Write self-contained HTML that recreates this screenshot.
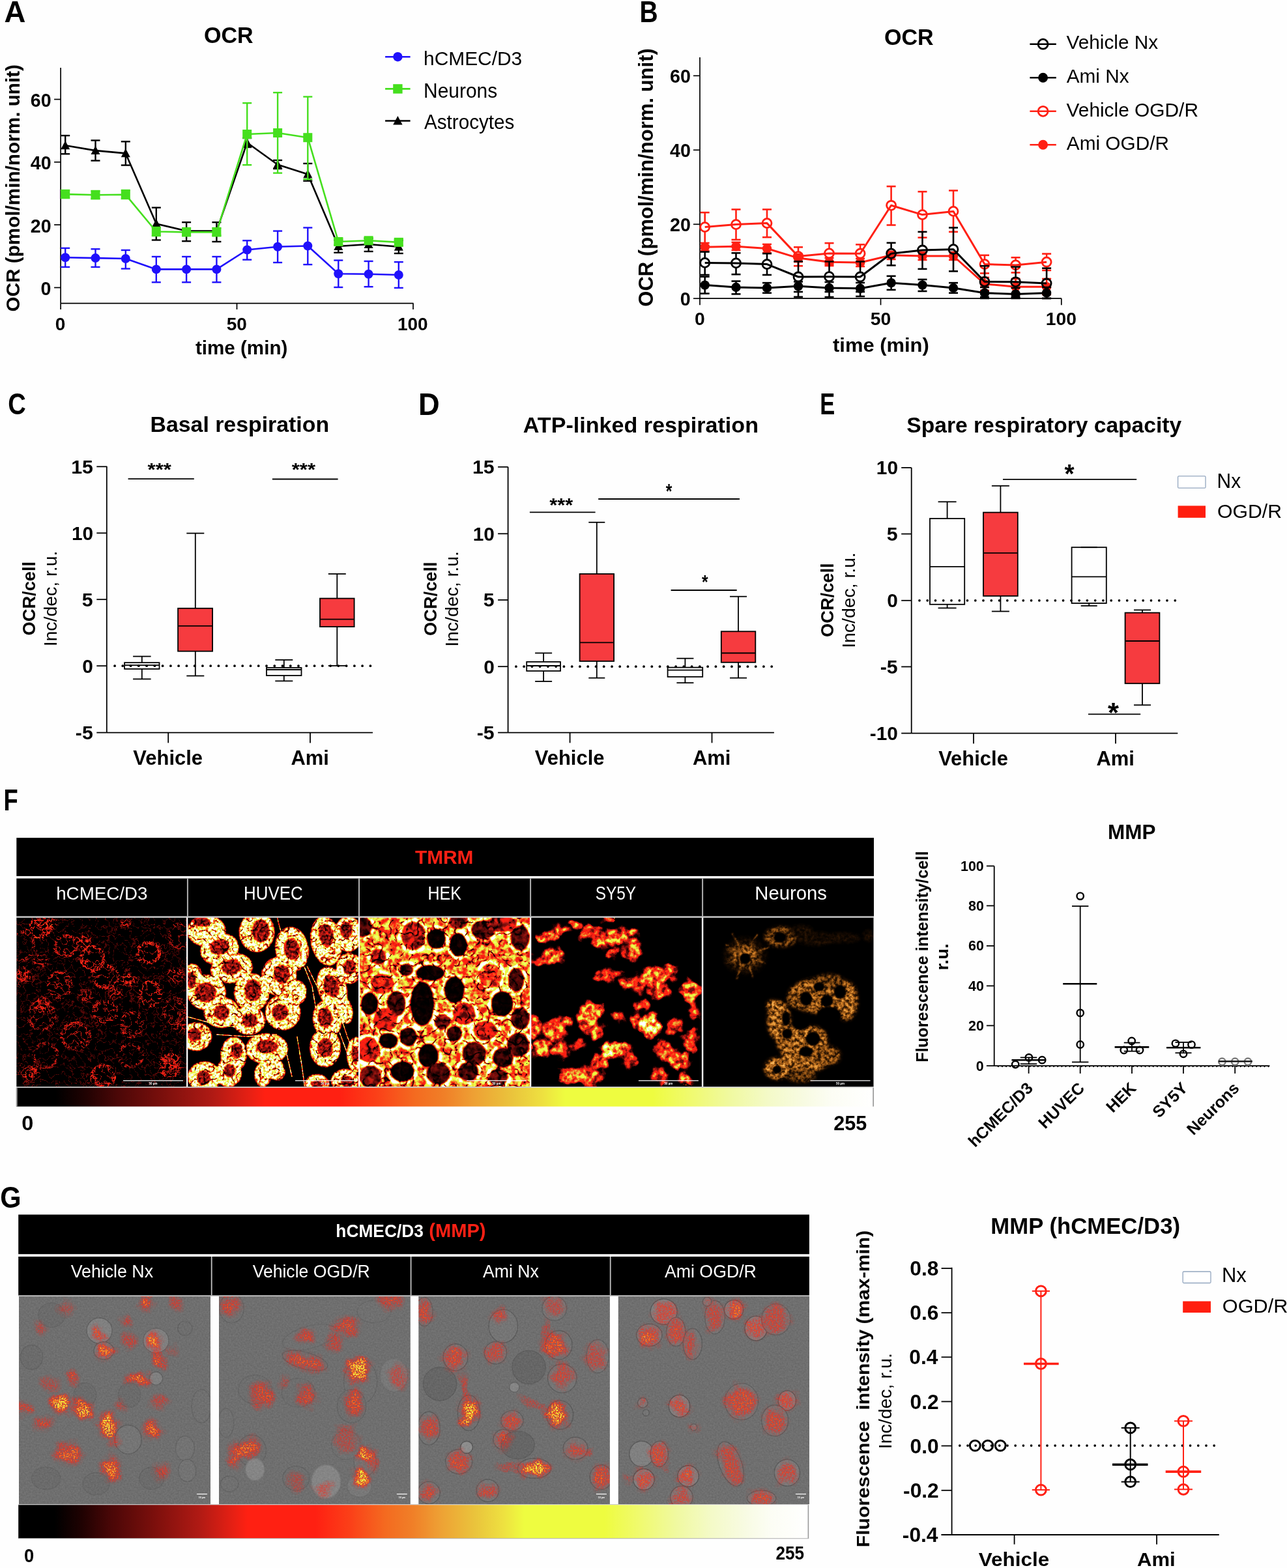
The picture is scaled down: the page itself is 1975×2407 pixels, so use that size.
<!DOCTYPE html>
<html><head><meta charset="utf-8"><title>Figure</title>
<style>
html,body{margin:0;padding:0;background:#fff;}
body{width:1975px;height:2407px;overflow:hidden;}
svg{display:block;}
</style></head><body>
<svg width="1975" height="2407" viewBox="0 0 1975 2407">
<defs><linearGradient id="cbar" x1="0" y1="0" x2="1" y2="0"><stop offset="0" stop-color="#000000"/><stop offset="0.046" stop-color="#000000"/><stop offset="0.081" stop-color="#200202"/><stop offset="0.117" stop-color="#4a0707"/><stop offset="0.17" stop-color="#7a0f0c"/><stop offset="0.229" stop-color="#b01a14"/><stop offset="0.273" stop-color="#e82014"/><stop offset="0.29" stop-color="#ff2012"/><stop offset="0.376" stop-color="#ff2012"/><stop offset="0.42" stop-color="#fb4018"/><stop offset="0.464" stop-color="#f46a20"/><stop offset="0.5" stop-color="#f08028"/><stop offset="0.533" stop-color="#eea034"/><stop offset="0.578" stop-color="#eac43c"/><stop offset="0.613" stop-color="#eee040"/><stop offset="0.64" stop-color="#eefc40"/><stop offset="0.742" stop-color="#eefc40"/><stop offset="0.787" stop-color="#f0fa70"/><stop offset="0.832" stop-color="#f0f9a0"/><stop offset="0.877" stop-color="#f4fac8"/><stop offset="0.922" stop-color="#f8fbe4"/><stop offset="0.951" stop-color="#fcfdf4"/><stop offset="1.0" stop-color="#ffffff"/></linearGradient><filter id="hotB" x="0" y="0" width="1" height="1" filterUnits="objectBoundingBox" color-interpolation-filters="sRGB"><feTurbulence type="turbulence" baseFrequency="0.15" numOctaves="3" seed="7" result="n0"/><feColorMatrix in="n0" type="matrix" values="-3 0 0 0 1.0  -3 0 0 0 1.0  -3 0 0 0 1.0  0 0 0 0 1" result="n"/><feComposite in="SourceGraphic" in2="n" operator="arithmetic" k1="1.0" k2="0" k3="0" k4="0" result="i0"/><feComponentTransfer in="i0"><feFuncR type="table" tableValues="0.000 0.000 0.059 0.184 0.319 0.430 0.541 0.653 0.795 0.954 1.000 1.000 1.000 0.989 0.973 0.955 0.941 0.934 0.923 0.925 0.933 0.933 0.933 0.933 0.935 0.940 0.941 0.945 0.956 0.967 0.981 0.992 1.000"/><feFuncG type="table" tableValues="0.000 0.000 0.004 0.015 0.032 0.051 0.072 0.094 0.113 0.125 0.125 0.125 0.125 0.212 0.316 0.427 0.502 0.621 0.720 0.818 0.927 0.988 0.988 0.988 0.987 0.981 0.978 0.977 0.980 0.983 0.989 0.995 1.000"/><feFuncB type="table" tableValues="0.000 0.000 0.004 0.015 0.030 0.042 0.056 0.073 0.078 0.075 0.071 0.071 0.071 0.087 0.107 0.130 0.157 0.201 0.224 0.242 0.251 0.251 0.251 0.251 0.284 0.415 0.546 0.668 0.777 0.856 0.928 0.972 1.000"/><feFuncA type="linear" slope="0" intercept="1"/></feComponentTransfer></filter><filter id="cont" x="0" y="0" width="1" height="1" filterUnits="objectBoundingBox" color-interpolation-filters="sRGB"><feTurbulence type="fractalNoise" baseFrequency="0.08" numOctaves="3" seed="3" result="n0"/><feColorMatrix in="n0" type="matrix" values="1 0 0 0 0  1 0 0 0 0  1 0 0 0 0  0 0 0 0 1" result="n1"/><feComponentTransfer in="n1" result="n2"><feFuncR type="table" tableValues="0.000 0.000 0.000 0.000 0.000 0.000 0.000 0.000 0.000 0.000 0.000 0.000 0.000 0.000 0.000 0.000 0.000 0.000 0.000 0.444 1.000 0.444 0.000 0.000 0.000 0.000 0.000 0.000 0.000 0.000 0.000 0.000 0.000 0.000 0.000 0.000 0.000 0.000 0.000 0.000 0.000"/><feFuncG type="table" tableValues="0.000 0.000 0.000 0.000 0.000 0.000 0.000 0.000 0.000 0.000 0.000 0.000 0.000 0.000 0.000 0.000 0.000 0.000 0.000 0.444 1.000 0.444 0.000 0.000 0.000 0.000 0.000 0.000 0.000 0.000 0.000 0.000 0.000 0.000 0.000 0.000 0.000 0.000 0.000 0.000 0.000"/><feFuncB type="table" tableValues="0.000 0.000 0.000 0.000 0.000 0.000 0.000 0.000 0.000 0.000 0.000 0.000 0.000 0.000 0.000 0.000 0.000 0.000 0.000 0.444 1.000 0.444 0.000 0.000 0.000 0.000 0.000 0.000 0.000 0.000 0.000 0.000 0.000 0.000 0.000 0.000 0.000 0.000 0.000 0.000 0.000"/></feComponentTransfer><feComposite in="SourceGraphic" in2="n2" operator="arithmetic" k1="1" k2="0" k3="0" k4="0" result="i0"/><feComponentTransfer in="i0"><feFuncR type="table" tableValues="0.000 0.000 0.059 0.184 0.319 0.430 0.541 0.653 0.795 0.954 1.000 1.000 1.000 0.989 0.973 0.955 0.941 0.934 0.923 0.925 0.933 0.933 0.933 0.933 0.935 0.940 0.941 0.945 0.956 0.967 0.981 0.992 1.000"/><feFuncG type="table" tableValues="0.000 0.000 0.004 0.015 0.032 0.051 0.072 0.094 0.113 0.125 0.125 0.125 0.125 0.212 0.316 0.427 0.502 0.621 0.720 0.818 0.927 0.988 0.988 0.988 0.987 0.981 0.978 0.977 0.980 0.983 0.989 0.995 1.000"/><feFuncB type="table" tableValues="0.000 0.000 0.004 0.015 0.030 0.042 0.056 0.073 0.078 0.075 0.071 0.071 0.071 0.087 0.107 0.130 0.157 0.201 0.224 0.242 0.251 0.251 0.251 0.251 0.284 0.415 0.546 0.668 0.777 0.856 0.928 0.972 1.000"/><feFuncA type="linear" slope="0" intercept="1"/></feComponentTransfer></filter><filter id="hotA" x="0" y="0" width="1" height="1" filterUnits="objectBoundingBox" color-interpolation-filters="sRGB"><feTurbulence type="fractalNoise" baseFrequency="0.25" numOctaves="2" seed="4" result="n0"/><feColorMatrix in="n0" type="matrix" values="2.2 0 0 0 -0.6  2.2 0 0 0 -0.6  2.2 0 0 0 -0.6  0 0 0 0 1" result="n"/><feComposite in="SourceGraphic" in2="n" operator="arithmetic" k1="1.0" k2="0.5" k3="0" k4="0" result="i0"/><feTurbulence type="turbulence" baseFrequency="0.07" numOctaves="2" seed="9" result="t0"/><feColorMatrix in="t0" type="matrix" values="7 0 0 0 -0.05  7 0 0 0 -0.05  7 0 0 0 -0.05  0 0 0 0 1" result="t"/><feComposite in="i0" in2="t" operator="arithmetic" k1="1" k2="0" k3="0" k4="0" result="i1"/><feComponentTransfer in="i1"><feFuncR type="table" tableValues="0.000 0.000 0.059 0.184 0.319 0.430 0.541 0.653 0.795 0.954 1.000 1.000 1.000 0.989 0.973 0.955 0.941 0.934 0.923 0.925 0.933 0.933 0.933 0.933 0.935 0.940 0.941 0.945 0.956 0.967 0.981 0.992 1.000"/><feFuncG type="table" tableValues="0.000 0.000 0.004 0.015 0.032 0.051 0.072 0.094 0.113 0.125 0.125 0.125 0.125 0.212 0.316 0.427 0.502 0.621 0.720 0.818 0.927 0.988 0.988 0.988 0.987 0.981 0.978 0.977 0.980 0.983 0.989 0.995 1.000"/><feFuncB type="table" tableValues="0.000 0.000 0.004 0.015 0.030 0.042 0.056 0.073 0.078 0.075 0.071 0.071 0.071 0.087 0.107 0.130 0.157 0.201 0.224 0.242 0.251 0.251 0.251 0.251 0.284 0.415 0.546 0.668 0.777 0.856 0.928 0.972 1.000"/><feFuncA type="linear" slope="0" intercept="1"/></feComponentTransfer></filter><filter id="hotH" x="0" y="0" width="1" height="1" filterUnits="objectBoundingBox" color-interpolation-filters="sRGB"><feTurbulence type="fractalNoise" baseFrequency="0.11" numOctaves="3" seed="6" result="n0"/><feColorMatrix in="n0" type="matrix" values="2.2 0 0 0 -0.6  2.2 0 0 0 -0.6  2.2 0 0 0 -0.6  0 0 0 0 1" result="n"/><feComposite in="SourceGraphic" in2="n" operator="arithmetic" k1="1.0" k2="0.5" k3="0" k4="0" result="i0"/><feTurbulence type="turbulence" baseFrequency="0.06" numOctaves="2" seed="11" result="t0"/><feColorMatrix in="t0" type="matrix" values="6 0 0 0 0.0  6 0 0 0 0.0  6 0 0 0 0.0  0 0 0 0 1" result="t"/><feComposite in="i0" in2="t" operator="arithmetic" k1="1" k2="0" k3="0" k4="0" result="i1"/><feComponentTransfer in="i1"><feFuncR type="table" tableValues="0.000 0.000 0.059 0.184 0.319 0.430 0.541 0.653 0.795 0.954 1.000 1.000 1.000 0.989 0.973 0.955 0.941 0.934 0.923 0.925 0.933 0.933 0.933 0.933 0.935 0.940 0.941 0.945 0.956 0.967 0.981 0.992 1.000"/><feFuncG type="table" tableValues="0.000 0.000 0.004 0.015 0.032 0.051 0.072 0.094 0.113 0.125 0.125 0.125 0.125 0.212 0.316 0.427 0.502 0.621 0.720 0.818 0.927 0.988 0.988 0.988 0.987 0.981 0.978 0.977 0.980 0.983 0.989 0.995 1.000"/><feFuncB type="table" tableValues="0.000 0.000 0.004 0.015 0.030 0.042 0.056 0.073 0.078 0.075 0.071 0.071 0.071 0.087 0.107 0.130 0.157 0.201 0.224 0.242 0.251 0.251 0.251 0.251 0.284 0.415 0.546 0.668 0.777 0.856 0.928 0.972 1.000"/><feFuncA type="linear" slope="0" intercept="1"/></feComponentTransfer></filter><filter id="hotC" x="0" y="0" width="1" height="1" filterUnits="objectBoundingBox" color-interpolation-filters="sRGB"><feTurbulence type="fractalNoise" baseFrequency="0.05" numOctaves="2" seed="31" result="dn"/><feDisplacementMap in="SourceGraphic" in2="dn" scale="22" xChannelSelector="R" yChannelSelector="G" result="src"/><feTurbulence type="fractalNoise" baseFrequency="0.12" numOctaves="3" seed="9" result="n0"/><feColorMatrix in="n0" type="matrix" values="2.2 0 0 0 -0.6  2.2 0 0 0 -0.6  2.2 0 0 0 -0.6  0 0 0 0 1" result="n"/><feComposite in="src" in2="n" operator="arithmetic" k1="1.1" k2="0.35" k3="0" k4="0" result="i0"/><feComponentTransfer in="i0"><feFuncR type="table" tableValues="0.000 0.000 0.059 0.184 0.319 0.430 0.541 0.653 0.795 0.954 1.000 1.000 1.000 0.989 0.973 0.955 0.941 0.934 0.923 0.925 0.933 0.933 0.933 0.933 0.935 0.940 0.941 0.945 0.956 0.967 0.981 0.992 1.000"/><feFuncG type="table" tableValues="0.000 0.000 0.004 0.015 0.032 0.051 0.072 0.094 0.113 0.125 0.125 0.125 0.125 0.212 0.316 0.427 0.502 0.621 0.720 0.818 0.927 0.988 0.988 0.988 0.987 0.981 0.978 0.977 0.980 0.983 0.989 0.995 1.000"/><feFuncB type="table" tableValues="0.000 0.000 0.004 0.015 0.030 0.042 0.056 0.073 0.078 0.075 0.071 0.071 0.071 0.087 0.107 0.130 0.157 0.201 0.224 0.242 0.251 0.251 0.251 0.251 0.284 0.415 0.546 0.668 0.777 0.856 0.928 0.972 1.000"/><feFuncA type="linear" slope="0" intercept="1"/></feComponentTransfer></filter><filter id="orgN" x="0" y="0" width="1" height="1" filterUnits="objectBoundingBox" color-interpolation-filters="sRGB"><feTurbulence type="fractalNoise" baseFrequency="0.2" numOctaves="3" seed="11" result="n0"/><feColorMatrix in="n0" type="matrix" values="2.4 0 0 0 -0.7  2.4 0 0 0 -0.7  2.4 0 0 0 -0.7  0 0 0 0 1" result="n"/><feComposite in="SourceGraphic" in2="n" operator="arithmetic" k1="1.1" k2="0.35" k3="0" k4="0" result="i0"/><feComponentTransfer in="i0"><feFuncR type="table" tableValues="0.000 0.021 0.042 0.064 0.085 0.110 0.149 0.188 0.227 0.267 0.306 0.345 0.384 0.423 0.458 0.493 0.528 0.563 0.598 0.633 0.669 0.704 0.739 0.769 0.795 0.821 0.848 0.874 0.900 0.926 0.951 0.975 1.000"/><feFuncG type="table" tableValues="0.000 0.010 0.020 0.029 0.039 0.052 0.074 0.097 0.119 0.142 0.164 0.187 0.209 0.232 0.254 0.276 0.298 0.320 0.342 0.364 0.386 0.408 0.430 0.457 0.486 0.516 0.545 0.575 0.604 0.639 0.698 0.757 0.816"/><feFuncB type="table" tableValues="0.000 0.002 0.003 0.005 0.007 0.009 0.014 0.019 0.024 0.028 0.033 0.038 0.043 0.049 0.057 0.065 0.073 0.081 0.090 0.098 0.106 0.114 0.122 0.137 0.157 0.176 0.196 0.216 0.235 0.267 0.345 0.424 0.502"/><feFuncA type="linear" slope="0" intercept="1"/></feComponentTransfer></filter><filter id="redG" x="0" y="0" width="1" height="1" filterUnits="objectBoundingBox" color-interpolation-filters="sRGB"><feTurbulence type="fractalNoise" baseFrequency="0.05" numOctaves="2" seed="37" result="dn"/><feDisplacementMap in="SourceGraphic" in2="dn" scale="20" xChannelSelector="R" yChannelSelector="G" result="src"/><feTurbulence type="fractalNoise" baseFrequency="0.45" numOctaves="2" seed="13" result="n0"/><feColorMatrix in="n0" type="matrix" values="3.0 0 0 0 -1.0  3.0 0 0 0 -1.0  3.0 0 0 0 -1.0  0 0 0 0 1" result="n"/><feComposite in="src" in2="n" operator="arithmetic" k1="1.2" k2="0.25" k3="0" k4="0" result="i0"/><feColorMatrix in="i0" type="matrix" values="0.55 0 0 0 0.25  0.55 0 0 0 0.25  0.55 0 0 0 0.25  2.6 0 0 0 0" result="i1"/><feComponentTransfer in="i1"><feFuncR type="table" tableValues="0.000 0.000 0.059 0.184 0.319 0.430 0.541 0.653 0.795 0.954 1.000 1.000 1.000 0.989 0.973 0.955 0.941 0.934 0.923 0.925 0.933 0.933 0.933 0.933 0.935 0.940 0.941 0.945 0.956 0.967 0.981 0.992 1.000"/><feFuncG type="table" tableValues="0.000 0.000 0.004 0.015 0.032 0.051 0.072 0.094 0.113 0.125 0.125 0.125 0.125 0.212 0.316 0.427 0.502 0.621 0.720 0.818 0.927 0.988 0.988 0.988 0.987 0.981 0.978 0.977 0.980 0.983 0.989 0.995 1.000"/><feFuncB type="table" tableValues="0.000 0.000 0.004 0.015 0.030 0.042 0.056 0.073 0.078 0.075 0.071 0.071 0.071 0.087 0.107 0.130 0.157 0.201 0.224 0.242 0.251 0.251 0.251 0.251 0.284 0.415 0.546 0.668 0.777 0.856 0.928 0.972 1.000"/></feComponentTransfer></filter><filter id="dic" x="0" y="0" width="1" height="1" filterUnits="objectBoundingBox" color-interpolation-filters="sRGB"><feTurbulence type="fractalNoise" baseFrequency="0.4" numOctaves="2" seed="21" result="n0"/><feColorMatrix in="n0" type="matrix" values="0.5 0 0 0 0.17  0.5 0 0 0 0.17  0.5 0 0 0 0.17  0 0 0 0 1" result="n"/><feComposite in="SourceGraphic" in2="n" operator="arithmetic" k1="0" k2="1" k3="0.2" k4="-0.084"/></filter><filter id="bl1" x="-20%" y="-20%" width="140%" height="140%"><feGaussianBlur stdDeviation="1.2"/></filter><filter id="bl2" x="-30%" y="-30%" width="160%" height="160%"><feGaussianBlur stdDeviation="2.5"/></filter><filter id="bl4" x="-50%" y="-50%" width="200%" height="200%"><feGaussianBlur stdDeviation="4"/></filter><clipPath id="cf0"><rect x="25.3" y="1408.6" width="260.7" height="259.4"/></clipPath><clipPath id="cf1"><rect x="288.3" y="1408.6" width="261.7" height="259.4"/></clipPath><clipPath id="cf2"><rect x="552.2" y="1408.6" width="260.8" height="259.4"/></clipPath><clipPath id="cf3"><rect x="815.3" y="1408.6" width="261.6" height="259.4"/></clipPath><clipPath id="cf4"><rect x="1079.3" y="1408.6" width="261.2" height="259.4"/></clipPath><clipPath id="cg0"><rect x="29.0" y="1990.0" width="294.0" height="319.0"/></clipPath><clipPath id="cg1"><rect x="336.0" y="1990.0" width="293.8" height="319.0"/></clipPath><clipPath id="cg2"><rect x="642.3" y="1990.0" width="293.6" height="319.0"/></clipPath><clipPath id="cg3"><rect x="948.8" y="1990.0" width="293.2" height="319.0"/></clipPath></defs>
<rect x="0" y="0" width="1975" height="2407" fill="#fefefe"/>
<g clip-path="url(#cf0)"><g filter="url(#cont)"><rect x="23.3" y="1406.6" width="264.7" height="263.4" fill="rgb(38,38,38)"/><ellipse cx="59.2" cy="1425.9" rx="18.4" ry="16.5" fill="rgb(92,92,92)" filter="url(#bl4)"/><ellipse cx="142.0" cy="1475.0" rx="19.6" ry="17.7" fill="rgb(83,83,83)" filter="url(#bl4)"/><ellipse cx="91.4" cy="1511.7" rx="20.8" ry="18.8" fill="rgb(77,77,77)" filter="url(#bl4)"/><ellipse cx="161.9" cy="1499.5" rx="20.8" ry="18.8" fill="rgb(77,77,77)" filter="url(#bl4)"/><ellipse cx="227.8" cy="1462.7" rx="19.6" ry="17.7" fill="rgb(83,83,83)" filter="url(#bl4)"/><ellipse cx="230.9" cy="1525.5" rx="19.6" ry="17.7" fill="rgb(83,83,83)" filter="url(#bl4)"/><ellipse cx="161.9" cy="1553.1" rx="20.8" ry="18.8" fill="rgb(73,73,73)" filter="url(#bl4)"/><ellipse cx="115.9" cy="1589.9" rx="23.3" ry="21.0" fill="rgb(73,73,73)" filter="url(#bl4)"/><ellipse cx="201.8" cy="1573.0" rx="19.6" ry="17.7" fill="rgb(70,70,70)" filter="url(#bl4)"/><ellipse cx="158.8" cy="1651.2" rx="18.4" ry="16.5" fill="rgb(77,77,77)" filter="url(#bl4)"/><ellipse cx="63.8" cy="1559.2" rx="20.8" ry="18.8" fill="rgb(70,70,70)" filter="url(#bl4)"/><ellipse cx="269.2" cy="1551.6" rx="19.6" ry="17.7" fill="rgb(70,70,70)" filter="url(#bl4)"/><ellipse cx="261.5" cy="1635.8" rx="18.4" ry="16.5" fill="rgb(83,83,83)" filter="url(#bl4)"/><ellipse cx="47.0" cy="1648.1" rx="17.2" ry="15.4" fill="rgb(77,77,77)" filter="url(#bl4)"/><ellipse cx="100.6" cy="1452.0" rx="18.4" ry="16.5" fill="rgb(77,77,77)" filter="url(#bl4)"/><ellipse cx="276.8" cy="1436.6" rx="18.4" ry="16.5" fill="rgb(64,64,64)" filter="url(#bl4)"/><ellipse cx="36.3" cy="1497.9" rx="15.9" ry="14.3" fill="rgb(73,73,73)" filter="url(#bl4)"/><ellipse cx="197.2" cy="1504.1" rx="14.7" ry="13.2" fill="rgb(83,83,83)" filter="url(#bl4)"/></g><g style="mix-blend-mode:lighten"><g filter="url(#hotB)"><rect x="23.3" y="1406.6" width="264.7" height="263.4" fill="#000"/><ellipse cx="59.2" cy="1425.9" rx="16.9" ry="12.3" fill="none" stroke="rgb(140,140,140)" stroke-width="5.5" /><ellipse cx="142.0" cy="1471.9" rx="16.9" ry="18.4" fill="none" stroke="rgb(128,128,128)" stroke-width="5.5" /><ellipse cx="91.4" cy="1511.7" rx="16.9" ry="19.2" fill="none" stroke="rgb(115,115,115)" stroke-width="5.5" /><ellipse cx="161.9" cy="1499.5" rx="18.4" ry="16.9" fill="none" stroke="rgb(115,115,115)" stroke-width="5.5" /><ellipse cx="227.8" cy="1462.7" rx="16.9" ry="15.3" fill="none" stroke="rgb(128,128,128)" stroke-width="5.5" /><ellipse cx="230.9" cy="1525.5" rx="15.3" ry="18.4" fill="none" stroke="rgb(128,128,128)" stroke-width="5.5" /><ellipse cx="161.9" cy="1553.1" rx="18.4" ry="15.3" fill="none" stroke="rgb(107,107,107)" stroke-width="5.5" /><ellipse cx="115.9" cy="1589.9" rx="21.5" ry="19.9" fill="none" stroke="rgb(107,107,107)" stroke-width="5.5" /><ellipse cx="201.8" cy="1573.0" rx="15.3" ry="18.4" fill="none" stroke="rgb(102,102,102)" stroke-width="5.5" /><ellipse cx="158.8" cy="1651.2" rx="16.9" ry="15.3" fill="none" stroke="rgb(115,115,115)" stroke-width="5.5" /><ellipse cx="63.8" cy="1559.2" rx="19.9" ry="21.5" fill="none" stroke="rgb(89,89,89)" stroke-width="5.5" /><ellipse cx="269.2" cy="1551.6" rx="16.9" ry="19.9" fill="none" stroke="rgb(89,89,89)" stroke-width="5.5" /><ellipse cx="200.2" cy="1620.5" rx="18.4" ry="16.9" fill="none" stroke="rgb(89,89,89)" stroke-width="5.5" /><ellipse cx="70.0" cy="1620.5" rx="18.4" ry="18.4" fill="none" stroke="rgb(89,89,89)" stroke-width="5.5" /><ellipse cx="261.5" cy="1635.8" rx="15.3" ry="16.9" fill="none" stroke="rgb(115,115,115)" stroke-width="5.5" /><ellipse cx="33.2" cy="1452.0" rx="18.4" ry="21.5" fill="none" stroke="rgb(89,89,89)" stroke-width="5.5" /><ellipse cx="276.8" cy="1436.6" rx="16.9" ry="18.4" fill="none" stroke="rgb(89,89,89)" stroke-width="5.5" /><ellipse cx="100.6" cy="1452.0" rx="16.9" ry="15.3" fill="none" stroke="rgb(107,107,107)" stroke-width="5.5" /><ellipse cx="47.0" cy="1648.1" rx="13.8" ry="11.7" fill="rgb(128,128,128)" filter="url(#bl2)"/><ellipse cx="63.8" cy="1543.9" rx="16.9" ry="14.3" fill="rgb(115,115,115)" filter="url(#bl2)"/><ellipse cx="36.3" cy="1497.9" rx="13.8" ry="11.7" fill="rgb(115,115,115)" filter="url(#bl2)"/><ellipse cx="197.2" cy="1504.1" rx="12.3" ry="10.4" fill="rgb(140,140,140)" filter="url(#bl2)"/><ellipse cx="269.2" cy="1497.9" rx="15.3" ry="13.0" fill="rgb(107,107,107)" filter="url(#bl2)"/><ellipse cx="62.3" cy="1475.0" rx="13.8" ry="11.7" fill="rgb(102,102,102)" filter="url(#bl2)"/><ellipse cx="276.8" cy="1574.6" rx="13.8" ry="11.7" fill="rgb(102,102,102)" filter="url(#bl2)"/><ellipse cx="260.0" cy="1632.8" rx="15.3" ry="13.0" fill="rgb(128,128,128)" filter="url(#bl2)"/><ellipse cx="140.5" cy="1654.2" rx="9.2" ry="7.8" fill="rgb(140,140,140)" filter="url(#bl2)"/><ellipse cx="128.2" cy="1444.3" rx="13.8" ry="11.7" fill="rgb(128,128,128)" filter="url(#bl2)"/><ellipse cx="70.0" cy="1415.2" rx="18.4" ry="15.6" fill="rgb(140,140,140)" filter="url(#bl2)"/><ellipse cx="192.6" cy="1418.3" rx="9.2" ry="7.8" fill="rgb(115,115,115)" filter="url(#bl2)"/><ellipse cx="131.3" cy="1528.6" rx="13.8" ry="11.7" fill="rgb(102,102,102)" filter="url(#bl2)"/><ellipse cx="177.2" cy="1525.5" rx="12.3" ry="10.4" fill="rgb(107,107,107)" filter="url(#bl2)"/></g></g></g>
<g clip-path="url(#cf1)"><g filter="url(#hotA)"><rect x="286.3" y="1406.6" width="265.7" height="263.4" fill="#000"/><ellipse cx="316.9" cy="1429.2" rx="29.3" ry="23.1" fill="rgb(219,219,219)" filter="url(#bl1)"/><ellipse cx="336.9" cy="1456.9" rx="29.3" ry="23.1" fill="rgb(219,219,219)" transform="rotate(-15 336.9 1456.9)" filter="url(#bl1)"/><ellipse cx="394.1" cy="1430.7" rx="26.6" ry="30.2" fill="rgb(219,219,219)" filter="url(#bl1)"/><ellipse cx="448.1" cy="1456.9" rx="24.9" ry="33.7" fill="rgb(219,219,219)" transform="rotate(-10 448.1 1456.9)" filter="url(#bl1)"/><ellipse cx="500.6" cy="1444.6" rx="23.1" ry="37.3" fill="rgb(219,219,219)" transform="rotate(-10 500.6 1444.6)" filter="url(#bl1)"/><ellipse cx="534.5" cy="1433.8" rx="21.3" ry="26.6" fill="rgb(219,219,219)" filter="url(#bl1)"/><ellipse cx="355.5" cy="1486.3" rx="32.0" ry="22.2" fill="rgb(219,219,219)" transform="rotate(-10 355.5 1486.3)" filter="url(#bl1)"/><ellipse cx="428.0" cy="1498.6" rx="26.6" ry="29.3" fill="rgb(219,219,219)" filter="url(#bl1)"/><ellipse cx="536.1" cy="1486.3" rx="19.5" ry="23.1" fill="rgb(219,219,219)" filter="url(#bl1)"/><ellipse cx="295.3" cy="1504.8" rx="16.0" ry="24.9" fill="rgb(219,219,219)" filter="url(#bl1)"/><ellipse cx="316.9" cy="1523.3" rx="29.3" ry="26.6" fill="rgb(219,219,219)" filter="url(#bl1)"/><ellipse cx="386.3" cy="1523.3" rx="26.6" ry="28.4" fill="rgb(219,219,219)" filter="url(#bl1)"/><ellipse cx="509.8" cy="1517.1" rx="21.3" ry="33.7" fill="rgb(219,219,219)" transform="rotate(-20 509.8 1517.1)" filter="url(#bl1)"/><ellipse cx="340.0" cy="1554.2" rx="26.6" ry="23.1" fill="rgb(219,219,219)" filter="url(#bl1)"/><ellipse cx="381.7" cy="1566.5" rx="24.9" ry="21.3" fill="rgb(219,219,219)" filter="url(#bl1)"/><ellipse cx="434.2" cy="1554.2" rx="26.6" ry="26.6" fill="rgb(219,219,219)" filter="url(#bl1)"/><ellipse cx="502.1" cy="1565.0" rx="21.3" ry="28.4" fill="rgb(219,219,219)" transform="rotate(-10 502.1 1565.0)" filter="url(#bl1)"/><ellipse cx="301.4" cy="1591.2" rx="23.1" ry="21.3" fill="rgb(219,219,219)" filter="url(#bl1)"/><ellipse cx="409.5" cy="1609.8" rx="32.0" ry="23.1" fill="rgb(219,219,219)" filter="url(#bl1)"/><ellipse cx="358.6" cy="1619.0" rx="19.5" ry="26.6" fill="rgb(219,219,219)" filter="url(#bl1)"/><ellipse cx="499.0" cy="1608.2" rx="23.1" ry="29.3" fill="rgb(219,219,219)" filter="url(#bl1)"/><ellipse cx="546.9" cy="1619.0" rx="14.2" ry="26.6" fill="rgb(219,219,219)" filter="url(#bl1)"/><ellipse cx="313.8" cy="1653.0" rx="24.9" ry="23.1" fill="rgb(219,219,219)" filter="url(#bl1)"/><ellipse cx="350.8" cy="1646.8" rx="19.5" ry="21.3" fill="rgb(219,219,219)" filter="url(#bl1)"/><ellipse cx="529.9" cy="1659.2" rx="21.3" ry="17.8" fill="rgb(219,219,219)" filter="url(#bl1)"/><ellipse cx="486.7" cy="1663.8" rx="17.8" ry="14.2" fill="rgb(219,219,219)" filter="url(#bl1)"/><ellipse cx="421.8" cy="1640.6" rx="14.2" ry="17.8" fill="rgb(219,219,219)" transform="rotate(-30 421.8 1640.6)" filter="url(#bl1)"/><ellipse cx="526.8" cy="1549.6" rx="13.3" ry="22.2" fill="rgb(219,219,219)" transform="rotate(-20 526.8 1549.6)" filter="url(#bl1)"/><ellipse cx="455.8" cy="1523.3" rx="14.2" ry="17.8" fill="rgb(219,219,219)" filter="url(#bl1)"/><ellipse cx="403.3" cy="1649.9" rx="12.4" ry="17.8" fill="rgb(219,219,219)" filter="url(#bl1)"/><path d="M463.5,1475.5 L479.0,1514.1 L486.7,1560.4 L494.4,1606.7" fill="none" stroke="rgb(191,191,191)" stroke-width="1.3"/><path d="M471.2,1483.2 L494.4,1529.5 L517.6,1575.8 L540.7,1637.6" fill="none" stroke="rgb(191,191,191)" stroke-width="1.3"/><path d="M286.0,1560.4 L332.3,1572.7 L378.6,1578.9" fill="none" stroke="rgb(191,191,191)" stroke-width="1.3"/><path d="M332.3,1588.2 L378.6,1591.2 L424.9,1588.2" fill="none" stroke="rgb(191,191,191)" stroke-width="1.3"/><path d="M455.8,1591.2 L463.5,1637.6 L468.2,1674.0" fill="none" stroke="rgb(191,191,191)" stroke-width="1.3"/><path d="M437.3,1606.7 L448.1,1653.0" fill="none" stroke="rgb(191,191,191)" stroke-width="1.3"/><path d="M517.6,1544.9 L533.0,1591.2 L548.4,1629.8" fill="none" stroke="rgb(191,191,191)" stroke-width="1.3"/><path d="M366.3,1506.3 L378.6,1529.5 L401.8,1544.9" fill="none" stroke="rgb(191,191,191)" stroke-width="1.3"/><path d="M424.9,1406.0 L432.7,1436.9 L448.1,1470.8" fill="none" stroke="rgb(191,191,191)" stroke-width="1.3"/><ellipse cx="309.2" cy="1415.3" rx="13.9" ry="7.7" fill="rgb(51,51,51)" filter="url(#bl1)"/><ellipse cx="336.9" cy="1453.9" rx="15.4" ry="11.6" fill="rgb(51,51,51)" transform="rotate(-15 336.9 1453.9)" filter="url(#bl1)"/><ellipse cx="400.2" cy="1429.2" rx="13.9" ry="17.8" fill="rgb(51,51,51)" filter="url(#bl1)"/><ellipse cx="448.1" cy="1456.9" rx="12.3" ry="17.0" fill="rgb(51,51,51)" transform="rotate(-10 448.1 1456.9)" filter="url(#bl1)"/><ellipse cx="500.6" cy="1435.3" rx="11.6" ry="17.8" fill="rgb(51,51,51)" transform="rotate(-10 500.6 1435.3)" filter="url(#bl1)"/><ellipse cx="531.4" cy="1427.6" rx="10.0" ry="13.1" fill="rgb(51,51,51)" filter="url(#bl1)"/><ellipse cx="355.5" cy="1484.7" rx="15.4" ry="11.6" fill="rgb(51,51,51)" transform="rotate(-10 355.5 1484.7)" filter="url(#bl1)"/><ellipse cx="432.7" cy="1495.5" rx="12.3" ry="14.7" fill="rgb(51,51,51)" filter="url(#bl1)"/><ellipse cx="536.1" cy="1484.7" rx="10.0" ry="11.6" fill="rgb(51,51,51)" filter="url(#bl1)"/><ellipse cx="293.7" cy="1504.8" rx="7.7" ry="13.1" fill="rgb(51,51,51)" filter="url(#bl1)"/><ellipse cx="315.3" cy="1523.3" rx="17.0" ry="15.4" fill="rgb(51,51,51)" filter="url(#bl1)"/><ellipse cx="387.9" cy="1520.2" rx="13.1" ry="17.0" fill="rgb(51,51,51)" filter="url(#bl1)"/><ellipse cx="508.3" cy="1514.1" rx="11.6" ry="17.8" fill="rgb(51,51,51)" transform="rotate(-20 508.3 1514.1)" filter="url(#bl1)"/><ellipse cx="340.0" cy="1554.2" rx="12.3" ry="11.6" fill="rgb(51,51,51)" filter="url(#bl1)"/><ellipse cx="383.3" cy="1566.5" rx="12.3" ry="10.8" fill="rgb(51,51,51)" filter="url(#bl1)"/><ellipse cx="429.6" cy="1554.2" rx="13.1" ry="13.1" fill="rgb(51,51,51)" filter="url(#bl1)"/><ellipse cx="499.0" cy="1561.9" rx="11.6" ry="15.4" fill="rgb(51,51,51)" transform="rotate(-10 499.0 1561.9)" filter="url(#bl1)"/><ellipse cx="298.3" cy="1588.2" rx="10.8" ry="10.8" fill="rgb(51,51,51)" filter="url(#bl1)"/><ellipse cx="409.5" cy="1606.7" rx="17.0" ry="10.8" fill="rgb(51,51,51)" filter="url(#bl1)"/><ellipse cx="363.2" cy="1612.9" rx="9.3" ry="12.3" fill="rgb(51,51,51)" filter="url(#bl1)"/><ellipse cx="499.0" cy="1608.2" rx="12.3" ry="14.7" fill="rgb(51,51,51)" filter="url(#bl1)"/><ellipse cx="545.3" cy="1619.0" rx="6.2" ry="13.9" fill="rgb(51,51,51)" filter="url(#bl1)"/><ellipse cx="312.2" cy="1654.5" rx="10.8" ry="11.6" fill="rgb(51,51,51)" filter="url(#bl1)"/><ellipse cx="352.4" cy="1643.7" rx="9.3" ry="10.8" fill="rgb(51,51,51)" filter="url(#bl1)"/><ellipse cx="533.0" cy="1660.7" rx="10.8" ry="9.3" fill="rgb(51,51,51)" filter="url(#bl1)"/><ellipse cx="486.7" cy="1665.3" rx="9.3" ry="7.7" fill="rgb(51,51,51)" filter="url(#bl1)"/></g></g>
<g clip-path="url(#cf2)"><g filter="url(#hotH)"><rect x="550.2" y="1406.6" width="264.8" height="263.4" fill="#000"/><rect x="550" y="1406" width="270" height="270" fill="rgb(133,133,133)"/><ellipse cx="580.6" cy="1468.8" rx="13.5" ry="13.5" fill="none" stroke="rgb(242,242,242)" stroke-width="6" filter="url(#bl1)"/><ellipse cx="634.3" cy="1436.6" rx="20.2" ry="24.3" fill="none" stroke="rgb(242,242,242)" stroke-width="6" filter="url(#bl1)"/><ellipse cx="669.5" cy="1441.2" rx="16.2" ry="17.5" fill="none" stroke="rgb(242,242,242)" stroke-width="6" filter="url(#bl1)"/><ellipse cx="703.2" cy="1450.4" rx="14.8" ry="20.2" fill="none" stroke="rgb(242,242,242)" stroke-width="6" filter="url(#bl1)"/><ellipse cx="741.5" cy="1427.5" rx="20.2" ry="16.2" fill="none" stroke="rgb(242,242,242)" stroke-width="6" filter="url(#bl1)"/><ellipse cx="769.1" cy="1418.3" rx="27.0" ry="13.5" fill="none" stroke="rgb(242,242,242)" stroke-width="6" filter="url(#bl1)"/><ellipse cx="798.2" cy="1439.7" rx="16.2" ry="21.6" fill="none" stroke="rgb(242,242,242)" stroke-width="6" filter="url(#bl1)"/><ellipse cx="586.8" cy="1510.2" rx="20.2" ry="17.5" fill="none" stroke="rgb(242,242,242)" stroke-width="6" filter="url(#bl1)"/><ellipse cx="623.6" cy="1488.7" rx="12.1" ry="10.8" fill="none" stroke="rgb(242,242,242)" stroke-width="6" filter="url(#bl1)"/><ellipse cx="660.3" cy="1493.3" rx="24.3" ry="13.5" fill="none" stroke="rgb(242,242,242)" stroke-width="6" filter="url(#bl1)"/><ellipse cx="648.1" cy="1540.8" rx="20.2" ry="37.8" fill="none" stroke="rgb(242,242,242)" stroke-width="6" filter="url(#bl1)"/><ellipse cx="697.1" cy="1519.4" rx="17.5" ry="22.9" fill="none" stroke="rgb(242,242,242)" stroke-width="6" filter="url(#bl1)"/><ellipse cx="752.3" cy="1497.9" rx="20.2" ry="20.2" fill="none" stroke="rgb(242,242,242)" stroke-width="6" filter="url(#bl1)"/><ellipse cx="792.1" cy="1504.1" rx="13.5" ry="20.2" fill="none" stroke="rgb(242,242,242)" stroke-width="6" filter="url(#bl1)"/><ellipse cx="566.9" cy="1540.8" rx="14.8" ry="18.9" fill="none" stroke="rgb(242,242,242)" stroke-width="6" filter="url(#bl1)"/><ellipse cx="608.2" cy="1540.8" rx="16.2" ry="21.6" fill="none" stroke="rgb(242,242,242)" stroke-width="6" filter="url(#bl1)"/><ellipse cx="591.4" cy="1565.4" rx="20.2" ry="20.2" fill="none" stroke="rgb(242,242,242)" stroke-width="6" filter="url(#bl1)"/><ellipse cx="712.4" cy="1556.2" rx="18.9" ry="18.9" fill="none" stroke="rgb(242,242,242)" stroke-width="6" filter="url(#bl1)"/><ellipse cx="770.7" cy="1540.8" rx="18.9" ry="21.6" fill="none" stroke="rgb(242,242,242)" stroke-width="6" filter="url(#bl1)"/><ellipse cx="798.2" cy="1563.8" rx="16.2" ry="18.9" fill="none" stroke="rgb(242,242,242)" stroke-width="6" filter="url(#bl1)"/><ellipse cx="744.6" cy="1582.2" rx="20.2" ry="16.2" fill="none" stroke="rgb(242,242,242)" stroke-width="6" filter="url(#bl1)"/><ellipse cx="678.7" cy="1568.4" rx="13.5" ry="13.5" fill="none" stroke="rgb(242,242,242)" stroke-width="6" filter="url(#bl1)"/><ellipse cx="626.6" cy="1591.4" rx="14.8" ry="16.2" fill="none" stroke="rgb(242,242,242)" stroke-width="6" filter="url(#bl1)"/><ellipse cx="697.1" cy="1586.8" rx="13.5" ry="13.5" fill="none" stroke="rgb(242,242,242)" stroke-width="6" filter="url(#bl1)"/><ellipse cx="565.3" cy="1611.3" rx="18.9" ry="21.6" fill="none" stroke="rgb(242,242,242)" stroke-width="6" filter="url(#bl1)"/><ellipse cx="596.0" cy="1597.5" rx="16.2" ry="13.5" fill="none" stroke="rgb(242,242,242)" stroke-width="6" filter="url(#bl1)"/><ellipse cx="657.3" cy="1620.5" rx="17.5" ry="20.2" fill="none" stroke="rgb(242,242,242)" stroke-width="6" filter="url(#bl1)"/><ellipse cx="727.8" cy="1617.5" rx="20.2" ry="20.2" fill="none" stroke="rgb(242,242,242)" stroke-width="6" filter="url(#bl1)"/><ellipse cx="772.2" cy="1623.6" rx="17.5" ry="17.5" fill="none" stroke="rgb(242,242,242)" stroke-width="6" filter="url(#bl1)"/><ellipse cx="795.2" cy="1603.7" rx="18.9" ry="20.2" fill="none" stroke="rgb(242,242,242)" stroke-width="6" filter="url(#bl1)"/><ellipse cx="568.4" cy="1652.7" rx="18.9" ry="18.9" fill="none" stroke="rgb(242,242,242)" stroke-width="6" filter="url(#bl1)"/><ellipse cx="617.4" cy="1645.0" rx="20.2" ry="17.5" fill="none" stroke="rgb(242,242,242)" stroke-width="6" filter="url(#bl1)"/><ellipse cx="672.6" cy="1648.1" rx="20.2" ry="18.9" fill="none" stroke="rgb(242,242,242)" stroke-width="6" filter="url(#bl1)"/><ellipse cx="718.6" cy="1645.0" rx="17.5" ry="16.2" fill="none" stroke="rgb(242,242,242)" stroke-width="6" filter="url(#bl1)"/><ellipse cx="764.5" cy="1654.2" rx="16.2" ry="14.8" fill="none" stroke="rgb(242,242,242)" stroke-width="6" filter="url(#bl1)"/><ellipse cx="556.1" cy="1422.9" rx="16.2" ry="17.5" fill="none" stroke="rgb(242,242,242)" stroke-width="6" filter="url(#bl1)"/><ellipse cx="703.2" cy="1415.2" rx="16.2" ry="12.1" fill="none" stroke="rgb(242,242,242)" stroke-width="6" filter="url(#bl1)"/><ellipse cx="580.6" cy="1468.8" rx="12.3" ry="12.3" fill="rgb(56,56,56)" filter="url(#bl1)"/><ellipse cx="634.3" cy="1436.6" rx="18.4" ry="22.1" fill="rgb(62,62,62)" filter="url(#bl1)"/><ellipse cx="669.5" cy="1441.2" rx="14.7" ry="15.9" fill="rgb(17,17,17)" filter="url(#bl1)"/><ellipse cx="703.2" cy="1450.4" rx="13.5" ry="18.4" fill="rgb(17,17,17)" filter="url(#bl1)"/><ellipse cx="741.5" cy="1427.5" rx="18.4" ry="14.7" fill="rgb(34,34,34)" filter="url(#bl1)"/><ellipse cx="769.1" cy="1418.3" rx="24.5" ry="12.3" fill="rgb(56,56,56)" filter="url(#bl1)"/><ellipse cx="798.2" cy="1439.7" rx="14.7" ry="19.6" fill="rgb(34,34,34)" filter="url(#bl1)"/><ellipse cx="586.8" cy="1510.2" rx="18.4" ry="15.9" fill="rgb(79,79,79)" filter="url(#bl1)"/><ellipse cx="623.6" cy="1488.7" rx="11.0" ry="9.8" fill="rgb(28,28,28)" filter="url(#bl1)"/><ellipse cx="660.3" cy="1493.3" rx="22.1" ry="12.3" fill="rgb(17,17,17)" filter="url(#bl1)"/><ellipse cx="648.1" cy="1540.8" rx="18.4" ry="34.3" fill="rgb(17,17,17)" filter="url(#bl1)"/><ellipse cx="697.1" cy="1519.4" rx="15.9" ry="20.8" fill="rgb(17,17,17)" filter="url(#bl1)"/><ellipse cx="752.3" cy="1497.9" rx="18.4" ry="18.4" fill="rgb(98,98,98)" filter="url(#bl1)"/><ellipse cx="792.1" cy="1504.1" rx="12.3" ry="18.4" fill="rgb(28,28,28)" filter="url(#bl1)"/><ellipse cx="566.9" cy="1540.8" rx="13.5" ry="17.2" fill="rgb(17,17,17)" filter="url(#bl1)"/><ellipse cx="608.2" cy="1540.8" rx="14.7" ry="19.6" fill="rgb(28,28,28)" filter="url(#bl1)"/><ellipse cx="591.4" cy="1565.4" rx="18.4" ry="18.4" fill="rgb(70,70,70)" filter="url(#bl1)"/><ellipse cx="712.4" cy="1556.2" rx="17.2" ry="17.2" fill="rgb(62,62,62)" filter="url(#bl1)"/><ellipse cx="770.7" cy="1540.8" rx="17.2" ry="19.6" fill="rgb(17,17,17)" filter="url(#bl1)"/><ellipse cx="798.2" cy="1563.8" rx="14.7" ry="17.2" fill="rgb(28,28,28)" filter="url(#bl1)"/><ellipse cx="744.6" cy="1582.2" rx="18.4" ry="14.7" fill="rgb(70,70,70)" filter="url(#bl1)"/><ellipse cx="678.7" cy="1568.4" rx="12.3" ry="12.3" fill="rgb(42,42,42)" filter="url(#bl1)"/><ellipse cx="626.6" cy="1591.4" rx="13.5" ry="14.7" fill="rgb(22,22,22)" filter="url(#bl1)"/><ellipse cx="697.1" cy="1586.8" rx="12.3" ry="12.3" fill="rgb(22,22,22)" filter="url(#bl1)"/><ellipse cx="565.3" cy="1611.3" rx="17.2" ry="19.6" fill="rgb(70,70,70)" filter="url(#bl1)"/><ellipse cx="596.0" cy="1597.5" rx="14.7" ry="12.3" fill="rgb(17,17,17)" filter="url(#bl1)"/><ellipse cx="657.3" cy="1620.5" rx="15.9" ry="18.4" fill="rgb(17,17,17)" filter="url(#bl1)"/><ellipse cx="727.8" cy="1617.5" rx="18.4" ry="18.4" fill="rgb(28,28,28)" filter="url(#bl1)"/><ellipse cx="772.2" cy="1623.6" rx="15.9" ry="15.9" fill="rgb(22,22,22)" filter="url(#bl1)"/><ellipse cx="795.2" cy="1603.7" rx="17.2" ry="18.4" fill="rgb(28,28,28)" filter="url(#bl1)"/><ellipse cx="568.4" cy="1652.7" rx="17.2" ry="17.2" fill="rgb(42,42,42)" filter="url(#bl1)"/><ellipse cx="617.4" cy="1645.0" rx="18.4" ry="15.9" fill="rgb(17,17,17)" filter="url(#bl1)"/><ellipse cx="672.6" cy="1648.1" rx="18.4" ry="17.2" fill="rgb(28,28,28)" filter="url(#bl1)"/><ellipse cx="718.6" cy="1645.0" rx="15.9" ry="14.7" fill="rgb(28,28,28)" filter="url(#bl1)"/><ellipse cx="764.5" cy="1654.2" rx="14.7" ry="13.5" fill="rgb(34,34,34)" filter="url(#bl1)"/><ellipse cx="556.1" cy="1422.9" rx="14.7" ry="15.9" fill="rgb(28,28,28)" filter="url(#bl1)"/><ellipse cx="703.2" cy="1415.2" rx="14.7" ry="11.0" fill="rgb(42,42,42)" filter="url(#bl1)"/></g></g>
<g clip-path="url(#cf3)"><g filter="url(#hotC)"><rect x="813.3" y="1406.6" width="265.6" height="263.4" fill="#000"/><ellipse cx="840.6" cy="1436.6" rx="16.0" ry="10.2" fill="rgb(135,135,135)" filter="url(#bl2)"/><ellipse cx="862.0" cy="1425.9" rx="10.2" ry="5.8" fill="rgb(135,135,135)" filter="url(#bl2)"/><ellipse cx="883.5" cy="1418.3" rx="8.7" ry="5.8" fill="rgb(157,157,157)" filter="url(#bl2)"/><ellipse cx="908.0" cy="1432.0" rx="16.0" ry="8.7" fill="rgb(123,123,123)" filter="url(#bl2)"/><ellipse cx="920.3" cy="1445.8" rx="11.6" ry="8.7" fill="rgb(135,135,135)" filter="url(#bl2)"/><ellipse cx="947.8" cy="1441.2" rx="16.0" ry="11.6" fill="rgb(146,146,146)" filter="url(#bl2)"/><ellipse cx="966.2" cy="1432.0" rx="13.1" ry="8.7" fill="rgb(123,123,123)" filter="url(#bl2)"/><ellipse cx="973.9" cy="1456.6" rx="10.2" ry="14.6" fill="rgb(135,135,135)" filter="url(#bl2)"/><ellipse cx="938.7" cy="1462.7" rx="8.7" ry="5.8" fill="rgb(135,135,135)" filter="url(#bl2)"/><ellipse cx="848.2" cy="1467.3" rx="17.5" ry="11.6" fill="rgb(135,135,135)" filter="url(#bl2)"/><ellipse cx="828.3" cy="1475.0" rx="11.6" ry="8.7" fill="rgb(112,112,112)" filter="url(#bl2)"/><ellipse cx="929.5" cy="1412.1" rx="7.3" ry="4.4" fill="rgb(157,157,157)" filter="url(#bl2)"/><ellipse cx="901.9" cy="1427.5" rx="8.7" ry="8.7" fill="rgb(112,112,112)" filter="url(#bl2)"/><ellipse cx="960.1" cy="1464.2" rx="7.3" ry="7.3" fill="rgb(112,112,112)" filter="url(#bl2)"/><ellipse cx="932.5" cy="1497.9" rx="24.7" ry="5.8" fill="rgb(112,112,112)" filter="url(#bl2)"/><ellipse cx="973.9" cy="1510.2" rx="17.5" ry="11.6" fill="rgb(112,112,112)" filter="url(#bl2)"/><ellipse cx="1004.5" cy="1501.0" rx="18.9" ry="14.6" fill="rgb(135,135,135)" filter="url(#bl2)"/><ellipse cx="1027.5" cy="1491.8" rx="11.6" ry="11.6" fill="rgb(112,112,112)" filter="url(#bl2)"/><ellipse cx="1012.2" cy="1522.5" rx="17.5" ry="8.7" fill="rgb(112,112,112)" filter="url(#bl2)"/><ellipse cx="1058.2" cy="1522.5" rx="16.0" ry="17.5" fill="rgb(123,123,123)" filter="url(#bl2)"/><ellipse cx="1065.8" cy="1551.6" rx="8.7" ry="14.6" fill="rgb(112,112,112)" filter="url(#bl2)"/><ellipse cx="904.9" cy="1559.2" rx="17.5" ry="21.8" fill="rgb(135,135,135)" filter="url(#bl2)"/><ellipse cx="912.6" cy="1582.2" rx="13.1" ry="8.7" fill="rgb(123,123,123)" filter="url(#bl2)"/><ellipse cx="996.9" cy="1574.6" rx="16.0" ry="17.5" fill="rgb(191,191,191)" filter="url(#bl2)"/><ellipse cx="973.9" cy="1566.9" rx="8.7" ry="11.6" fill="rgb(112,112,112)" filter="url(#bl2)"/><ellipse cx="947.8" cy="1559.2" rx="8.7" ry="8.7" fill="rgb(112,112,112)" filter="url(#bl2)"/><ellipse cx="943.2" cy="1612.9" rx="17.5" ry="11.6" fill="rgb(191,191,191)" filter="url(#bl2)"/><ellipse cx="960.1" cy="1609.8" rx="11.6" ry="8.7" fill="rgb(123,123,123)" filter="url(#bl2)"/><ellipse cx="822.2" cy="1574.6" rx="10.2" ry="17.5" fill="rgb(135,135,135)" filter="url(#bl2)"/><ellipse cx="851.3" cy="1582.2" rx="17.5" ry="14.6" fill="rgb(123,123,123)" filter="url(#bl2)"/><ellipse cx="866.6" cy="1566.9" rx="10.2" ry="8.7" fill="rgb(112,112,112)" filter="url(#bl2)"/><ellipse cx="831.4" cy="1609.8" rx="16.0" ry="14.6" fill="rgb(135,135,135)" filter="url(#bl2)"/><ellipse cx="863.6" cy="1609.8" rx="13.1" ry="11.6" fill="rgb(112,112,112)" filter="url(#bl2)"/><ellipse cx="874.3" cy="1651.2" rx="20.4" ry="11.6" fill="rgb(135,135,135)" filter="url(#bl2)"/><ellipse cx="904.9" cy="1651.2" rx="17.5" ry="13.1" fill="rgb(123,123,123)" filter="url(#bl2)"/><ellipse cx="920.3" cy="1628.2" rx="13.1" ry="11.6" fill="rgb(112,112,112)" filter="url(#bl2)"/><ellipse cx="1019.9" cy="1612.9" rx="16.0" ry="14.6" fill="rgb(112,112,112)" filter="url(#bl2)"/><ellipse cx="1042.8" cy="1628.2" rx="14.6" ry="16.0" fill="rgb(123,123,123)" filter="url(#bl2)"/><ellipse cx="1058.2" cy="1597.5" rx="11.6" ry="14.6" fill="rgb(112,112,112)" filter="url(#bl2)"/><ellipse cx="1012.2" cy="1651.2" rx="13.1" ry="11.6" fill="rgb(112,112,112)" filter="url(#bl2)"/><ellipse cx="1052.0" cy="1657.3" rx="10.2" ry="8.7" fill="rgb(135,135,135)" filter="url(#bl2)"/><ellipse cx="1035.2" cy="1574.6" rx="11.6" ry="10.2" fill="rgb(101,101,101)" filter="url(#bl2)"/><ellipse cx="984.6" cy="1543.9" rx="10.2" ry="8.7" fill="rgb(112,112,112)" filter="url(#bl2)"/><ellipse cx="966.2" cy="1628.2" rx="10.2" ry="10.2" fill="rgb(101,101,101)" filter="url(#bl2)"/><ellipse cx="889.6" cy="1605.2" rx="8.7" ry="8.7" fill="rgb(101,101,101)" filter="url(#bl2)"/></g></g>
<g clip-path="url(#cf4)"><g filter="url(#orgN)"><rect x="1077.3" y="1406.6" width="265.2" height="263.4" fill="#000"/><ellipse cx="1143.4" cy="1467.3" rx="30.6" ry="26.0" fill="rgb(56,56,56)" filter="url(#bl4)"/><line x1="1143.4" y1="1467.3" x2="1112.9" y2="1449.7" stroke="rgb(128,128,128)" stroke-width="2.2" filter="url(#bl1)"/><line x1="1143.4" y1="1467.3" x2="1123.5" y2="1432.8" stroke="rgb(128,128,128)" stroke-width="2.2" filter="url(#bl1)"/><line x1="1143.4" y1="1467.3" x2="1162.6" y2="1434.1" stroke="rgb(128,128,128)" stroke-width="2.2" filter="url(#bl1)"/><line x1="1143.4" y1="1467.3" x2="1180.9" y2="1453.7" stroke="rgb(128,128,128)" stroke-width="2.2" filter="url(#bl1)"/><line x1="1143.4" y1="1467.3" x2="1175.1" y2="1478.8" stroke="rgb(128,128,128)" stroke-width="2.2" filter="url(#bl1)"/><line x1="1143.4" y1="1467.3" x2="1155.5" y2="1500.4" stroke="rgb(128,128,128)" stroke-width="2.2" filter="url(#bl1)"/><line x1="1143.4" y1="1467.3" x2="1130.3" y2="1503.3" stroke="rgb(128,128,128)" stroke-width="2.2" filter="url(#bl1)"/><line x1="1143.4" y1="1467.3" x2="1111.7" y2="1478.8" stroke="rgb(128,128,128)" stroke-width="2.2" filter="url(#bl1)"/><line x1="1143.4" y1="1467.3" x2="1114.6" y2="1456.8" stroke="rgb(128,128,128)" stroke-width="2.2" filter="url(#bl1)"/><ellipse cx="1143.4" cy="1467.3" rx="18.4" ry="15.3" fill="rgb(140,140,140)" filter="url(#bl2)"/><ellipse cx="1143.4" cy="1471.9" rx="8.4" ry="8.4" fill="rgb(0,0,0)" filter="url(#bl1)"/><ellipse cx="1198.6" cy="1438.2" rx="26.0" ry="16.1" fill="rgb(107,107,107)" filter="url(#bl2)"/><ellipse cx="1197.1" cy="1438.9" rx="9.5" ry="8.0" fill="rgb(0,0,0)" filter="url(#bl1)"/><ellipse cx="1252.2" cy="1441.2" rx="30.6" ry="10.7" fill="rgb(33,33,33)" filter="url(#bl2)"/><ellipse cx="1290.5" cy="1439.7" rx="30.6" ry="7.7" fill="rgb(33,33,33)" filter="url(#bl2)"/><ellipse cx="1333.4" cy="1436.6" rx="9.2" ry="9.2" fill="rgb(33,33,33)" filter="url(#bl2)"/><ellipse cx="1229.2" cy="1429.0" rx="18.4" ry="9.2" fill="rgb(33,33,33)" filter="url(#bl2)"/><ellipse cx="1259.9" cy="1528.6" rx="50.6" ry="27.6" fill="rgb(148,148,148)" filter="url(#bl2)"/><ellipse cx="1298.2" cy="1536.2" rx="18.4" ry="30.6" fill="rgb(158,158,158)" filter="url(#bl2)"/><ellipse cx="1226.2" cy="1533.2" rx="18.4" ry="13.8" fill="rgb(128,128,128)" filter="url(#bl2)"/><ellipse cx="1272.1" cy="1505.6" rx="23.0" ry="10.7" fill="rgb(107,107,107)" filter="url(#bl2)"/><ellipse cx="1195.5" cy="1566.9" rx="18.4" ry="30.6" fill="rgb(158,158,158)" filter="url(#bl2)"/><ellipse cx="1213.9" cy="1597.5" rx="23.0" ry="23.0" fill="rgb(153,153,153)" filter="url(#bl2)"/><ellipse cx="1244.6" cy="1597.5" rx="26.0" ry="23.0" fill="rgb(158,158,158)" filter="url(#bl2)"/><ellipse cx="1236.9" cy="1623.6" rx="38.3" ry="23.0" fill="rgb(158,158,158)" filter="url(#bl2)"/><ellipse cx="1192.5" cy="1640.4" rx="19.9" ry="16.9" fill="rgb(168,168,168)" filter="url(#bl2)"/><ellipse cx="1267.5" cy="1620.5" rx="23.0" ry="15.3" fill="rgb(128,128,128)" filter="url(#bl2)"/><ellipse cx="1229.2" cy="1651.2" rx="23.0" ry="10.7" fill="rgb(102,102,102)" filter="url(#bl2)"/><ellipse cx="1186.3" cy="1543.9" rx="10.7" ry="9.2" fill="rgb(168,168,168)" filter="url(#bl2)"/><ellipse cx="1256.8" cy="1514.8" rx="8.4" ry="6.9" fill="rgb(5,5,5)" filter="url(#bl1)"/><ellipse cx="1289.0" cy="1522.5" rx="9.2" ry="10.7" fill="rgb(5,5,5)" filter="url(#bl1)"/><ellipse cx="1236.9" cy="1533.2" rx="9.2" ry="10.7" fill="rgb(5,5,5)" filter="url(#bl1)"/><ellipse cx="1269.1" cy="1536.2" rx="9.2" ry="9.2" fill="rgb(5,5,5)" filter="url(#bl1)"/><ellipse cx="1206.2" cy="1563.8" rx="6.1" ry="10.7" fill="rgb(5,5,5)" filter="url(#bl1)"/><ellipse cx="1207.8" cy="1586.8" rx="7.7" ry="7.7" fill="rgb(5,5,5)" filter="url(#bl1)"/><ellipse cx="1247.6" cy="1594.5" rx="10.7" ry="10.7" fill="rgb(5,5,5)" filter="url(#bl1)"/><ellipse cx="1236.9" cy="1614.4" rx="10.7" ry="7.7" fill="rgb(5,5,5)" filter="url(#bl1)"/><ellipse cx="1192.5" cy="1642.0" rx="6.9" ry="6.1" fill="rgb(5,5,5)" filter="url(#bl1)"/><ellipse cx="1229.2" cy="1571.5" rx="12.3" ry="9.2" fill="rgb(5,5,5)" filter="url(#bl1)"/><ellipse cx="1272.1" cy="1559.2" rx="18.4" ry="13.8" fill="rgb(5,5,5)" filter="url(#bl1)"/></g></g>
<line x1="189.0" y1="1658.8" x2="281.0" y2="1658.8" stroke="#fff" stroke-width="1.2"/>
<text x="235.0" y="1664.6" font-size="4.5" font-weight="bold" font-family="Liberation Sans, sans-serif" fill="#fff" text-anchor="middle">50 µm</text>
<line x1="453.0" y1="1658.8" x2="545.0" y2="1658.8" stroke="#fff" stroke-width="1.2"/>
<text x="499.0" y="1664.6" font-size="4.5" font-weight="bold" font-family="Liberation Sans, sans-serif" fill="#fff" text-anchor="middle">50 µm</text>
<line x1="716.0" y1="1658.8" x2="808.0" y2="1658.8" stroke="#fff" stroke-width="1.2"/>
<text x="762.0" y="1664.6" font-size="4.5" font-weight="bold" font-family="Liberation Sans, sans-serif" fill="#fff" text-anchor="middle">50 µm</text>
<line x1="979.9" y1="1658.8" x2="1071.9" y2="1658.8" stroke="#fff" stroke-width="1.2"/>
<text x="1025.9" y="1664.6" font-size="4.5" font-weight="bold" font-family="Liberation Sans, sans-serif" fill="#fff" text-anchor="middle">50 µm</text>
<line x1="1243.5" y1="1658.8" x2="1335.5" y2="1658.8" stroke="#fff" stroke-width="1.2"/>
<text x="1289.5" y="1664.6" font-size="4.5" font-weight="bold" font-family="Liberation Sans, sans-serif" fill="#fff" text-anchor="middle">50 µm</text>
<g clip-path="url(#cg0)"><g filter="url(#dic)"><rect x="27.0" y="1988.0" width="298.0" height="323.0" fill="rgb(111,111,111)"/><ellipse cx="152.5" cy="2042.6" rx="19.6" ry="19.6" fill="rgb(128,128,128)" stroke="rgb(97,97,97)" stroke-width="1.4"/><ellipse cx="159.3" cy="2073.3" rx="15.3" ry="13.6" fill="rgb(120,120,120)" stroke="rgb(94,94,94)" stroke-width="1.4"/><ellipse cx="239.4" cy="2057.9" rx="19.6" ry="18.8" fill="rgb(128,128,128)" stroke="rgb(100,100,100)" stroke-width="1.4"/><ellipse cx="196.8" cy="2209.7" rx="20.5" ry="22.2" fill="rgb(117,117,117)" stroke="rgb(93,93,93)" stroke-width="1.4"/><ellipse cx="239.4" cy="2115.9" rx="10.2" ry="10.2" fill="rgb(128,128,128)" stroke="rgb(97,97,97)" stroke-width="1.4"/><ellipse cx="309.3" cy="2158.5" rx="15.3" ry="25.6" fill="rgb(112,112,112)" stroke="rgb(100,100,100)" stroke-width="1.4"/><ellipse cx="283.8" cy="2223.3" rx="14.5" ry="18.8" fill="rgb(115,115,115)" stroke="rgb(101,101,101)" stroke-width="1.4"/><ellipse cx="287.2" cy="2257.4" rx="13.6" ry="17.1" fill="rgb(115,115,115)" stroke="rgb(101,101,101)" stroke-width="1.4"/><ellipse cx="283.8" cy="2039.2" rx="11.1" ry="11.1" fill="rgb(110,110,110)" stroke="rgb(100,100,100)" stroke-width="1.4"/><ellipse cx="48.5" cy="2083.5" rx="17.1" ry="18.8" fill="rgb(107,107,107)" stroke="rgb(99,99,99)" stroke-width="1.4"/><ellipse cx="79.2" cy="2018.7" rx="20.5" ry="18.8" fill="rgb(107,107,107)" stroke="rgb(101,101,101)" stroke-width="1.4"/><ellipse cx="130.3" cy="2141.5" rx="17.1" ry="18.8" fill="rgb(107,107,107)" stroke="rgb(101,101,101)" stroke-width="1.4"/><ellipse cx="198.5" cy="2141.5" rx="17.1" ry="18.8" fill="rgb(107,107,107)" stroke="rgb(101,101,101)" stroke-width="1.4"/><ellipse cx="70.6" cy="2269.3" rx="22.2" ry="17.1" fill="rgb(107,107,107)" stroke="rgb(101,101,101)" stroke-width="1.4"/><ellipse cx="147.4" cy="2277.9" rx="20.5" ry="17.1" fill="rgb(107,107,107)" stroke="rgb(101,101,101)" stroke-width="1.4"/><ellipse cx="232.6" cy="2269.3" rx="18.8" ry="17.1" fill="rgb(107,107,107)" stroke="rgb(101,101,101)" stroke-width="1.4"/></g><g filter="url(#redG)"><rect x="27.0" y="1988.0" width="298.0" height="323.0" fill="#000"/><ellipse cx="150.8" cy="2046.0" rx="5.1" ry="11.9" fill="rgb(99,99,99)" transform="rotate(-25 150.8 2046.0)" filter="url(#bl4)"/><ellipse cx="161.0" cy="2073.3" rx="11.9" ry="9.4" fill="rgb(109,109,109)" filter="url(#bl4)"/><ellipse cx="236.0" cy="2059.6" rx="7.7" ry="13.6" fill="rgb(119,119,119)" transform="rotate(-20 236.0 2059.6)" filter="url(#bl4)"/><ellipse cx="244.5" cy="2086.9" rx="6.0" ry="13.6" fill="rgb(99,99,99)" transform="rotate(-25 244.5 2086.9)" filter="url(#bl4)"/><ellipse cx="212.1" cy="2117.6" rx="14.5" ry="7.7" fill="rgb(119,119,119)" filter="url(#bl4)"/><ellipse cx="113.3" cy="2114.2" rx="6.0" ry="6.0" fill="rgb(109,109,109)" filter="url(#bl4)"/><ellipse cx="94.5" cy="2155.1" rx="12.8" ry="12.8" fill="rgb(149,149,149)" filter="url(#bl4)"/><ellipse cx="128.6" cy="2163.6" rx="10.2" ry="15.3" fill="rgb(129,129,129)" transform="rotate(-30 128.6 2163.6)" filter="url(#bl4)"/><ellipse cx="164.4" cy="2187.5" rx="11.9" ry="15.3" fill="rgb(139,139,139)" filter="url(#bl4)"/><ellipse cx="236.0" cy="2196.0" rx="13.6" ry="12.8" fill="rgb(94,94,94)" filter="url(#bl4)"/><ellipse cx="104.7" cy="2231.8" rx="20.5" ry="13.6" fill="rgb(84,84,84)" filter="url(#bl4)"/><ellipse cx="171.2" cy="2255.7" rx="11.1" ry="16.2" fill="rgb(109,109,109)" filter="url(#bl4)"/><ellipse cx="67.2" cy="2184.1" rx="12.8" ry="9.4" fill="rgb(63,63,63)" filter="url(#bl4)"/><ellipse cx="38.2" cy="2160.2" rx="7.7" ry="9.4" fill="rgb(73,73,73)" filter="url(#bl4)"/><ellipse cx="63.8" cy="2039.2" rx="8.5" ry="7.7" fill="rgb(52,52,52)" filter="url(#bl4)"/><ellipse cx="224.1" cy="1998.2" rx="10.2" ry="9.4" fill="rgb(94,94,94)" filter="url(#bl4)"/><ellipse cx="270.1" cy="1999.9" rx="9.4" ry="7.7" fill="rgb(52,52,52)" filter="url(#bl4)"/><ellipse cx="191.7" cy="2027.2" rx="5.1" ry="9.4" fill="rgb(73,73,73)" filter="url(#bl4)"/><ellipse cx="249.7" cy="2260.8" rx="10.2" ry="11.1" fill="rgb(59,59,59)" filter="url(#bl4)"/><ellipse cx="74.0" cy="2124.4" rx="13.6" ry="10.2" fill="rgb(38,38,38)" filter="url(#bl4)"/><ellipse cx="241.1" cy="2151.7" rx="13.6" ry="8.5" fill="rgb(52,52,52)" filter="url(#bl4)"/><ellipse cx="184.9" cy="2158.5" rx="6.8" ry="6.8" fill="rgb(63,63,63)" filter="url(#bl4)"/><ellipse cx="101.3" cy="2008.5" rx="13.6" ry="8.5" fill="rgb(38,38,38)" filter="url(#bl4)"/><ellipse cx="198.5" cy="2059.6" rx="8.5" ry="10.2" fill="rgb(52,52,52)" filter="url(#bl4)"/><ellipse cx="263.3" cy="2073.3" rx="5.1" ry="6.8" fill="rgb(42,42,42)" filter="url(#bl4)"/><ellipse cx="174.6" cy="2213.1" rx="5.1" ry="11.9" fill="rgb(63,63,63)" filter="url(#bl4)"/></g></g>
<line x1="302.0" y1="2293.5" x2="318.0" y2="2293.5" stroke="#fff" stroke-width="1.2"/>
<text x="310.0" y="2299.5" font-size="3.6" font-weight="bold" font-family="Liberation Sans, sans-serif" fill="#fff" text-anchor="middle">10 µm</text>
<g clip-path="url(#cg1)"><g filter="url(#dic)"><rect x="334.0" y="1988.0" width="297.8" height="323.0" fill="rgb(111,111,111)"/><ellipse cx="355.5" cy="2008.5" rx="18.8" ry="22.2" fill="rgb(112,112,112)" stroke="rgb(100,100,100)" stroke-width="1.4"/><ellipse cx="474.8" cy="2052.8" rx="42.6" ry="17.1" fill="rgb(112,112,112)" stroke="rgb(103,103,103)" stroke-width="1.4" transform="rotate(-15 474.8 2052.8)"/><ellipse cx="468.0" cy="2088.6" rx="35.8" ry="12.8" fill="rgb(112,112,112)" stroke="rgb(97,97,97)" stroke-width="1.4" transform="rotate(15 468.0 2088.6)"/><ellipse cx="553.2" cy="2121.0" rx="25.6" ry="34.1" fill="rgb(112,112,112)" stroke="rgb(100,100,100)" stroke-width="1.4"/><ellipse cx="604.4" cy="2110.8" rx="21.3" ry="25.6" fill="rgb(120,120,120)" stroke="rgb(109,109,109)" stroke-width="1.4"/><ellipse cx="391.3" cy="2132.9" rx="25.6" ry="22.2" fill="rgb(110,110,110)" stroke="rgb(102,102,102)" stroke-width="1.4"/><ellipse cx="457.8" cy="2138.0" rx="25.6" ry="22.2" fill="rgb(110,110,110)" stroke="rgb(102,102,102)" stroke-width="1.4"/><ellipse cx="539.6" cy="2158.5" rx="22.2" ry="25.6" fill="rgb(110,110,110)" stroke="rgb(100,100,100)" stroke-width="1.4"/><ellipse cx="386.2" cy="2226.7" rx="22.2" ry="23.9" fill="rgb(110,110,110)" stroke="rgb(99,99,99)" stroke-width="1.4"/><ellipse cx="391.3" cy="2255.7" rx="14.5" ry="17.1" fill="rgb(133,133,133)" stroke="rgb(120,120,120)" stroke-width="1.4"/><ellipse cx="454.4" cy="2269.3" rx="20.5" ry="18.8" fill="rgb(110,110,110)" stroke="rgb(100,100,100)" stroke-width="1.4"/><ellipse cx="500.4" cy="2274.4" rx="22.2" ry="25.6" fill="rgb(133,133,133)" stroke="rgb(122,122,122)" stroke-width="1.4"/><ellipse cx="560.1" cy="2243.8" rx="17.1" ry="22.2" fill="rgb(115,115,115)" stroke="rgb(101,101,101)" stroke-width="1.4"/><ellipse cx="551.5" cy="2281.3" rx="18.8" ry="17.1" fill="rgb(120,120,120)" stroke="rgb(109,109,109)" stroke-width="1.4"/><ellipse cx="573.7" cy="2013.6" rx="25.6" ry="17.1" fill="rgb(112,112,112)" stroke="rgb(103,103,103)" stroke-width="1.4"/><ellipse cx="531.1" cy="2218.2" rx="22.2" ry="22.2" fill="rgb(112,112,112)" stroke="rgb(103,103,103)" stroke-width="1.4"/><ellipse cx="346.9" cy="2184.1" rx="11.9" ry="22.2" fill="rgb(112,112,112)" stroke="rgb(101,101,101)" stroke-width="1.4"/><ellipse cx="352.1" cy="2277.9" rx="13.6" ry="11.9" fill="rgb(112,112,112)" stroke="rgb(100,100,100)" stroke-width="1.4"/></g><g filter="url(#redG)"><rect x="334.0" y="1988.0" width="297.8" height="323.0" fill="#000"/><ellipse cx="352.1" cy="2005.1" rx="13.6" ry="13.6" fill="rgb(63,63,63)" filter="url(#bl4)"/><ellipse cx="599.3" cy="1996.5" rx="18.8" ry="7.7" fill="rgb(63,63,63)" filter="url(#bl4)"/><ellipse cx="531.1" cy="2035.7" rx="18.8" ry="11.9" fill="rgb(63,63,63)" filter="url(#bl4)"/><ellipse cx="471.4" cy="2052.8" rx="12.8" ry="9.4" fill="rgb(63,63,63)" filter="url(#bl4)"/><ellipse cx="514.0" cy="2061.3" rx="11.9" ry="11.1" fill="rgb(52,52,52)" filter="url(#bl4)"/><ellipse cx="468.0" cy="2090.3" rx="30.7" ry="9.4" fill="rgb(73,73,73)" transform="rotate(15 468.0 2090.3)" filter="url(#bl4)"/><ellipse cx="549.8" cy="2103.9" rx="15.3" ry="17.1" fill="rgb(143,143,143)" filter="url(#bl4)"/><ellipse cx="543.0" cy="2153.4" rx="11.9" ry="18.8" fill="rgb(73,73,73)" filter="url(#bl4)"/><ellipse cx="403.2" cy="2141.5" rx="17.1" ry="18.8" fill="rgb(63,63,63)" filter="url(#bl4)"/><ellipse cx="471.4" cy="2141.5" rx="11.9" ry="15.3" fill="rgb(63,63,63)" filter="url(#bl4)"/><ellipse cx="611.2" cy="2115.9" rx="12.8" ry="18.8" fill="rgb(42,42,42)" filter="url(#bl4)"/><ellipse cx="377.6" cy="2223.3" rx="22.2" ry="12.8" fill="rgb(88,88,88)" transform="rotate(-15 377.6 2223.3)" filter="url(#bl4)"/><ellipse cx="561.8" cy="2233.5" rx="10.2" ry="10.2" fill="rgb(139,139,139)" filter="url(#bl4)"/><ellipse cx="554.9" cy="2269.3" rx="10.2" ry="11.9" fill="rgb(169,169,169)" filter="url(#bl4)"/><ellipse cx="531.1" cy="2209.7" rx="17.1" ry="18.8" fill="rgb(38,38,38)" filter="url(#bl4)"/><ellipse cx="497.0" cy="2286.4" rx="12.8" ry="11.9" fill="rgb(42,42,42)" filter="url(#bl4)"/><ellipse cx="454.4" cy="2274.4" rx="13.6" ry="12.8" fill="rgb(38,38,38)" filter="url(#bl4)"/><ellipse cx="360.6" cy="2240.3" rx="6.8" ry="10.2" fill="rgb(84,84,84)" filter="url(#bl4)"/><ellipse cx="437.3" cy="2121.0" rx="5.1" ry="6.8" fill="rgb(63,63,63)" filter="url(#bl4)"/><ellipse cx="573.7" cy="2243.8" rx="4.3" ry="12.8" fill="rgb(73,73,73)" filter="url(#bl4)"/></g></g>
<line x1="608.8" y1="2293.5" x2="624.8" y2="2293.5" stroke="#fff" stroke-width="1.2"/>
<text x="616.8" y="2299.5" font-size="3.6" font-weight="bold" font-family="Liberation Sans, sans-serif" fill="#fff" text-anchor="middle">10 µm</text>
<g clip-path="url(#cg2)"><g filter="url(#dic)"><rect x="640.3" y="1988.0" width="297.6" height="323.0" fill="rgb(111,111,111)"/><ellipse cx="651.2" cy="2013.6" rx="12.8" ry="22.2" fill="rgb(115,115,115)" stroke="rgb(95,95,95)" stroke-width="1.4"/><ellipse cx="772.3" cy="2035.7" rx="22.2" ry="25.6" fill="rgb(117,117,117)" stroke="rgb(93,93,93)" stroke-width="1.4"/><ellipse cx="699.0" cy="2083.5" rx="18.8" ry="20.5" fill="rgb(117,117,117)" stroke="rgb(93,93,93)" stroke-width="1.4"/><ellipse cx="760.4" cy="2076.7" rx="17.1" ry="17.1" fill="rgb(117,117,117)" stroke="rgb(93,93,93)" stroke-width="1.4"/><ellipse cx="857.5" cy="2064.7" rx="20.5" ry="22.2" fill="rgb(115,115,115)" stroke="rgb(92,92,92)" stroke-width="1.4"/><ellipse cx="850.7" cy="2008.5" rx="18.8" ry="18.8" fill="rgb(117,117,117)" stroke="rgb(96,96,96)" stroke-width="1.4"/><ellipse cx="719.4" cy="2168.7" rx="17.1" ry="27.3" fill="rgb(112,112,112)" stroke="rgb(91,91,91)" stroke-width="1.4"/><ellipse cx="859.2" cy="2172.1" rx="20.5" ry="22.2" fill="rgb(112,112,112)" stroke="rgb(91,91,91)" stroke-width="1.4"/><ellipse cx="820.0" cy="2254.0" rx="25.6" ry="15.3" fill="rgb(115,115,115)" stroke="rgb(92,92,92)" stroke-width="1.4"/><ellipse cx="785.9" cy="2180.7" rx="17.1" ry="15.3" fill="rgb(117,117,117)" stroke="rgb(93,93,93)" stroke-width="1.4"/><ellipse cx="772.3" cy="2209.7" rx="15.3" ry="15.3" fill="rgb(117,117,117)" stroke="rgb(93,93,93)" stroke-width="1.4"/><ellipse cx="704.1" cy="2243.8" rx="20.5" ry="18.8" fill="rgb(117,117,117)" stroke="rgb(93,93,93)" stroke-width="1.4"/><ellipse cx="883.1" cy="2223.3" rx="18.8" ry="17.1" fill="rgb(117,117,117)" stroke="rgb(93,93,93)" stroke-width="1.4"/><ellipse cx="922.3" cy="2267.6" rx="17.1" ry="18.8" fill="rgb(115,115,115)" stroke="rgb(92,92,92)" stroke-width="1.4"/><ellipse cx="658.1" cy="2192.6" rx="17.1" ry="25.6" fill="rgb(115,115,115)" stroke="rgb(92,92,92)" stroke-width="1.4"/><ellipse cx="748.4" cy="2288.1" rx="17.1" ry="17.1" fill="rgb(117,117,117)" stroke="rgb(93,93,93)" stroke-width="1.4"/><ellipse cx="658.1" cy="2291.5" rx="17.1" ry="17.1" fill="rgb(117,117,117)" stroke="rgb(93,93,93)" stroke-width="1.4"/><ellipse cx="862.7" cy="2115.9" rx="22.2" ry="22.2" fill="rgb(117,117,117)" stroke="rgb(93,93,93)" stroke-width="1.4"/><ellipse cx="917.2" cy="2081.8" rx="17.1" ry="25.6" fill="rgb(117,117,117)" stroke="rgb(96,96,96)" stroke-width="1.4"/><ellipse cx="716.0" cy="2221.6" rx="9.4" ry="9.4" fill="rgb(140,140,140)" stroke="rgb(87,87,87)" stroke-width="1.4"/><ellipse cx="789.3" cy="2129.5" rx="7.7" ry="7.7" fill="rgb(133,133,133)" stroke="rgb(99,99,99)" stroke-width="1.4"/><ellipse cx="675.1" cy="2124.4" rx="25.6" ry="25.6" fill="rgb(102,102,102)" stroke="rgb(93,93,93)" stroke-width="1.4"/><ellipse cx="811.5" cy="2098.8" rx="25.6" ry="25.6" fill="rgb(102,102,102)" stroke="rgb(93,93,93)" stroke-width="1.4"/><ellipse cx="794.5" cy="2218.2" rx="25.6" ry="21.3" fill="rgb(102,102,102)" stroke="rgb(93,93,93)" stroke-width="1.4"/></g><g filter="url(#redG)"><rect x="640.3" y="1988.0" width="297.6" height="323.0" fill="#000"/><ellipse cx="651.2" cy="2013.6" rx="9.4" ry="17.1" fill="rgb(63,63,63)" filter="url(#bl4)"/><ellipse cx="765.5" cy="2018.7" rx="10.2" ry="10.2" fill="rgb(63,63,63)" filter="url(#bl4)"/><ellipse cx="699.0" cy="2083.5" rx="17.1" ry="17.1" fill="rgb(63,63,63)" filter="url(#bl4)"/><ellipse cx="760.4" cy="2076.7" rx="13.6" ry="13.6" fill="rgb(52,52,52)" filter="url(#bl4)"/><ellipse cx="850.7" cy="2064.7" rx="17.1" ry="17.1" fill="rgb(73,73,73)" filter="url(#bl4)"/><ellipse cx="850.7" cy="2005.1" rx="13.6" ry="13.6" fill="rgb(46,46,46)" filter="url(#bl4)"/><ellipse cx="719.4" cy="2167.0" rx="12.8" ry="21.3" fill="rgb(139,139,139)" filter="url(#bl4)"/><ellipse cx="855.8" cy="2172.1" rx="13.6" ry="15.3" fill="rgb(129,129,129)" filter="url(#bl4)"/><ellipse cx="820.0" cy="2255.7" rx="20.5" ry="9.4" fill="rgb(149,149,149)" filter="url(#bl4)"/><ellipse cx="903.6" cy="2230.1" rx="5.1" ry="3.4" fill="rgb(169,169,169)" filter="url(#bl4)"/><ellipse cx="785.9" cy="2180.7" rx="13.6" ry="11.9" fill="rgb(63,63,63)" filter="url(#bl4)"/><ellipse cx="772.3" cy="2209.7" rx="11.9" ry="11.9" fill="rgb(63,63,63)" filter="url(#bl4)"/><ellipse cx="704.1" cy="2243.8" rx="17.1" ry="13.6" fill="rgb(63,63,63)" filter="url(#bl4)"/><ellipse cx="883.1" cy="2226.7" rx="15.3" ry="10.2" fill="rgb(59,59,59)" filter="url(#bl4)"/><ellipse cx="922.3" cy="2267.6" rx="13.6" ry="15.3" fill="rgb(73,73,73)" filter="url(#bl4)"/><ellipse cx="658.1" cy="2192.6" rx="11.9" ry="17.1" fill="rgb(59,59,59)" filter="url(#bl4)"/><ellipse cx="748.4" cy="2288.1" rx="12.8" ry="10.2" fill="rgb(59,59,59)" filter="url(#bl4)"/><ellipse cx="658.1" cy="2291.5" rx="12.8" ry="12.8" fill="rgb(63,63,63)" filter="url(#bl4)"/><ellipse cx="862.7" cy="2110.8" rx="15.3" ry="17.1" fill="rgb(52,52,52)" filter="url(#bl4)"/><ellipse cx="913.8" cy="2081.8" rx="12.8" ry="21.3" fill="rgb(46,46,46)" filter="url(#bl4)"/><ellipse cx="712.6" cy="2129.5" rx="3.4" ry="21.3" fill="rgb(94,94,94)" transform="rotate(-10 712.6 2129.5)" filter="url(#bl4)"/><ellipse cx="820.0" cy="2155.1" rx="25.6" ry="2.6" fill="rgb(84,84,84)" transform="rotate(25 820.0 2155.1)" filter="url(#bl4)"/><ellipse cx="780.8" cy="2254.0" rx="17.1" ry="2.6" fill="rgb(94,94,94)" transform="rotate(5 780.8 2254.0)" filter="url(#bl4)"/><ellipse cx="837.1" cy="2039.2" rx="3.4" ry="15.3" fill="rgb(73,73,73)" filter="url(#bl4)"/></g></g>
<line x1="914.9" y1="2293.5" x2="930.9" y2="2293.5" stroke="#fff" stroke-width="1.2"/>
<text x="922.9" y="2299.5" font-size="3.6" font-weight="bold" font-family="Liberation Sans, sans-serif" fill="#fff" text-anchor="middle">10 µm</text>
<g clip-path="url(#cg3)"><g filter="url(#dic)"><rect x="946.8" y="1988.0" width="297.2" height="323.0" fill="rgb(111,111,111)"/><ellipse cx="1018.6" cy="2013.6" rx="20.5" ry="19.6" fill="rgb(128,128,128)" stroke="rgb(89,89,89)" stroke-width="1.4"/><ellipse cx="996.4" cy="2049.4" rx="19.6" ry="17.1" fill="rgb(122,122,122)" stroke="rgb(92,92,92)" stroke-width="1.4"/><ellipse cx="1037.4" cy="2044.3" rx="14.5" ry="22.2" fill="rgb(120,120,120)" stroke="rgb(94,94,94)" stroke-width="1.4"/><ellipse cx="1062.9" cy="2063.0" rx="14.5" ry="23.9" fill="rgb(117,117,117)" stroke="rgb(93,93,93)" stroke-width="1.4"/><ellipse cx="1097.0" cy="2022.1" rx="15.3" ry="25.6" fill="rgb(117,117,117)" stroke="rgb(96,96,96)" stroke-width="1.4"/><ellipse cx="1126.0" cy="2010.2" rx="14.5" ry="14.5" fill="rgb(128,128,128)" stroke="rgb(89,89,89)" stroke-width="1.4"/><ellipse cx="1160.1" cy="2039.2" rx="17.1" ry="18.8" fill="rgb(128,128,128)" stroke="rgb(85,85,85)" stroke-width="1.4"/><ellipse cx="1190.8" cy="2025.5" rx="22.2" ry="23.9" fill="rgb(117,117,117)" stroke="rgb(96,96,96)" stroke-width="1.4"/><ellipse cx="986.2" cy="2153.4" rx="7.7" ry="7.7" fill="rgb(122,122,122)" stroke="rgb(92,92,92)" stroke-width="1.4"/><ellipse cx="991.3" cy="2168.7" rx="5.1" ry="5.1" fill="rgb(117,117,117)" stroke="rgb(93,93,93)" stroke-width="1.4"/><ellipse cx="1042.5" cy="2158.5" rx="16.2" ry="17.1" fill="rgb(128,128,128)" stroke="rgb(85,85,85)" stroke-width="1.4"/><ellipse cx="1138.0" cy="2151.7" rx="25.6" ry="28.1" fill="rgb(117,117,117)" stroke="rgb(96,96,96)" stroke-width="1.4"/><ellipse cx="1207.9" cy="2150.0" rx="13.6" ry="15.3" fill="rgb(128,128,128)" stroke="rgb(89,89,89)" stroke-width="1.4"/><ellipse cx="1189.1" cy="2180.7" rx="20.5" ry="23.9" fill="rgb(117,117,117)" stroke="rgb(93,93,93)" stroke-width="1.4"/><ellipse cx="984.5" cy="2231.8" rx="18.8" ry="19.6" fill="rgb(128,128,128)" stroke="rgb(91,91,91)" stroke-width="1.4"/><ellipse cx="1011.8" cy="2231.8" rx="13.6" ry="19.6" fill="rgb(122,122,122)" stroke="rgb(92,92,92)" stroke-width="1.4"/><ellipse cx="987.9" cy="2271.0" rx="16.2" ry="16.2" fill="rgb(128,128,128)" stroke="rgb(85,85,85)" stroke-width="1.4"/><ellipse cx="1056.1" cy="2265.9" rx="16.2" ry="16.2" fill="rgb(128,128,128)" stroke="rgb(85,85,85)" stroke-width="1.4"/><ellipse cx="1045.9" cy="2298.3" rx="17.1" ry="17.1" fill="rgb(122,122,122)" stroke="rgb(92,92,92)" stroke-width="1.4"/><ellipse cx="1120.9" cy="2247.2" rx="17.1" ry="35.8" fill="rgb(117,117,117)" stroke="rgb(93,93,93)" stroke-width="1.4" transform="rotate(-20 1120.9 2247.2)"/><ellipse cx="1207.9" cy="2260.8" rx="19.6" ry="20.5" fill="rgb(122,122,122)" stroke="rgb(92,92,92)" stroke-width="1.4"/><ellipse cx="1168.7" cy="2300.0" rx="22.2" ry="11.9" fill="rgb(120,120,120)" stroke="rgb(94,94,94)" stroke-width="1.4"/><ellipse cx="1064.6" cy="2190.9" rx="5.1" ry="5.1" fill="rgb(122,122,122)" stroke="rgb(95,95,95)" stroke-width="1.4"/><ellipse cx="1085.1" cy="1998.2" rx="6.8" ry="6.8" fill="rgb(122,122,122)" stroke="rgb(95,95,95)" stroke-width="1.4"/></g><g filter="url(#redG)"><rect x="946.8" y="1988.0" width="297.2" height="323.0" fill="#000"/><ellipse cx="1018.6" cy="2015.3" rx="16.2" ry="15.3" fill="rgb(52,52,52)" filter="url(#bl4)"/><ellipse cx="996.4" cy="2051.1" rx="15.3" ry="13.6" fill="rgb(63,63,63)" filter="url(#bl4)"/><ellipse cx="993.0" cy="2052.8" rx="5.1" ry="5.1" fill="rgb(119,119,119)" filter="url(#bl4)"/><ellipse cx="1037.4" cy="2044.3" rx="11.1" ry="18.8" fill="rgb(63,63,63)" filter="url(#bl4)"/><ellipse cx="1059.5" cy="2064.7" rx="9.4" ry="20.5" fill="rgb(52,52,52)" filter="url(#bl4)"/><ellipse cx="1097.0" cy="2022.1" rx="11.9" ry="22.2" fill="rgb(52,52,52)" filter="url(#bl4)"/><ellipse cx="1127.7" cy="2010.2" rx="11.9" ry="11.9" fill="rgb(84,84,84)" filter="url(#bl4)"/><ellipse cx="1132.8" cy="2006.8" rx="3.4" ry="6.8" fill="rgb(109,109,109)" filter="url(#bl4)"/><ellipse cx="1160.1" cy="2039.2" rx="13.6" ry="15.3" fill="rgb(59,59,59)" filter="url(#bl4)"/><ellipse cx="1190.8" cy="2025.5" rx="18.8" ry="20.5" fill="rgb(52,52,52)" filter="url(#bl4)"/><ellipse cx="986.2" cy="2153.4" rx="6.0" ry="6.0" fill="rgb(73,73,73)" filter="url(#bl4)"/><ellipse cx="1042.5" cy="2158.5" rx="12.8" ry="13.6" fill="rgb(63,63,63)" filter="url(#bl4)"/><ellipse cx="1138.0" cy="2151.7" rx="20.5" ry="23.9" fill="rgb(63,63,63)" filter="url(#bl4)"/><ellipse cx="1207.9" cy="2150.0" rx="11.1" ry="12.8" fill="rgb(69,69,69)" filter="url(#bl4)"/><ellipse cx="1189.1" cy="2180.7" rx="17.1" ry="18.8" fill="rgb(59,59,59)" filter="url(#bl4)"/><ellipse cx="1011.8" cy="2231.8" rx="11.1" ry="17.1" fill="rgb(63,63,63)" filter="url(#bl4)"/><ellipse cx="987.9" cy="2271.0" rx="12.8" ry="12.8" fill="rgb(63,63,63)" filter="url(#bl4)"/><ellipse cx="1056.1" cy="2265.9" rx="12.8" ry="12.8" fill="rgb(73,73,73)" filter="url(#bl4)"/><ellipse cx="1045.9" cy="2298.3" rx="13.6" ry="12.8" fill="rgb(52,52,52)" filter="url(#bl4)"/><ellipse cx="1120.9" cy="2247.2" rx="12.8" ry="32.4" fill="rgb(59,59,59)" transform="rotate(-20 1120.9 2247.2)" filter="url(#bl4)"/><ellipse cx="1207.9" cy="2260.8" rx="16.2" ry="17.1" fill="rgb(52,52,52)" filter="url(#bl4)"/><ellipse cx="1168.7" cy="2300.0" rx="18.8" ry="9.4" fill="rgb(63,63,63)" filter="url(#bl4)"/><ellipse cx="1064.6" cy="2190.9" rx="4.3" ry="4.3" fill="rgb(73,73,73)" filter="url(#bl4)"/><ellipse cx="962.3" cy="2271.0" rx="4.3" ry="4.3" fill="rgb(84,84,84)" filter="url(#bl4)"/><ellipse cx="1023.7" cy="2254.0" rx="2.6" ry="3.4" fill="rgb(99,99,99)" filter="url(#bl4)"/><ellipse cx="1085.1" cy="1998.2" rx="5.1" ry="5.1" fill="rgb(52,52,52)" filter="url(#bl4)"/></g></g>
<line x1="1221.0" y1="2293.5" x2="1237.0" y2="2293.5" stroke="#fff" stroke-width="1.2"/>
<text x="1229.0" y="2299.5" font-size="3.6" font-weight="bold" font-family="Liberation Sans, sans-serif" fill="#fff" text-anchor="middle">10 µm</text>
<text x="6.41" y="34.40" font-size="46.43" font-weight="bold" fill="#000" font-family="'Liberation Sans', Arial, sans-serif" textLength="32.90" lengthAdjust="spacingAndGlyphs" xml:space="preserve">A</text>
<text x="312.94" y="65.50" font-size="35.86" font-weight="bold" fill="#000" font-family="'Liberation Sans', Arial, sans-serif" textLength="75.72" lengthAdjust="spacingAndGlyphs" xml:space="preserve">OCR</text>
<line x1="93.1" y1="104.0" x2="93.1" y2="465.7" stroke="#000" stroke-width="1.7" />
<line x1="93.1" y1="465.7" x2="634.5" y2="465.7" stroke="#000" stroke-width="1.7" />
<line x1="83.1" y1="152.5" x2="93.1" y2="152.5" stroke="#000" stroke-width="1.7" />
<text x="46.83" y="164.00" font-size="28.57" font-weight="bold" fill="#000" font-family="'Liberation Sans', Arial, sans-serif" textLength="31.78" lengthAdjust="spacingAndGlyphs" xml:space="preserve">60</text>
<line x1="83.1" y1="248.8" x2="93.1" y2="248.8" stroke="#000" stroke-width="1.7" />
<text x="46.83" y="260.30" font-size="28.57" font-weight="bold" fill="#000" font-family="'Liberation Sans', Arial, sans-serif" textLength="31.78" lengthAdjust="spacingAndGlyphs" xml:space="preserve">40</text>
<line x1="83.1" y1="345.1" x2="93.1" y2="345.1" stroke="#000" stroke-width="1.7" />
<text x="46.83" y="356.60" font-size="28.57" font-weight="bold" fill="#000" font-family="'Liberation Sans', Arial, sans-serif" textLength="31.78" lengthAdjust="spacingAndGlyphs" xml:space="preserve">20</text>
<line x1="83.1" y1="441.5" x2="93.1" y2="441.5" stroke="#000" stroke-width="1.7" />
<text x="62.54" y="453.00" font-size="28.57" font-weight="bold" fill="#000" font-family="'Liberation Sans', Arial, sans-serif" textLength="15.89" lengthAdjust="spacingAndGlyphs" xml:space="preserve">0</text>
<line x1="93.1" y1="465.7" x2="93.1" y2="475.0" stroke="#000" stroke-width="1.7" />
<text x="84.86" y="507.00" font-size="28.00" font-weight="bold" fill="#000" font-family="'Liberation Sans', Arial, sans-serif" textLength="15.58" lengthAdjust="spacingAndGlyphs" xml:space="preserve">0</text>
<line x1="363.5" y1="465.7" x2="363.5" y2="475.0" stroke="#000" stroke-width="1.7" />
<text x="347.70" y="507.00" font-size="28.00" font-weight="bold" fill="#000" font-family="'Liberation Sans', Arial, sans-serif" textLength="31.15" lengthAdjust="spacingAndGlyphs" xml:space="preserve">50</text>
<line x1="634.0" y1="465.7" x2="634.0" y2="475.0" stroke="#000" stroke-width="1.7" />
<text x="609.94" y="507.00" font-size="28.00" font-weight="bold" fill="#000" font-family="'Liberation Sans', Arial, sans-serif" textLength="46.72" lengthAdjust="spacingAndGlyphs" xml:space="preserve">100</text>
<text x="300.00" y="544.00" font-size="30.00" font-weight="bold" fill="#000" font-family="'Liberation Sans', Arial, sans-serif" textLength="141.31" lengthAdjust="spacingAndGlyphs" xml:space="preserve">time (min)</text>
<text transform="translate(29.90,478.59) rotate(-90)" x="0" y="0" font-size="29.86" font-weight="bold" fill="#000" font-family="'Liberation Sans', Arial, sans-serif" textLength="379.57" lengthAdjust="spacingAndGlyphs" xml:space="preserve">OCR (pmol/min/norm. unit)</text>
<line x1="100.2" y1="208.1" x2="100.2" y2="236.3" stroke="#000" stroke-width="2.4" />
<line x1="93.2" y1="208.1" x2="107.2" y2="208.1" stroke="#000" stroke-width="2.4" />
<line x1="93.2" y1="236.3" x2="107.2" y2="236.3" stroke="#000" stroke-width="2.4" />
<line x1="146.5" y1="215.5" x2="146.5" y2="246.6" stroke="#000" stroke-width="2.4" />
<line x1="139.5" y1="215.5" x2="153.5" y2="215.5" stroke="#000" stroke-width="2.4" />
<line x1="139.5" y1="246.6" x2="153.5" y2="246.6" stroke="#000" stroke-width="2.4" />
<line x1="192.8" y1="217.3" x2="192.8" y2="253.6" stroke="#000" stroke-width="2.4" />
<line x1="185.8" y1="217.3" x2="199.8" y2="217.3" stroke="#000" stroke-width="2.4" />
<line x1="185.8" y1="253.6" x2="199.8" y2="253.6" stroke="#000" stroke-width="2.4" />
<line x1="239.8" y1="318.7" x2="239.8" y2="368.5" stroke="#000" stroke-width="2.4" />
<line x1="232.8" y1="318.7" x2="246.8" y2="318.7" stroke="#000" stroke-width="2.4" />
<line x1="232.8" y1="368.5" x2="246.8" y2="368.5" stroke="#000" stroke-width="2.4" />
<line x1="286.1" y1="341.2" x2="286.1" y2="370.2" stroke="#000" stroke-width="2.4" />
<line x1="279.1" y1="341.2" x2="293.1" y2="341.2" stroke="#000" stroke-width="2.4" />
<line x1="279.1" y1="370.2" x2="293.1" y2="370.2" stroke="#000" stroke-width="2.4" />
<line x1="332.4" y1="341.2" x2="332.4" y2="371.0" stroke="#000" stroke-width="2.4" />
<line x1="325.4" y1="341.2" x2="339.4" y2="341.2" stroke="#000" stroke-width="2.4" />
<line x1="325.4" y1="371.0" x2="339.4" y2="371.0" stroke="#000" stroke-width="2.4" />
<line x1="379.2" y1="212.0" x2="379.2" y2="226.0" stroke="#000" stroke-width="2.4" />
<line x1="372.2" y1="212.0" x2="386.2" y2="212.0" stroke="#000" stroke-width="2.4" />
<line x1="372.2" y1="226.0" x2="386.2" y2="226.0" stroke="#000" stroke-width="2.4" />
<line x1="426.1" y1="246.0" x2="426.1" y2="259.0" stroke="#000" stroke-width="2.4" />
<line x1="419.1" y1="246.0" x2="433.1" y2="246.0" stroke="#000" stroke-width="2.4" />
<line x1="419.1" y1="259.0" x2="433.1" y2="259.0" stroke="#000" stroke-width="2.4" />
<line x1="472.3" y1="251.0" x2="472.3" y2="277.7" stroke="#000" stroke-width="2.4" />
<line x1="465.3" y1="251.0" x2="479.3" y2="251.0" stroke="#000" stroke-width="2.4" />
<line x1="465.3" y1="277.7" x2="479.3" y2="277.7" stroke="#000" stroke-width="2.4" />
<line x1="519.3" y1="368.5" x2="519.3" y2="387.8" stroke="#000" stroke-width="2.4" />
<line x1="512.3" y1="368.5" x2="526.3" y2="368.5" stroke="#000" stroke-width="2.4" />
<line x1="512.3" y1="387.8" x2="526.3" y2="387.8" stroke="#000" stroke-width="2.4" />
<line x1="565.6" y1="366.0" x2="565.6" y2="386.0" stroke="#000" stroke-width="2.4" />
<line x1="558.6" y1="366.0" x2="572.6" y2="366.0" stroke="#000" stroke-width="2.4" />
<line x1="558.6" y1="386.0" x2="572.6" y2="386.0" stroke="#000" stroke-width="2.4" />
<line x1="611.8" y1="369.0" x2="611.8" y2="389.0" stroke="#000" stroke-width="2.4" />
<line x1="604.8" y1="369.0" x2="618.8" y2="369.0" stroke="#000" stroke-width="2.4" />
<line x1="604.8" y1="389.0" x2="618.8" y2="389.0" stroke="#000" stroke-width="2.4" />
<polyline points="100.2,223.3 146.5,231.1 192.8,235.4 239.8,343.4 286.1,354.6 332.4,354.6 379.2,219.0 426.1,252.7 472.3,267.4 519.3,378.0 565.6,375.0 611.8,378.8" fill="none" stroke="#000" stroke-width="2.6" stroke-linejoin="round"/>
<polygon points="100.2,216.0 107.2,229.2 93.2,229.2" fill="#000"/>
<polygon points="146.5,223.8 153.5,237.0 139.5,237.0" fill="#000"/>
<polygon points="192.8,228.1 199.8,241.3 185.8,241.3" fill="#000"/>
<polygon points="239.8,336.0 246.8,349.3 232.8,349.3" fill="#000"/>
<polygon points="286.1,347.2 293.1,360.6 279.1,360.6" fill="#000"/>
<polygon points="332.4,347.2 339.4,360.6 325.4,360.6" fill="#000"/>
<polygon points="379.2,211.7 386.2,224.9 372.2,224.9" fill="#000"/>
<polygon points="426.1,245.3 433.1,258.6 419.1,258.6" fill="#000"/>
<polygon points="472.3,260.0 479.3,273.3 465.3,273.3" fill="#000"/>
<polygon points="519.3,370.6 526.3,383.9 512.3,383.9" fill="#000"/>
<polygon points="565.6,367.6 572.6,380.9 558.6,380.9" fill="#000"/>
<polygon points="611.8,371.4 618.8,384.8 604.8,384.8" fill="#000"/>
<line x1="100.2" y1="292.0" x2="100.2" y2="304.0" stroke="#45df1e" stroke-width="2.4" />
<line x1="93.2" y1="292.0" x2="107.2" y2="292.0" stroke="#45df1e" stroke-width="2.4" />
<line x1="93.2" y1="304.0" x2="107.2" y2="304.0" stroke="#45df1e" stroke-width="2.4" />
<line x1="146.5" y1="293.0" x2="146.5" y2="305.0" stroke="#45df1e" stroke-width="2.4" />
<line x1="139.5" y1="293.0" x2="153.5" y2="293.0" stroke="#45df1e" stroke-width="2.4" />
<line x1="139.5" y1="305.0" x2="153.5" y2="305.0" stroke="#45df1e" stroke-width="2.4" />
<line x1="192.8" y1="292.0" x2="192.8" y2="305.0" stroke="#45df1e" stroke-width="2.4" />
<line x1="185.8" y1="292.0" x2="199.8" y2="292.0" stroke="#45df1e" stroke-width="2.4" />
<line x1="185.8" y1="305.0" x2="199.8" y2="305.0" stroke="#45df1e" stroke-width="2.4" />
<line x1="239.8" y1="349.0" x2="239.8" y2="362.0" stroke="#45df1e" stroke-width="2.4" />
<line x1="232.8" y1="349.0" x2="246.8" y2="349.0" stroke="#45df1e" stroke-width="2.4" />
<line x1="232.8" y1="362.0" x2="246.8" y2="362.0" stroke="#45df1e" stroke-width="2.4" />
<line x1="286.1" y1="350.0" x2="286.1" y2="362.0" stroke="#45df1e" stroke-width="2.4" />
<line x1="279.1" y1="350.0" x2="293.1" y2="350.0" stroke="#45df1e" stroke-width="2.4" />
<line x1="279.1" y1="362.0" x2="293.1" y2="362.0" stroke="#45df1e" stroke-width="2.4" />
<line x1="332.4" y1="350.0" x2="332.4" y2="362.0" stroke="#45df1e" stroke-width="2.4" />
<line x1="325.4" y1="350.0" x2="339.4" y2="350.0" stroke="#45df1e" stroke-width="2.4" />
<line x1="325.4" y1="362.0" x2="339.4" y2="362.0" stroke="#45df1e" stroke-width="2.4" />
<line x1="379.2" y1="158.2" x2="379.2" y2="253.2" stroke="#45df1e" stroke-width="2.4" />
<line x1="372.2" y1="158.2" x2="386.2" y2="158.2" stroke="#45df1e" stroke-width="2.4" />
<line x1="372.2" y1="253.2" x2="386.2" y2="253.2" stroke="#45df1e" stroke-width="2.4" />
<line x1="426.1" y1="142.1" x2="426.1" y2="265.6" stroke="#45df1e" stroke-width="2.4" />
<line x1="419.1" y1="142.1" x2="433.1" y2="142.1" stroke="#45df1e" stroke-width="2.4" />
<line x1="419.1" y1="265.6" x2="433.1" y2="265.6" stroke="#45df1e" stroke-width="2.4" />
<line x1="472.3" y1="148.5" x2="472.3" y2="275.2" stroke="#45df1e" stroke-width="2.4" />
<line x1="465.3" y1="148.5" x2="479.3" y2="148.5" stroke="#45df1e" stroke-width="2.4" />
<line x1="465.3" y1="275.2" x2="479.3" y2="275.2" stroke="#45df1e" stroke-width="2.4" />
<line x1="519.3" y1="366.0" x2="519.3" y2="376.0" stroke="#45df1e" stroke-width="2.4" />
<line x1="512.3" y1="366.0" x2="526.3" y2="366.0" stroke="#45df1e" stroke-width="2.4" />
<line x1="512.3" y1="376.0" x2="526.3" y2="376.0" stroke="#45df1e" stroke-width="2.4" />
<line x1="565.6" y1="365.0" x2="565.6" y2="374.0" stroke="#45df1e" stroke-width="2.4" />
<line x1="558.6" y1="365.0" x2="572.6" y2="365.0" stroke="#45df1e" stroke-width="2.4" />
<line x1="558.6" y1="374.0" x2="572.6" y2="374.0" stroke="#45df1e" stroke-width="2.4" />
<line x1="611.8" y1="367.0" x2="611.8" y2="377.0" stroke="#45df1e" stroke-width="2.4" />
<line x1="604.8" y1="367.0" x2="618.8" y2="367.0" stroke="#45df1e" stroke-width="2.4" />
<line x1="604.8" y1="377.0" x2="618.8" y2="377.0" stroke="#45df1e" stroke-width="2.4" />
<polyline points="100.2,298.1 146.5,299.3 192.8,298.8 239.8,355.5 286.1,356.4 332.4,356.4 379.2,206.0 426.1,204.0 472.3,211.2 519.3,371.0 565.6,369.3 611.8,371.9" fill="none" stroke="#45df1e" stroke-width="2.6" stroke-linejoin="round"/>
<rect x="93.2" y="291.1" width="14.0" height="14.0" fill="#45df1e"/>
<rect x="139.5" y="292.3" width="14.0" height="14.0" fill="#45df1e"/>
<rect x="185.8" y="291.8" width="14.0" height="14.0" fill="#45df1e"/>
<rect x="232.8" y="348.5" width="14.0" height="14.0" fill="#45df1e"/>
<rect x="279.1" y="349.4" width="14.0" height="14.0" fill="#45df1e"/>
<rect x="325.4" y="349.4" width="14.0" height="14.0" fill="#45df1e"/>
<rect x="372.2" y="199.0" width="14.0" height="14.0" fill="#45df1e"/>
<rect x="419.1" y="197.0" width="14.0" height="14.0" fill="#45df1e"/>
<rect x="465.3" y="204.2" width="14.0" height="14.0" fill="#45df1e"/>
<rect x="512.3" y="364.0" width="14.0" height="14.0" fill="#45df1e"/>
<rect x="558.6" y="362.3" width="14.0" height="14.0" fill="#45df1e"/>
<rect x="604.8" y="364.9" width="14.0" height="14.0" fill="#45df1e"/>
<line x1="100.2" y1="380.9" x2="100.2" y2="409.9" stroke="#1f10fb" stroke-width="2.4" />
<line x1="93.2" y1="380.9" x2="107.2" y2="380.9" stroke="#1f10fb" stroke-width="2.4" />
<line x1="93.2" y1="409.9" x2="107.2" y2="409.9" stroke="#1f10fb" stroke-width="2.4" />
<line x1="146.5" y1="382.3" x2="146.5" y2="409.9" stroke="#1f10fb" stroke-width="2.4" />
<line x1="139.5" y1="382.3" x2="153.5" y2="382.3" stroke="#1f10fb" stroke-width="2.4" />
<line x1="139.5" y1="409.9" x2="153.5" y2="409.9" stroke="#1f10fb" stroke-width="2.4" />
<line x1="192.8" y1="384.0" x2="192.8" y2="412.5" stroke="#1f10fb" stroke-width="2.4" />
<line x1="185.8" y1="384.0" x2="199.8" y2="384.0" stroke="#1f10fb" stroke-width="2.4" />
<line x1="185.8" y1="412.5" x2="199.8" y2="412.5" stroke="#1f10fb" stroke-width="2.4" />
<line x1="239.8" y1="394.0" x2="239.8" y2="433.3" stroke="#1f10fb" stroke-width="2.4" />
<line x1="232.8" y1="394.0" x2="246.8" y2="394.0" stroke="#1f10fb" stroke-width="2.4" />
<line x1="232.8" y1="433.3" x2="246.8" y2="433.3" stroke="#1f10fb" stroke-width="2.4" />
<line x1="286.1" y1="394.0" x2="286.1" y2="433.3" stroke="#1f10fb" stroke-width="2.4" />
<line x1="279.1" y1="394.0" x2="293.1" y2="394.0" stroke="#1f10fb" stroke-width="2.4" />
<line x1="279.1" y1="433.3" x2="293.1" y2="433.3" stroke="#1f10fb" stroke-width="2.4" />
<line x1="332.4" y1="394.0" x2="332.4" y2="433.3" stroke="#1f10fb" stroke-width="2.4" />
<line x1="325.4" y1="394.0" x2="339.4" y2="394.0" stroke="#1f10fb" stroke-width="2.4" />
<line x1="325.4" y1="433.3" x2="339.4" y2="433.3" stroke="#1f10fb" stroke-width="2.4" />
<line x1="379.2" y1="369.3" x2="379.2" y2="398.7" stroke="#1f10fb" stroke-width="2.4" />
<line x1="372.2" y1="369.3" x2="386.2" y2="369.3" stroke="#1f10fb" stroke-width="2.4" />
<line x1="372.2" y1="398.7" x2="386.2" y2="398.7" stroke="#1f10fb" stroke-width="2.4" />
<line x1="426.1" y1="354.6" x2="426.1" y2="403.0" stroke="#1f10fb" stroke-width="2.4" />
<line x1="419.1" y1="354.6" x2="433.1" y2="354.6" stroke="#1f10fb" stroke-width="2.4" />
<line x1="419.1" y1="403.0" x2="433.1" y2="403.0" stroke="#1f10fb" stroke-width="2.4" />
<line x1="472.3" y1="349.5" x2="472.3" y2="406.1" stroke="#1f10fb" stroke-width="2.4" />
<line x1="465.3" y1="349.5" x2="479.3" y2="349.5" stroke="#1f10fb" stroke-width="2.4" />
<line x1="465.3" y1="406.1" x2="479.3" y2="406.1" stroke="#1f10fb" stroke-width="2.4" />
<line x1="519.3" y1="399.6" x2="519.3" y2="441.0" stroke="#1f10fb" stroke-width="2.4" />
<line x1="512.3" y1="399.6" x2="526.3" y2="399.6" stroke="#1f10fb" stroke-width="2.4" />
<line x1="512.3" y1="441.0" x2="526.3" y2="441.0" stroke="#1f10fb" stroke-width="2.4" />
<line x1="565.6" y1="401.0" x2="565.6" y2="440.2" stroke="#1f10fb" stroke-width="2.4" />
<line x1="558.6" y1="401.0" x2="572.6" y2="401.0" stroke="#1f10fb" stroke-width="2.4" />
<line x1="558.6" y1="440.2" x2="572.6" y2="440.2" stroke="#1f10fb" stroke-width="2.4" />
<line x1="611.8" y1="402.2" x2="611.8" y2="441.9" stroke="#1f10fb" stroke-width="2.4" />
<line x1="604.8" y1="402.2" x2="618.8" y2="402.2" stroke="#1f10fb" stroke-width="2.4" />
<line x1="604.8" y1="441.9" x2="618.8" y2="441.9" stroke="#1f10fb" stroke-width="2.4" />
<polyline points="100.2,395.3 146.5,396.1 192.8,397.0 239.8,413.4 286.1,413.4 332.4,413.4 379.2,383.5 426.1,378.8 472.3,377.5 519.3,420.3 565.6,420.8 611.8,422.0" fill="none" stroke="#1f10fb" stroke-width="2.6" stroke-linejoin="round"/>
<circle cx="100.2" cy="395.3" r="7" fill="#1f10fb"/>
<circle cx="146.5" cy="396.1" r="7" fill="#1f10fb"/>
<circle cx="192.8" cy="397.0" r="7" fill="#1f10fb"/>
<circle cx="239.8" cy="413.4" r="7" fill="#1f10fb"/>
<circle cx="286.1" cy="413.4" r="7" fill="#1f10fb"/>
<circle cx="332.4" cy="413.4" r="7" fill="#1f10fb"/>
<circle cx="379.2" cy="383.5" r="7" fill="#1f10fb"/>
<circle cx="426.1" cy="378.8" r="7" fill="#1f10fb"/>
<circle cx="472.3" cy="377.5" r="7" fill="#1f10fb"/>
<circle cx="519.3" cy="420.3" r="7" fill="#1f10fb"/>
<circle cx="565.6" cy="420.8" r="7" fill="#1f10fb"/>
<circle cx="611.8" cy="422.0" r="7" fill="#1f10fb"/>
<line x1="591.1" y1="87.2" x2="629.6" y2="87.2" stroke="#1f10fb" stroke-width="2.6" />
<circle cx="610.4" cy="87.2" r="7.2" fill="#1f10fb"/>
<text x="650.11" y="100.40" font-size="29.64" font-weight="normal" fill="#000" font-family="'Liberation Sans', Arial, sans-serif" textLength="151.09" lengthAdjust="spacingAndGlyphs" xml:space="preserve">hCMEC/D3</text>
<line x1="591.1" y1="136.4" x2="629.6" y2="136.4" stroke="#45df1e" stroke-width="2.6" />
<rect x="603.2" y="129.2" width="14.4" height="14.4" fill="#45df1e"/>
<text x="650.00" y="150.20" font-size="31.45" font-weight="normal" fill="#000" font-family="'Liberation Sans', Arial, sans-serif" textLength="113.19" lengthAdjust="spacingAndGlyphs" xml:space="preserve">Neurons</text>
<line x1="591.1" y1="185.5" x2="629.6" y2="185.5" stroke="#000" stroke-width="2.6" />
<polygon points="610.4,177.9 617.6,191.6 603.2,191.6" fill="#000"/>
<text x="651.00" y="198.10" font-size="30.72" font-weight="normal" fill="#000" font-family="'Liberation Sans', Arial, sans-serif" textLength="138.43" lengthAdjust="spacingAndGlyphs" xml:space="preserve">Astrocytes</text>
<text x="981.47" y="33.60" font-size="46.43" font-weight="bold" fill="#000" font-family="'Liberation Sans', Arial, sans-serif" textLength="28.18" lengthAdjust="spacingAndGlyphs" xml:space="preserve">B</text>
<text x="1356.94" y="68.60" font-size="35.79" font-weight="bold" fill="#000" font-family="'Liberation Sans', Arial, sans-serif" textLength="75.72" lengthAdjust="spacingAndGlyphs" xml:space="preserve">OCR</text>
<line x1="1074.0" y1="88.0" x2="1074.0" y2="458.2" stroke="#000" stroke-width="1.7" />
<line x1="1074.0" y1="458.2" x2="1629.0" y2="458.2" stroke="#000" stroke-width="1.7" />
<line x1="1064.0" y1="116.3" x2="1074.0" y2="116.3" stroke="#000" stroke-width="1.7" />
<text x="1027.98" y="126.70" font-size="28.71" font-weight="bold" fill="#000" font-family="'Liberation Sans', Arial, sans-serif" textLength="31.94" lengthAdjust="spacingAndGlyphs" xml:space="preserve">60</text>
<line x1="1064.0" y1="230.3" x2="1074.0" y2="230.3" stroke="#000" stroke-width="1.7" />
<text x="1027.98" y="240.70" font-size="28.71" font-weight="bold" fill="#000" font-family="'Liberation Sans', Arial, sans-serif" textLength="31.94" lengthAdjust="spacingAndGlyphs" xml:space="preserve">40</text>
<line x1="1064.0" y1="344.3" x2="1074.0" y2="344.3" stroke="#000" stroke-width="1.7" />
<text x="1027.98" y="354.70" font-size="28.71" font-weight="bold" fill="#000" font-family="'Liberation Sans', Arial, sans-serif" textLength="31.94" lengthAdjust="spacingAndGlyphs" xml:space="preserve">20</text>
<line x1="1064.0" y1="458.2" x2="1074.0" y2="458.2" stroke="#000" stroke-width="1.7" />
<text x="1043.77" y="468.60" font-size="28.71" font-weight="bold" fill="#000" font-family="'Liberation Sans', Arial, sans-serif" textLength="15.97" lengthAdjust="spacingAndGlyphs" xml:space="preserve">0</text>
<line x1="1074.0" y1="458.2" x2="1074.0" y2="468.3" stroke="#000" stroke-width="1.7" />
<text x="1065.88" y="499.30" font-size="28.29" font-weight="bold" fill="#000" font-family="'Liberation Sans', Arial, sans-serif" textLength="15.73" lengthAdjust="spacingAndGlyphs" xml:space="preserve">0</text>
<line x1="1351.5" y1="458.2" x2="1351.5" y2="468.3" stroke="#000" stroke-width="1.7" />
<text x="1335.74" y="499.30" font-size="28.29" font-weight="bold" fill="#000" font-family="'Liberation Sans', Arial, sans-serif" textLength="31.46" lengthAdjust="spacingAndGlyphs" xml:space="preserve">50</text>
<line x1="1628.8" y1="458.2" x2="1628.8" y2="468.3" stroke="#000" stroke-width="1.7" />
<text x="1604.70" y="499.30" font-size="28.29" font-weight="bold" fill="#000" font-family="'Liberation Sans', Arial, sans-serif" textLength="47.20" lengthAdjust="spacingAndGlyphs" xml:space="preserve">100</text>
<text x="1277.99" y="539.50" font-size="30.14" font-weight="bold" fill="#000" font-family="'Liberation Sans', Arial, sans-serif" textLength="147.79" lengthAdjust="spacingAndGlyphs" xml:space="preserve">time (min)</text>
<text transform="translate(1002.10,470.74) rotate(-90)" x="0" y="0" font-size="30.68" font-weight="bold" fill="#000" font-family="'Liberation Sans', Arial, sans-serif" textLength="396.63" lengthAdjust="spacingAndGlyphs" xml:space="preserve">OCR (pmol/min/norm. unit)</text>
<line x1="1081.7" y1="326.2" x2="1081.7" y2="341.6" stroke="#ff2014" stroke-width="2.6" />
<line x1="1081.7" y1="355.6" x2="1081.7" y2="377.0" stroke="#ff2014" stroke-width="2.6" />
<line x1="1074.7" y1="326.2" x2="1088.7" y2="326.2" stroke="#ff2014" stroke-width="2.6" />
<line x1="1074.7" y1="377.0" x2="1088.7" y2="377.0" stroke="#ff2014" stroke-width="2.6" />
<line x1="1129.5" y1="321.5" x2="1129.5" y2="337.6" stroke="#ff2014" stroke-width="2.6" />
<line x1="1129.5" y1="351.6" x2="1129.5" y2="368.0" stroke="#ff2014" stroke-width="2.6" />
<line x1="1122.5" y1="321.5" x2="1136.5" y2="321.5" stroke="#ff2014" stroke-width="2.6" />
<line x1="1122.5" y1="368.0" x2="1136.5" y2="368.0" stroke="#ff2014" stroke-width="2.6" />
<line x1="1177.0" y1="321.5" x2="1177.0" y2="335.6" stroke="#ff2014" stroke-width="2.6" />
<line x1="1177.0" y1="349.6" x2="1177.0" y2="364.2" stroke="#ff2014" stroke-width="2.6" />
<line x1="1170.0" y1="321.5" x2="1184.0" y2="321.5" stroke="#ff2014" stroke-width="2.6" />
<line x1="1170.0" y1="364.2" x2="1184.0" y2="364.2" stroke="#ff2014" stroke-width="2.6" />
<line x1="1225.0" y1="379.4" x2="1225.0" y2="386.6" stroke="#ff2014" stroke-width="2.6" />
<line x1="1225.0" y1="400.6" x2="1225.0" y2="408.2" stroke="#ff2014" stroke-width="2.6" />
<line x1="1218.0" y1="379.4" x2="1232.0" y2="379.4" stroke="#ff2014" stroke-width="2.6" />
<line x1="1218.0" y1="408.2" x2="1232.0" y2="408.2" stroke="#ff2014" stroke-width="2.6" />
<line x1="1272.5" y1="373.2" x2="1272.5" y2="381.9" stroke="#ff2014" stroke-width="2.6" />
<line x1="1272.5" y1="395.9" x2="1272.5" y2="405.6" stroke="#ff2014" stroke-width="2.6" />
<line x1="1265.5" y1="373.2" x2="1279.5" y2="373.2" stroke="#ff2014" stroke-width="2.6" />
<line x1="1265.5" y1="405.6" x2="1279.5" y2="405.6" stroke="#ff2014" stroke-width="2.6" />
<line x1="1320.1" y1="375.4" x2="1320.1" y2="382.2" stroke="#ff2014" stroke-width="2.6" />
<line x1="1320.1" y1="396.2" x2="1320.1" y2="404.8" stroke="#ff2014" stroke-width="2.6" />
<line x1="1313.1" y1="375.4" x2="1327.1" y2="375.4" stroke="#ff2014" stroke-width="2.6" />
<line x1="1313.1" y1="404.8" x2="1327.1" y2="404.8" stroke="#ff2014" stroke-width="2.6" />
<line x1="1367.6" y1="286.1" x2="1367.6" y2="308.3" stroke="#ff2014" stroke-width="2.6" />
<line x1="1367.6" y1="322.3" x2="1367.6" y2="345.5" stroke="#ff2014" stroke-width="2.6" />
<line x1="1360.6" y1="286.1" x2="1374.6" y2="286.1" stroke="#ff2014" stroke-width="2.6" />
<line x1="1360.6" y1="345.5" x2="1374.6" y2="345.5" stroke="#ff2014" stroke-width="2.6" />
<line x1="1415.5" y1="294.2" x2="1415.5" y2="322.6" stroke="#ff2014" stroke-width="2.6" />
<line x1="1415.5" y1="336.6" x2="1415.5" y2="364.7" stroke="#ff2014" stroke-width="2.6" />
<line x1="1408.5" y1="294.2" x2="1422.5" y2="294.2" stroke="#ff2014" stroke-width="2.6" />
<line x1="1408.5" y1="364.7" x2="1422.5" y2="364.7" stroke="#ff2014" stroke-width="2.6" />
<line x1="1463.0" y1="292.5" x2="1463.0" y2="317.4" stroke="#ff2014" stroke-width="2.6" />
<line x1="1463.0" y1="331.4" x2="1463.0" y2="355.9" stroke="#ff2014" stroke-width="2.6" />
<line x1="1456.0" y1="292.5" x2="1470.0" y2="292.5" stroke="#ff2014" stroke-width="2.6" />
<line x1="1456.0" y1="355.9" x2="1470.0" y2="355.9" stroke="#ff2014" stroke-width="2.6" />
<line x1="1511.0" y1="391.8" x2="1511.0" y2="398.6" stroke="#ff2014" stroke-width="2.6" />
<line x1="1511.0" y1="412.6" x2="1511.0" y2="419.5" stroke="#ff2014" stroke-width="2.6" />
<line x1="1504.0" y1="391.8" x2="1518.0" y2="391.8" stroke="#ff2014" stroke-width="2.6" />
<line x1="1504.0" y1="419.5" x2="1518.0" y2="419.5" stroke="#ff2014" stroke-width="2.6" />
<line x1="1558.6" y1="395.3" x2="1558.6" y2="399.9" stroke="#ff2014" stroke-width="2.6" />
<line x1="1558.6" y1="413.9" x2="1558.6" y2="418.5" stroke="#ff2014" stroke-width="2.6" />
<line x1="1551.6" y1="395.3" x2="1565.6" y2="395.3" stroke="#ff2014" stroke-width="2.6" />
<line x1="1551.6" y1="418.5" x2="1565.6" y2="418.5" stroke="#ff2014" stroke-width="2.6" />
<line x1="1606.1" y1="389.6" x2="1606.1" y2="395.2" stroke="#ff2014" stroke-width="2.6" />
<line x1="1606.1" y1="409.2" x2="1606.1" y2="415.0" stroke="#ff2014" stroke-width="2.6" />
<line x1="1599.1" y1="389.6" x2="1613.1" y2="389.6" stroke="#ff2014" stroke-width="2.6" />
<line x1="1599.1" y1="415.0" x2="1613.1" y2="415.0" stroke="#ff2014" stroke-width="2.6" />
<polyline points="1081.7,348.6 1129.5,344.6 1177.0,342.6 1225.0,393.6 1272.5,388.9 1320.1,389.2 1367.6,315.3 1415.5,329.6 1463.0,324.4 1511.0,405.6 1558.6,406.9 1606.1,402.2" fill="none" stroke="#ff2014" stroke-width="3.0" stroke-linejoin="round"/>
<circle cx="1081.7" cy="348.6" r="7.0" fill="none" stroke="#ff2014" stroke-width="2.8"/>
<circle cx="1129.5" cy="344.6" r="7.0" fill="none" stroke="#ff2014" stroke-width="2.8"/>
<circle cx="1177.0" cy="342.6" r="7.0" fill="none" stroke="#ff2014" stroke-width="2.8"/>
<circle cx="1225.0" cy="393.6" r="7.0" fill="none" stroke="#ff2014" stroke-width="2.8"/>
<circle cx="1272.5" cy="388.9" r="7.0" fill="none" stroke="#ff2014" stroke-width="2.8"/>
<circle cx="1320.1" cy="389.2" r="7.0" fill="none" stroke="#ff2014" stroke-width="2.8"/>
<circle cx="1367.6" cy="315.3" r="7.0" fill="none" stroke="#ff2014" stroke-width="2.8"/>
<circle cx="1415.5" cy="329.6" r="7.0" fill="none" stroke="#ff2014" stroke-width="2.8"/>
<circle cx="1463.0" cy="324.4" r="7.0" fill="none" stroke="#ff2014" stroke-width="2.8"/>
<circle cx="1511.0" cy="405.6" r="7.0" fill="none" stroke="#ff2014" stroke-width="2.8"/>
<circle cx="1558.6" cy="406.9" r="7.0" fill="none" stroke="#ff2014" stroke-width="2.8"/>
<circle cx="1606.1" cy="402.2" r="7.0" fill="none" stroke="#ff2014" stroke-width="2.8"/>
<line x1="1081.7" y1="373.0" x2="1081.7" y2="385.0" stroke="#ff2014" stroke-width="2.6" />
<line x1="1074.7" y1="373.0" x2="1088.7" y2="373.0" stroke="#ff2014" stroke-width="2.6" />
<line x1="1074.7" y1="385.0" x2="1088.7" y2="385.0" stroke="#ff2014" stroke-width="2.6" />
<line x1="1129.5" y1="372.0" x2="1129.5" y2="384.0" stroke="#ff2014" stroke-width="2.6" />
<line x1="1122.5" y1="372.0" x2="1136.5" y2="372.0" stroke="#ff2014" stroke-width="2.6" />
<line x1="1122.5" y1="384.0" x2="1136.5" y2="384.0" stroke="#ff2014" stroke-width="2.6" />
<line x1="1177.0" y1="375.0" x2="1177.0" y2="388.0" stroke="#ff2014" stroke-width="2.6" />
<line x1="1170.0" y1="375.0" x2="1184.0" y2="375.0" stroke="#ff2014" stroke-width="2.6" />
<line x1="1170.0" y1="388.0" x2="1184.0" y2="388.0" stroke="#ff2014" stroke-width="2.6" />
<line x1="1225.0" y1="390.0" x2="1225.0" y2="402.0" stroke="#ff2014" stroke-width="2.6" />
<line x1="1218.0" y1="390.0" x2="1232.0" y2="390.0" stroke="#ff2014" stroke-width="2.6" />
<line x1="1218.0" y1="402.0" x2="1232.0" y2="402.0" stroke="#ff2014" stroke-width="2.6" />
<line x1="1272.5" y1="396.0" x2="1272.5" y2="408.0" stroke="#ff2014" stroke-width="2.6" />
<line x1="1265.5" y1="396.0" x2="1279.5" y2="396.0" stroke="#ff2014" stroke-width="2.6" />
<line x1="1265.5" y1="408.0" x2="1279.5" y2="408.0" stroke="#ff2014" stroke-width="2.6" />
<line x1="1320.1" y1="397.0" x2="1320.1" y2="409.0" stroke="#ff2014" stroke-width="2.6" />
<line x1="1313.1" y1="397.0" x2="1327.1" y2="397.0" stroke="#ff2014" stroke-width="2.6" />
<line x1="1313.1" y1="409.0" x2="1327.1" y2="409.0" stroke="#ff2014" stroke-width="2.6" />
<line x1="1367.6" y1="386.0" x2="1367.6" y2="398.0" stroke="#ff2014" stroke-width="2.6" />
<line x1="1360.6" y1="386.0" x2="1374.6" y2="386.0" stroke="#ff2014" stroke-width="2.6" />
<line x1="1360.6" y1="398.0" x2="1374.6" y2="398.0" stroke="#ff2014" stroke-width="2.6" />
<line x1="1415.5" y1="387.0" x2="1415.5" y2="399.0" stroke="#ff2014" stroke-width="2.6" />
<line x1="1408.5" y1="387.0" x2="1422.5" y2="387.0" stroke="#ff2014" stroke-width="2.6" />
<line x1="1408.5" y1="399.0" x2="1422.5" y2="399.0" stroke="#ff2014" stroke-width="2.6" />
<line x1="1463.0" y1="387.0" x2="1463.0" y2="399.0" stroke="#ff2014" stroke-width="2.6" />
<line x1="1456.0" y1="387.0" x2="1470.0" y2="387.0" stroke="#ff2014" stroke-width="2.6" />
<line x1="1456.0" y1="399.0" x2="1470.0" y2="399.0" stroke="#ff2014" stroke-width="2.6" />
<line x1="1511.0" y1="426.0" x2="1511.0" y2="446.0" stroke="#ff2014" stroke-width="2.6" />
<line x1="1504.0" y1="426.0" x2="1518.0" y2="426.0" stroke="#ff2014" stroke-width="2.6" />
<line x1="1504.0" y1="446.0" x2="1518.0" y2="446.0" stroke="#ff2014" stroke-width="2.6" />
<line x1="1558.6" y1="428.0" x2="1558.6" y2="452.0" stroke="#ff2014" stroke-width="2.6" />
<line x1="1551.6" y1="428.0" x2="1565.6" y2="428.0" stroke="#ff2014" stroke-width="2.6" />
<line x1="1551.6" y1="452.0" x2="1565.6" y2="452.0" stroke="#ff2014" stroke-width="2.6" />
<line x1="1606.1" y1="428.0" x2="1606.1" y2="452.0" stroke="#ff2014" stroke-width="2.6" />
<line x1="1599.1" y1="428.0" x2="1613.1" y2="428.0" stroke="#ff2014" stroke-width="2.6" />
<line x1="1599.1" y1="452.0" x2="1613.1" y2="452.0" stroke="#ff2014" stroke-width="2.6" />
<polyline points="1081.7,379.2 1129.5,378.3 1177.0,381.5 1225.0,396.1 1272.5,402.2 1320.1,403.0 1367.6,391.8 1415.5,393.0 1463.0,393.0 1511.0,435.9 1558.6,440.2 1606.1,440.2" fill="none" stroke="#ff2014" stroke-width="3.0" stroke-linejoin="round"/>
<circle cx="1081.7" cy="379.2" r="7.2" fill="#ff2014"/>
<circle cx="1129.5" cy="378.3" r="7.2" fill="#ff2014"/>
<circle cx="1177.0" cy="381.5" r="7.2" fill="#ff2014"/>
<circle cx="1225.0" cy="396.1" r="7.2" fill="#ff2014"/>
<circle cx="1272.5" cy="402.2" r="7.2" fill="#ff2014"/>
<circle cx="1320.1" cy="403.0" r="7.2" fill="#ff2014"/>
<circle cx="1367.6" cy="391.8" r="7.2" fill="#ff2014"/>
<circle cx="1415.5" cy="393.0" r="7.2" fill="#ff2014"/>
<circle cx="1463.0" cy="393.0" r="7.2" fill="#ff2014"/>
<circle cx="1511.0" cy="435.9" r="7.2" fill="#ff2014"/>
<circle cx="1558.6" cy="440.2" r="7.2" fill="#ff2014"/>
<circle cx="1606.1" cy="440.2" r="7.2" fill="#ff2014"/>
<line x1="1081.7" y1="386.6" x2="1081.7" y2="396.4" stroke="#000" stroke-width="2.6" />
<line x1="1081.7" y1="410.4" x2="1081.7" y2="422.0" stroke="#000" stroke-width="2.6" />
<line x1="1074.7" y1="386.6" x2="1088.7" y2="386.6" stroke="#000" stroke-width="2.6" />
<line x1="1074.7" y1="422.0" x2="1088.7" y2="422.0" stroke="#000" stroke-width="2.6" />
<line x1="1129.5" y1="388.4" x2="1129.5" y2="396.9" stroke="#000" stroke-width="2.6" />
<line x1="1129.5" y1="410.9" x2="1129.5" y2="421.2" stroke="#000" stroke-width="2.6" />
<line x1="1122.5" y1="388.4" x2="1136.5" y2="388.4" stroke="#000" stroke-width="2.6" />
<line x1="1122.5" y1="421.2" x2="1136.5" y2="421.2" stroke="#000" stroke-width="2.6" />
<line x1="1177.0" y1="389.2" x2="1177.0" y2="398.6" stroke="#000" stroke-width="2.6" />
<line x1="1177.0" y1="412.6" x2="1177.0" y2="422.0" stroke="#000" stroke-width="2.6" />
<line x1="1170.0" y1="389.2" x2="1184.0" y2="389.2" stroke="#000" stroke-width="2.6" />
<line x1="1170.0" y1="422.0" x2="1184.0" y2="422.0" stroke="#000" stroke-width="2.6" />
<line x1="1225.0" y1="401.3" x2="1225.0" y2="418.0" stroke="#000" stroke-width="2.6" />
<line x1="1225.0" y1="432.0" x2="1225.0" y2="448.0" stroke="#000" stroke-width="2.6" />
<line x1="1218.0" y1="401.3" x2="1232.0" y2="401.3" stroke="#000" stroke-width="2.6" />
<line x1="1218.0" y1="448.0" x2="1232.0" y2="448.0" stroke="#000" stroke-width="2.6" />
<line x1="1272.5" y1="401.5" x2="1272.5" y2="417.7" stroke="#000" stroke-width="2.6" />
<line x1="1272.5" y1="431.7" x2="1272.5" y2="448.0" stroke="#000" stroke-width="2.6" />
<line x1="1265.5" y1="401.5" x2="1279.5" y2="401.5" stroke="#000" stroke-width="2.6" />
<line x1="1265.5" y1="448.0" x2="1279.5" y2="448.0" stroke="#000" stroke-width="2.6" />
<line x1="1320.1" y1="401.5" x2="1320.1" y2="418.0" stroke="#000" stroke-width="2.6" />
<line x1="1320.1" y1="432.0" x2="1320.1" y2="448.0" stroke="#000" stroke-width="2.6" />
<line x1="1313.1" y1="401.5" x2="1327.1" y2="401.5" stroke="#000" stroke-width="2.6" />
<line x1="1313.1" y1="448.0" x2="1327.1" y2="448.0" stroke="#000" stroke-width="2.6" />
<line x1="1367.6" y1="372.8" x2="1367.6" y2="382.2" stroke="#000" stroke-width="2.6" />
<line x1="1367.6" y1="396.2" x2="1367.6" y2="407.4" stroke="#000" stroke-width="2.6" />
<line x1="1360.6" y1="372.8" x2="1374.6" y2="372.8" stroke="#000" stroke-width="2.6" />
<line x1="1360.6" y1="407.4" x2="1374.6" y2="407.4" stroke="#000" stroke-width="2.6" />
<line x1="1415.5" y1="355.9" x2="1415.5" y2="377.0" stroke="#000" stroke-width="2.6" />
<line x1="1415.5" y1="391.0" x2="1415.5" y2="412.9" stroke="#000" stroke-width="2.6" />
<line x1="1408.5" y1="355.9" x2="1422.5" y2="355.9" stroke="#000" stroke-width="2.6" />
<line x1="1408.5" y1="412.9" x2="1422.5" y2="412.9" stroke="#000" stroke-width="2.6" />
<line x1="1463.0" y1="349.5" x2="1463.0" y2="375.7" stroke="#000" stroke-width="2.6" />
<line x1="1463.0" y1="389.7" x2="1463.0" y2="416.4" stroke="#000" stroke-width="2.6" />
<line x1="1456.0" y1="349.5" x2="1470.0" y2="349.5" stroke="#000" stroke-width="2.6" />
<line x1="1456.0" y1="416.4" x2="1470.0" y2="416.4" stroke="#000" stroke-width="2.6" />
<line x1="1511.0" y1="408.2" x2="1511.0" y2="425.4" stroke="#000" stroke-width="2.6" />
<line x1="1511.0" y1="439.4" x2="1511.0" y2="456.0" stroke="#000" stroke-width="2.6" />
<line x1="1504.0" y1="408.2" x2="1518.0" y2="408.2" stroke="#000" stroke-width="2.6" />
<line x1="1504.0" y1="456.0" x2="1518.0" y2="456.0" stroke="#000" stroke-width="2.6" />
<line x1="1558.6" y1="409.6" x2="1558.6" y2="425.8" stroke="#000" stroke-width="2.6" />
<line x1="1558.6" y1="439.8" x2="1558.6" y2="456.0" stroke="#000" stroke-width="2.6" />
<line x1="1551.6" y1="409.6" x2="1565.6" y2="409.6" stroke="#000" stroke-width="2.6" />
<line x1="1551.6" y1="456.0" x2="1565.6" y2="456.0" stroke="#000" stroke-width="2.6" />
<line x1="1606.1" y1="411.7" x2="1606.1" y2="428.0" stroke="#000" stroke-width="2.6" />
<line x1="1606.1" y1="442.0" x2="1606.1" y2="458.0" stroke="#000" stroke-width="2.6" />
<line x1="1599.1" y1="411.7" x2="1613.1" y2="411.7" stroke="#000" stroke-width="2.6" />
<line x1="1599.1" y1="458.0" x2="1613.1" y2="458.0" stroke="#000" stroke-width="2.6" />
<polyline points="1081.7,403.4 1129.5,403.9 1177.0,405.6 1225.0,425.0 1272.5,424.7 1320.1,425.0 1367.6,389.2 1415.5,384.0 1463.0,382.7 1511.0,432.4 1558.6,432.8 1606.1,435.0" fill="none" stroke="#000" stroke-width="3.0" stroke-linejoin="round"/>
<circle cx="1081.7" cy="403.4" r="7.0" fill="none" stroke="#000" stroke-width="2.8"/>
<circle cx="1129.5" cy="403.9" r="7.0" fill="none" stroke="#000" stroke-width="2.8"/>
<circle cx="1177.0" cy="405.6" r="7.0" fill="none" stroke="#000" stroke-width="2.8"/>
<circle cx="1225.0" cy="425.0" r="7.0" fill="none" stroke="#000" stroke-width="2.8"/>
<circle cx="1272.5" cy="424.7" r="7.0" fill="none" stroke="#000" stroke-width="2.8"/>
<circle cx="1320.1" cy="425.0" r="7.0" fill="none" stroke="#000" stroke-width="2.8"/>
<circle cx="1367.6" cy="389.2" r="7.0" fill="none" stroke="#000" stroke-width="2.8"/>
<circle cx="1415.5" cy="384.0" r="7.0" fill="none" stroke="#000" stroke-width="2.8"/>
<circle cx="1463.0" cy="382.7" r="7.0" fill="none" stroke="#000" stroke-width="2.8"/>
<circle cx="1511.0" cy="432.4" r="7.0" fill="none" stroke="#000" stroke-width="2.8"/>
<circle cx="1558.6" cy="432.8" r="7.0" fill="none" stroke="#000" stroke-width="2.8"/>
<circle cx="1606.1" cy="435.0" r="7.0" fill="none" stroke="#000" stroke-width="2.8"/>
<line x1="1081.7" y1="424.7" x2="1081.7" y2="450.6" stroke="#000" stroke-width="2.6" />
<line x1="1074.7" y1="424.7" x2="1088.7" y2="424.7" stroke="#000" stroke-width="2.6" />
<line x1="1074.7" y1="450.6" x2="1088.7" y2="450.6" stroke="#000" stroke-width="2.6" />
<line x1="1129.5" y1="431.6" x2="1129.5" y2="451.4" stroke="#000" stroke-width="2.6" />
<line x1="1122.5" y1="431.6" x2="1136.5" y2="431.6" stroke="#000" stroke-width="2.6" />
<line x1="1122.5" y1="451.4" x2="1136.5" y2="451.4" stroke="#000" stroke-width="2.6" />
<line x1="1177.0" y1="434.2" x2="1177.0" y2="449.7" stroke="#000" stroke-width="2.6" />
<line x1="1170.0" y1="434.2" x2="1184.0" y2="434.2" stroke="#000" stroke-width="2.6" />
<line x1="1170.0" y1="449.7" x2="1184.0" y2="449.7" stroke="#000" stroke-width="2.6" />
<line x1="1225.0" y1="432.4" x2="1225.0" y2="455.8" stroke="#000" stroke-width="2.6" />
<line x1="1218.0" y1="432.4" x2="1232.0" y2="432.4" stroke="#000" stroke-width="2.6" />
<line x1="1218.0" y1="455.8" x2="1232.0" y2="455.8" stroke="#000" stroke-width="2.6" />
<line x1="1272.5" y1="433.0" x2="1272.5" y2="456.0" stroke="#000" stroke-width="2.6" />
<line x1="1265.5" y1="433.0" x2="1279.5" y2="433.0" stroke="#000" stroke-width="2.6" />
<line x1="1265.5" y1="456.0" x2="1279.5" y2="456.0" stroke="#000" stroke-width="2.6" />
<line x1="1320.1" y1="434.0" x2="1320.1" y2="455.0" stroke="#000" stroke-width="2.6" />
<line x1="1313.1" y1="434.0" x2="1327.1" y2="434.0" stroke="#000" stroke-width="2.6" />
<line x1="1313.1" y1="455.0" x2="1327.1" y2="455.0" stroke="#000" stroke-width="2.6" />
<line x1="1367.6" y1="423.8" x2="1367.6" y2="444.9" stroke="#000" stroke-width="2.6" />
<line x1="1360.6" y1="423.8" x2="1374.6" y2="423.8" stroke="#000" stroke-width="2.6" />
<line x1="1360.6" y1="444.9" x2="1374.6" y2="444.9" stroke="#000" stroke-width="2.6" />
<line x1="1415.5" y1="429.0" x2="1415.5" y2="447.0" stroke="#000" stroke-width="2.6" />
<line x1="1408.5" y1="429.0" x2="1422.5" y2="429.0" stroke="#000" stroke-width="2.6" />
<line x1="1408.5" y1="447.0" x2="1422.5" y2="447.0" stroke="#000" stroke-width="2.6" />
<line x1="1463.0" y1="434.2" x2="1463.0" y2="449.7" stroke="#000" stroke-width="2.6" />
<line x1="1456.0" y1="434.2" x2="1470.0" y2="434.2" stroke="#000" stroke-width="2.6" />
<line x1="1456.0" y1="449.7" x2="1470.0" y2="449.7" stroke="#000" stroke-width="2.6" />
<line x1="1511.0" y1="441.0" x2="1511.0" y2="458.0" stroke="#000" stroke-width="2.6" />
<line x1="1504.0" y1="441.0" x2="1518.0" y2="441.0" stroke="#000" stroke-width="2.6" />
<line x1="1504.0" y1="458.0" x2="1518.0" y2="458.0" stroke="#000" stroke-width="2.6" />
<line x1="1558.6" y1="442.0" x2="1558.6" y2="458.0" stroke="#000" stroke-width="2.6" />
<line x1="1551.6" y1="442.0" x2="1565.6" y2="442.0" stroke="#000" stroke-width="2.6" />
<line x1="1551.6" y1="458.0" x2="1565.6" y2="458.0" stroke="#000" stroke-width="2.6" />
<line x1="1606.1" y1="441.0" x2="1606.1" y2="458.0" stroke="#000" stroke-width="2.6" />
<line x1="1599.1" y1="441.0" x2="1613.1" y2="441.0" stroke="#000" stroke-width="2.6" />
<line x1="1599.1" y1="458.0" x2="1613.1" y2="458.0" stroke="#000" stroke-width="2.6" />
<polyline points="1081.7,437.6 1129.5,441.0 1177.0,442.0 1225.0,439.3 1272.5,442.0 1320.1,442.8 1367.6,434.2 1415.5,437.6 1463.0,442.0 1511.0,449.7 1558.6,451.4 1606.1,449.7" fill="none" stroke="#000" stroke-width="3.0" stroke-linejoin="round"/>
<circle cx="1081.7" cy="437.6" r="7.2" fill="#000"/>
<circle cx="1129.5" cy="441.0" r="7.2" fill="#000"/>
<circle cx="1177.0" cy="442.0" r="7.2" fill="#000"/>
<circle cx="1225.0" cy="439.3" r="7.2" fill="#000"/>
<circle cx="1272.5" cy="442.0" r="7.2" fill="#000"/>
<circle cx="1320.1" cy="442.8" r="7.2" fill="#000"/>
<circle cx="1367.6" cy="434.2" r="7.2" fill="#000"/>
<circle cx="1415.5" cy="437.6" r="7.2" fill="#000"/>
<circle cx="1463.0" cy="442.0" r="7.2" fill="#000"/>
<circle cx="1511.0" cy="449.7" r="7.2" fill="#000"/>
<circle cx="1558.6" cy="451.4" r="7.2" fill="#000"/>
<circle cx="1606.1" cy="449.7" r="7.2" fill="#000"/>
<line x1="1580.4" y1="67.7" x2="1620.8" y2="67.7" stroke="#000" stroke-width="2.6" />
<circle cx="1600.6" cy="67.7" r="7.5" fill="none" stroke="#000" stroke-width="2.8"/>
<text x="1636.50" y="75.00" font-size="29.18" font-weight="normal" fill="#000" font-family="'Liberation Sans', Arial, sans-serif" textLength="140.74" lengthAdjust="spacingAndGlyphs" xml:space="preserve">Vehicle Nx</text>
<line x1="1580.4" y1="119.3" x2="1620.8" y2="119.3" stroke="#000" stroke-width="2.6" />
<circle cx="1600.6" cy="119.3" r="7.5" fill="#000"/>
<text x="1636.80" y="126.70" font-size="29.59" font-weight="normal" fill="#000" font-family="'Liberation Sans', Arial, sans-serif" textLength="95.76" lengthAdjust="spacingAndGlyphs" xml:space="preserve">Ami Nx</text>
<line x1="1580.4" y1="170.8" x2="1620.8" y2="170.8" stroke="#ff2014" stroke-width="2.6" />
<circle cx="1600.6" cy="170.8" r="7.5" fill="none" stroke="#ff2014" stroke-width="2.8"/>
<text x="1636.50" y="178.80" font-size="29.73" font-weight="normal" fill="#000" font-family="'Liberation Sans', Arial, sans-serif" textLength="202.50" lengthAdjust="spacingAndGlyphs" xml:space="preserve">Vehicle OGD/R</text>
<line x1="1580.4" y1="222.3" x2="1620.8" y2="222.3" stroke="#ff2014" stroke-width="2.6" />
<circle cx="1600.6" cy="222.3" r="7.5" fill="#ff2014"/>
<text x="1636.80" y="230.20" font-size="29.73" font-weight="normal" fill="#000" font-family="'Liberation Sans', Arial, sans-serif" textLength="157.13" lengthAdjust="spacingAndGlyphs" xml:space="preserve">Ami OGD/R</text>
<text x="12.27" y="636.40" font-size="46.71" font-weight="bold" fill="#000" font-family="'Liberation Sans', Arial, sans-serif" textLength="27.55" lengthAdjust="spacingAndGlyphs" xml:space="preserve">C</text>
<text x="230.53" y="662.70" font-size="33.01" font-weight="bold" fill="#000" font-family="'Liberation Sans', Arial, sans-serif" textLength="274.55" lengthAdjust="spacingAndGlyphs" xml:space="preserve">Basal respiration</text>
<line x1="163.8" y1="715.7" x2="163.8" y2="1124.6" stroke="#000" stroke-width="1.8" />
<line x1="163.8" y1="1124.6" x2="572.0" y2="1124.6" stroke="#000" stroke-width="1.8" />
<line x1="148.3" y1="716.3" x2="163.8" y2="716.3" stroke="#000" stroke-width="1.8" />
<text x="109.19" y="726.70" font-size="30.29" font-weight="bold" fill="#000" font-family="'Liberation Sans', Arial, sans-serif" textLength="33.69" lengthAdjust="spacingAndGlyphs" xml:space="preserve">15</text>
<line x1="148.3" y1="818.3" x2="163.8" y2="818.3" stroke="#000" stroke-width="1.8" />
<text x="109.95" y="828.70" font-size="29.86" font-weight="bold" fill="#000" font-family="'Liberation Sans', Arial, sans-serif" textLength="33.21" lengthAdjust="spacingAndGlyphs" xml:space="preserve">10</text>
<line x1="148.3" y1="920.2" x2="163.8" y2="920.2" stroke="#000" stroke-width="1.8" />
<text x="125.85" y="930.60" font-size="30.29" font-weight="bold" fill="#000" font-family="'Liberation Sans', Arial, sans-serif" textLength="16.85" lengthAdjust="spacingAndGlyphs" xml:space="preserve">5</text>
<line x1="148.3" y1="1022.2" x2="163.8" y2="1022.2" stroke="#000" stroke-width="1.8" />
<text x="126.37" y="1032.60" font-size="29.86" font-weight="bold" fill="#000" font-family="'Liberation Sans', Arial, sans-serif" textLength="16.61" lengthAdjust="spacingAndGlyphs" xml:space="preserve">0</text>
<line x1="148.3" y1="1124.6" x2="163.8" y2="1124.6" stroke="#000" stroke-width="1.8" />
<text x="115.85" y="1135.00" font-size="30.29" font-weight="bold" fill="#000" font-family="'Liberation Sans', Arial, sans-serif" textLength="26.93" lengthAdjust="spacingAndGlyphs" xml:space="preserve">-5</text>
<line x1="258.2" y1="1124.6" x2="258.2" y2="1140.4" stroke="#000" stroke-width="1.8" />
<text x="204.36" y="1173.80" font-size="30.96" font-weight="bold" fill="#000" font-family="'Liberation Sans', Arial, sans-serif" textLength="106.71" lengthAdjust="spacingAndGlyphs" xml:space="preserve">Vehicle</text>
<line x1="476.0" y1="1124.6" x2="476.0" y2="1140.4" stroke="#000" stroke-width="1.8" />
<text x="446.46" y="1173.80" font-size="30.96" font-weight="bold" fill="#000" font-family="'Liberation Sans', Arial, sans-serif" textLength="58.49" lengthAdjust="spacingAndGlyphs" xml:space="preserve">Ami</text>
<text transform="translate(53.70,975.39) rotate(-90)" x="0" y="0" font-size="27.67" font-weight="bold" fill="#000" font-family="'Liberation Sans', Arial, sans-serif" textLength="113.44" lengthAdjust="spacingAndGlyphs" xml:space="preserve">OCR/cell</text>
<text transform="translate(87.30,992.36) rotate(-90)" x="0" y="0" font-size="27.12" font-weight="normal" fill="#000" font-family="'Liberation Sans', Arial, sans-serif" textLength="146.80" lengthAdjust="spacingAndGlyphs" xml:space="preserve">Inc/dec, r.u.</text>
<circle cx="176.1" cy="1022.2" r="1.85" fill="#000"/>
<circle cx="188.3" cy="1022.2" r="1.85" fill="#000"/>
<circle cx="200.6" cy="1022.2" r="1.85" fill="#000"/>
<circle cx="212.8" cy="1022.2" r="1.85" fill="#000"/>
<circle cx="225.1" cy="1022.2" r="1.85" fill="#000"/>
<circle cx="237.4" cy="1022.2" r="1.85" fill="#000"/>
<circle cx="249.6" cy="1022.2" r="1.85" fill="#000"/>
<circle cx="261.9" cy="1022.2" r="1.85" fill="#000"/>
<circle cx="274.1" cy="1022.2" r="1.85" fill="#000"/>
<circle cx="286.4" cy="1022.2" r="1.85" fill="#000"/>
<circle cx="298.7" cy="1022.2" r="1.85" fill="#000"/>
<circle cx="310.9" cy="1022.2" r="1.85" fill="#000"/>
<circle cx="323.2" cy="1022.2" r="1.85" fill="#000"/>
<circle cx="335.4" cy="1022.2" r="1.85" fill="#000"/>
<circle cx="347.7" cy="1022.2" r="1.85" fill="#000"/>
<circle cx="360.0" cy="1022.2" r="1.85" fill="#000"/>
<circle cx="372.2" cy="1022.2" r="1.85" fill="#000"/>
<circle cx="384.5" cy="1022.2" r="1.85" fill="#000"/>
<circle cx="396.7" cy="1022.2" r="1.85" fill="#000"/>
<circle cx="409.0" cy="1022.2" r="1.85" fill="#000"/>
<circle cx="421.3" cy="1022.2" r="1.85" fill="#000"/>
<circle cx="433.5" cy="1022.2" r="1.85" fill="#000"/>
<circle cx="445.8" cy="1022.2" r="1.85" fill="#000"/>
<circle cx="458.0" cy="1022.2" r="1.85" fill="#000"/>
<circle cx="470.3" cy="1022.2" r="1.85" fill="#000"/>
<circle cx="482.6" cy="1022.2" r="1.85" fill="#000"/>
<circle cx="494.8" cy="1022.2" r="1.85" fill="#000"/>
<circle cx="507.1" cy="1022.2" r="1.85" fill="#000"/>
<circle cx="519.3" cy="1022.2" r="1.85" fill="#000"/>
<circle cx="531.6" cy="1022.2" r="1.85" fill="#000"/>
<circle cx="543.9" cy="1022.2" r="1.85" fill="#000"/>
<circle cx="556.1" cy="1022.2" r="1.85" fill="#000"/>
<circle cx="568.4" cy="1022.2" r="1.85" fill="#000"/>
<line x1="217.8" y1="1007.6" x2="217.8" y2="1017.2" stroke="#000" stroke-width="1.8" />
<line x1="217.8" y1="1026.9" x2="217.8" y2="1042.4" stroke="#000" stroke-width="1.8" />
<line x1="204.1" y1="1007.6" x2="231.6" y2="1007.6" stroke="#000" stroke-width="1.8" />
<line x1="204.1" y1="1042.4" x2="231.6" y2="1042.4" stroke="#000" stroke-width="1.8" />
<rect x="191.1" y="1017.2" width="53.4" height="9.7" fill="none" stroke="#000" stroke-width="1.8" />
<line x1="191.1" y1="1021.2" x2="244.5" y2="1021.2" stroke="#000" stroke-width="1.8" />
<line x1="299.8" y1="818.6" x2="299.8" y2="933.8" stroke="#000" stroke-width="1.8" />
<line x1="299.8" y1="999.7" x2="299.8" y2="1037.5" stroke="#000" stroke-width="1.8" />
<line x1="286.3" y1="818.6" x2="313.3" y2="818.6" stroke="#000" stroke-width="1.8" />
<line x1="286.3" y1="1037.5" x2="313.3" y2="1037.5" stroke="#000" stroke-width="1.8" />
<rect x="273.1" y="933.8" width="53.0" height="65.9" fill="#f63b3f" stroke="#000" stroke-width="1.8" />
<line x1="273.1" y1="960.8" x2="326.1" y2="960.8" stroke="#000" stroke-width="1.8" />
<line x1="435.8" y1="1013.0" x2="435.8" y2="1025.0" stroke="#000" stroke-width="1.8" />
<line x1="435.8" y1="1037.0" x2="435.8" y2="1045.4" stroke="#000" stroke-width="1.8" />
<line x1="422.3" y1="1013.0" x2="449.3" y2="1013.0" stroke="#000" stroke-width="1.8" />
<line x1="422.3" y1="1045.4" x2="449.3" y2="1045.4" stroke="#000" stroke-width="1.8" />
<rect x="409.0" y="1025.0" width="53.5" height="12.0" fill="none" stroke="#000" stroke-width="1.8" />
<line x1="409.0" y1="1028.0" x2="462.5" y2="1028.0" stroke="#000" stroke-width="1.8" />
<line x1="517.3" y1="881.0" x2="517.3" y2="918.6" stroke="#000" stroke-width="1.8" />
<line x1="517.3" y1="962.1" x2="517.3" y2="1022.0" stroke="#000" stroke-width="1.8" />
<line x1="503.8" y1="881.0" x2="530.8" y2="881.0" stroke="#000" stroke-width="1.8" />
<line x1="503.8" y1="1022.0" x2="530.8" y2="1022.0" stroke="#000" stroke-width="1.8" />
<rect x="491.0" y="918.6" width="52.6" height="43.5" fill="#f63b3f" stroke="#000" stroke-width="1.8" />
<line x1="491.0" y1="950.7" x2="543.6" y2="950.7" stroke="#000" stroke-width="1.8" />
<line x1="196.6" y1="735.2" x2="297.8" y2="735.2" stroke="#000" stroke-width="1.8" />
<text x="226.60" y="729.75" font-size="27.03" font-weight="bold" fill="#000" font-family="'Liberation Sans', Arial, sans-serif" textLength="36.23" lengthAdjust="spacingAndGlyphs" xml:space="preserve">***</text>
<line x1="417.9" y1="735.5" x2="518.6" y2="735.5" stroke="#000" stroke-width="1.8" />
<text x="447.80" y="729.75" font-size="27.03" font-weight="bold" fill="#000" font-family="'Liberation Sans', Arial, sans-serif" textLength="36.23" lengthAdjust="spacingAndGlyphs" xml:space="preserve">***</text>
<text x="642.03" y="636.70" font-size="47.25" font-weight="bold" fill="#000" font-family="'Liberation Sans', Arial, sans-serif" textLength="32.68" lengthAdjust="spacingAndGlyphs" xml:space="preserve">D</text>
<text x="802.78" y="663.50" font-size="33.56" font-weight="bold" fill="#000" font-family="'Liberation Sans', Arial, sans-serif" textLength="361.22" lengthAdjust="spacingAndGlyphs" xml:space="preserve">ATP-linked respiration</text>
<line x1="779.6" y1="716.8" x2="779.6" y2="1124.6" stroke="#000" stroke-width="1.8" />
<line x1="779.6" y1="1124.6" x2="1187.9" y2="1124.6" stroke="#000" stroke-width="1.8" />
<line x1="764.1" y1="716.8" x2="779.6" y2="716.8" stroke="#000" stroke-width="1.8" />
<text x="724.99" y="727.20" font-size="30.29" font-weight="bold" fill="#000" font-family="'Liberation Sans', Arial, sans-serif" textLength="33.69" lengthAdjust="spacingAndGlyphs" xml:space="preserve">15</text>
<line x1="764.1" y1="819.3" x2="779.6" y2="819.3" stroke="#000" stroke-width="1.8" />
<text x="725.75" y="829.70" font-size="29.86" font-weight="bold" fill="#000" font-family="'Liberation Sans', Arial, sans-serif" textLength="33.21" lengthAdjust="spacingAndGlyphs" xml:space="preserve">10</text>
<line x1="764.1" y1="921.0" x2="779.6" y2="921.0" stroke="#000" stroke-width="1.8" />
<text x="741.65" y="931.40" font-size="30.29" font-weight="bold" fill="#000" font-family="'Liberation Sans', Arial, sans-serif" textLength="16.85" lengthAdjust="spacingAndGlyphs" xml:space="preserve">5</text>
<line x1="764.1" y1="1023.2" x2="779.6" y2="1023.2" stroke="#000" stroke-width="1.8" />
<text x="742.17" y="1033.60" font-size="29.86" font-weight="bold" fill="#000" font-family="'Liberation Sans', Arial, sans-serif" textLength="16.61" lengthAdjust="spacingAndGlyphs" xml:space="preserve">0</text>
<line x1="764.1" y1="1124.6" x2="779.6" y2="1124.6" stroke="#000" stroke-width="1.8" />
<text x="731.65" y="1135.00" font-size="30.29" font-weight="bold" fill="#000" font-family="'Liberation Sans', Arial, sans-serif" textLength="26.93" lengthAdjust="spacingAndGlyphs" xml:space="preserve">-5</text>
<line x1="874.6" y1="1124.6" x2="874.6" y2="1140.4" stroke="#000" stroke-width="1.8" />
<text x="820.76" y="1173.80" font-size="30.96" font-weight="bold" fill="#000" font-family="'Liberation Sans', Arial, sans-serif" textLength="106.71" lengthAdjust="spacingAndGlyphs" xml:space="preserve">Vehicle</text>
<line x1="1092.5" y1="1124.6" x2="1092.5" y2="1140.4" stroke="#000" stroke-width="1.8" />
<text x="1062.96" y="1173.80" font-size="30.96" font-weight="bold" fill="#000" font-family="'Liberation Sans', Arial, sans-serif" textLength="58.49" lengthAdjust="spacingAndGlyphs" xml:space="preserve">Ami</text>
<text transform="translate(669.50,975.89) rotate(-90)" x="0" y="0" font-size="27.67" font-weight="bold" fill="#000" font-family="'Liberation Sans', Arial, sans-serif" textLength="113.44" lengthAdjust="spacingAndGlyphs" xml:space="preserve">OCR/cell</text>
<text transform="translate(703.10,992.86) rotate(-90)" x="0" y="0" font-size="27.12" font-weight="normal" fill="#000" font-family="'Liberation Sans', Arial, sans-serif" textLength="146.80" lengthAdjust="spacingAndGlyphs" xml:space="preserve">Inc/dec, r.u.</text>
<circle cx="791.9" cy="1023.2" r="1.85" fill="#000"/>
<circle cx="804.1" cy="1023.2" r="1.85" fill="#000"/>
<circle cx="816.4" cy="1023.2" r="1.85" fill="#000"/>
<circle cx="828.6" cy="1023.2" r="1.85" fill="#000"/>
<circle cx="840.9" cy="1023.2" r="1.85" fill="#000"/>
<circle cx="853.2" cy="1023.2" r="1.85" fill="#000"/>
<circle cx="865.4" cy="1023.2" r="1.85" fill="#000"/>
<circle cx="877.7" cy="1023.2" r="1.85" fill="#000"/>
<circle cx="889.9" cy="1023.2" r="1.85" fill="#000"/>
<circle cx="902.2" cy="1023.2" r="1.85" fill="#000"/>
<circle cx="914.5" cy="1023.2" r="1.85" fill="#000"/>
<circle cx="926.7" cy="1023.2" r="1.85" fill="#000"/>
<circle cx="939.0" cy="1023.2" r="1.85" fill="#000"/>
<circle cx="951.2" cy="1023.2" r="1.85" fill="#000"/>
<circle cx="963.5" cy="1023.2" r="1.85" fill="#000"/>
<circle cx="975.8" cy="1023.2" r="1.85" fill="#000"/>
<circle cx="988.0" cy="1023.2" r="1.85" fill="#000"/>
<circle cx="1000.3" cy="1023.2" r="1.85" fill="#000"/>
<circle cx="1012.5" cy="1023.2" r="1.85" fill="#000"/>
<circle cx="1024.8" cy="1023.2" r="1.85" fill="#000"/>
<circle cx="1037.1" cy="1023.2" r="1.85" fill="#000"/>
<circle cx="1049.3" cy="1023.2" r="1.85" fill="#000"/>
<circle cx="1061.6" cy="1023.2" r="1.85" fill="#000"/>
<circle cx="1073.8" cy="1023.2" r="1.85" fill="#000"/>
<circle cx="1086.1" cy="1023.2" r="1.85" fill="#000"/>
<circle cx="1098.4" cy="1023.2" r="1.85" fill="#000"/>
<circle cx="1110.6" cy="1023.2" r="1.85" fill="#000"/>
<circle cx="1122.9" cy="1023.2" r="1.85" fill="#000"/>
<circle cx="1135.1" cy="1023.2" r="1.85" fill="#000"/>
<circle cx="1147.4" cy="1023.2" r="1.85" fill="#000"/>
<circle cx="1159.7" cy="1023.2" r="1.85" fill="#000"/>
<circle cx="1171.9" cy="1023.2" r="1.85" fill="#000"/>
<circle cx="1184.2" cy="1023.2" r="1.85" fill="#000"/>
<line x1="834.1" y1="1002.5" x2="834.1" y2="1016.0" stroke="#000" stroke-width="1.8" />
<line x1="834.1" y1="1030.0" x2="834.1" y2="1046.0" stroke="#000" stroke-width="1.8" />
<line x1="821.1" y1="1002.5" x2="847.1" y2="1002.5" stroke="#000" stroke-width="1.8" />
<line x1="821.1" y1="1046.0" x2="847.1" y2="1046.0" stroke="#000" stroke-width="1.8" />
<rect x="808.2" y="1016.0" width="51.8" height="14.0" fill="none" stroke="#000" stroke-width="1.8" />
<line x1="808.2" y1="1022.0" x2="860.0" y2="1022.0" stroke="#000" stroke-width="1.8" />
<line x1="915.8" y1="801.8" x2="915.8" y2="881.0" stroke="#000" stroke-width="1.8" />
<line x1="915.8" y1="1015.0" x2="915.8" y2="1040.7" stroke="#000" stroke-width="1.8" />
<line x1="903.3" y1="801.8" x2="928.3" y2="801.8" stroke="#000" stroke-width="1.8" />
<line x1="903.3" y1="1040.7" x2="928.3" y2="1040.7" stroke="#000" stroke-width="1.8" />
<rect x="889.6" y="881.0" width="52.5" height="134.0" fill="#f63b3f" stroke="#000" stroke-width="1.8" />
<line x1="889.6" y1="986.4" x2="942.1" y2="986.4" stroke="#000" stroke-width="1.8" />
<line x1="1051.4" y1="1010.7" x2="1051.4" y2="1024.6" stroke="#000" stroke-width="1.8" />
<line x1="1051.4" y1="1039.0" x2="1051.4" y2="1048.2" stroke="#000" stroke-width="1.8" />
<line x1="1038.4" y1="1010.7" x2="1064.4" y2="1010.7" stroke="#000" stroke-width="1.8" />
<line x1="1038.4" y1="1048.2" x2="1064.4" y2="1048.2" stroke="#000" stroke-width="1.8" />
<rect x="1024.6" y="1024.6" width="53.6" height="14.4" fill="none" stroke="#000" stroke-width="1.8" />
<line x1="1024.6" y1="1028.6" x2="1078.2" y2="1028.6" stroke="#000" stroke-width="1.8" />
<line x1="1133.0" y1="915.7" x2="1133.0" y2="969.3" stroke="#000" stroke-width="1.8" />
<line x1="1133.0" y1="1016.8" x2="1133.0" y2="1040.7" stroke="#000" stroke-width="1.8" />
<line x1="1120.0" y1="915.7" x2="1146.0" y2="915.7" stroke="#000" stroke-width="1.8" />
<line x1="1120.0" y1="1040.7" x2="1146.0" y2="1040.7" stroke="#000" stroke-width="1.8" />
<rect x="1106.8" y="969.3" width="52.5" height="47.5" fill="#f63b3f" stroke="#000" stroke-width="1.8" />
<line x1="1106.8" y1="1002.5" x2="1159.3" y2="1002.5" stroke="#000" stroke-width="1.8" />
<line x1="812.9" y1="786.4" x2="913.6" y2="786.4" stroke="#000" stroke-width="1.8" />
<text x="843.20" y="784.51" font-size="29.73" font-weight="bold" fill="#000" font-family="'Liberation Sans', Arial, sans-serif" textLength="35.93" lengthAdjust="spacingAndGlyphs" xml:space="preserve">***</text>
<line x1="918.2" y1="766.0" x2="1135.0" y2="766.0" stroke="#000" stroke-width="1.8" />
<text x="1021.80" y="764.86" font-size="30.81" font-weight="bold" fill="#000" font-family="'Liberation Sans', Arial, sans-serif" textLength="9.58" lengthAdjust="spacingAndGlyphs" xml:space="preserve">*</text>
<line x1="1029.6" y1="906.0" x2="1130.7" y2="906.0" stroke="#000" stroke-width="1.8" />
<text x="1077.00" y="902.85" font-size="28.92" font-weight="bold" fill="#000" font-family="'Liberation Sans', Arial, sans-serif" textLength="9.58" lengthAdjust="spacingAndGlyphs" xml:space="preserve">*</text>
<text x="1258.29" y="636.30" font-size="46.67" font-weight="bold" fill="#000" font-family="'Liberation Sans', Arial, sans-serif" textLength="22.99" lengthAdjust="spacingAndGlyphs" xml:space="preserve">E</text>
<text x="1391.39" y="664.30" font-size="32.74" font-weight="bold" fill="#000" font-family="'Liberation Sans', Arial, sans-serif" textLength="421.71" lengthAdjust="spacingAndGlyphs" xml:space="preserve">Spare respiratory capacity</text>
<line x1="1398.7" y1="717.9" x2="1398.7" y2="1125.6" stroke="#000" stroke-width="1.8" />
<line x1="1398.7" y1="1125.6" x2="1807.3" y2="1125.6" stroke="#000" stroke-width="1.8" />
<line x1="1383.2" y1="717.9" x2="1398.7" y2="717.9" stroke="#000" stroke-width="1.8" />
<text x="1344.85" y="728.30" font-size="29.86" font-weight="bold" fill="#000" font-family="'Liberation Sans', Arial, sans-serif" textLength="33.21" lengthAdjust="spacingAndGlyphs" xml:space="preserve">10</text>
<line x1="1383.2" y1="819.6" x2="1398.7" y2="819.6" stroke="#000" stroke-width="1.8" />
<text x="1360.75" y="830.00" font-size="30.29" font-weight="bold" fill="#000" font-family="'Liberation Sans', Arial, sans-serif" textLength="16.85" lengthAdjust="spacingAndGlyphs" xml:space="preserve">5</text>
<line x1="1383.2" y1="921.8" x2="1398.7" y2="921.8" stroke="#000" stroke-width="1.8" />
<text x="1361.27" y="932.20" font-size="29.86" font-weight="bold" fill="#000" font-family="'Liberation Sans', Arial, sans-serif" textLength="16.61" lengthAdjust="spacingAndGlyphs" xml:space="preserve">0</text>
<line x1="1383.2" y1="1023.5" x2="1398.7" y2="1023.5" stroke="#000" stroke-width="1.8" />
<text x="1350.75" y="1033.90" font-size="30.29" font-weight="bold" fill="#000" font-family="'Liberation Sans', Arial, sans-serif" textLength="26.93" lengthAdjust="spacingAndGlyphs" xml:space="preserve">-5</text>
<line x1="1383.2" y1="1125.6" x2="1398.7" y2="1125.6" stroke="#000" stroke-width="1.8" />
<text x="1334.70" y="1136.00" font-size="29.86" font-weight="bold" fill="#000" font-family="'Liberation Sans', Arial, sans-serif" textLength="43.15" lengthAdjust="spacingAndGlyphs" xml:space="preserve">-10</text>
<line x1="1494.0" y1="1125.6" x2="1494.0" y2="1141.4" stroke="#000" stroke-width="1.8" />
<text x="1440.16" y="1174.80" font-size="30.96" font-weight="bold" fill="#000" font-family="'Liberation Sans', Arial, sans-serif" textLength="106.71" lengthAdjust="spacingAndGlyphs" xml:space="preserve">Vehicle</text>
<line x1="1712.0" y1="1125.6" x2="1712.0" y2="1141.4" stroke="#000" stroke-width="1.8" />
<text x="1682.46" y="1174.80" font-size="30.96" font-weight="bold" fill="#000" font-family="'Liberation Sans', Arial, sans-serif" textLength="58.49" lengthAdjust="spacingAndGlyphs" xml:space="preserve">Ami</text>
<text transform="translate(1278.50,977.89) rotate(-90)" x="0" y="0" font-size="27.67" font-weight="bold" fill="#000" font-family="'Liberation Sans', Arial, sans-serif" textLength="113.44" lengthAdjust="spacingAndGlyphs" xml:space="preserve">OCR/cell</text>
<text transform="translate(1312.10,994.86) rotate(-90)" x="0" y="0" font-size="27.12" font-weight="normal" fill="#000" font-family="'Liberation Sans', Arial, sans-serif" textLength="146.80" lengthAdjust="spacingAndGlyphs" xml:space="preserve">Inc/dec, r.u.</text>
<circle cx="1411.0" cy="921.8" r="1.85" fill="#000"/>
<circle cx="1423.2" cy="921.8" r="1.85" fill="#000"/>
<circle cx="1435.5" cy="921.8" r="1.85" fill="#000"/>
<circle cx="1447.7" cy="921.8" r="1.85" fill="#000"/>
<circle cx="1460.0" cy="921.8" r="1.85" fill="#000"/>
<circle cx="1472.3" cy="921.8" r="1.85" fill="#000"/>
<circle cx="1484.5" cy="921.8" r="1.85" fill="#000"/>
<circle cx="1496.8" cy="921.8" r="1.85" fill="#000"/>
<circle cx="1509.0" cy="921.8" r="1.85" fill="#000"/>
<circle cx="1521.3" cy="921.8" r="1.85" fill="#000"/>
<circle cx="1533.6" cy="921.8" r="1.85" fill="#000"/>
<circle cx="1545.8" cy="921.8" r="1.85" fill="#000"/>
<circle cx="1558.1" cy="921.8" r="1.85" fill="#000"/>
<circle cx="1570.3" cy="921.8" r="1.85" fill="#000"/>
<circle cx="1582.6" cy="921.8" r="1.85" fill="#000"/>
<circle cx="1594.9" cy="921.8" r="1.85" fill="#000"/>
<circle cx="1607.1" cy="921.8" r="1.85" fill="#000"/>
<circle cx="1619.4" cy="921.8" r="1.85" fill="#000"/>
<circle cx="1631.6" cy="921.8" r="1.85" fill="#000"/>
<circle cx="1643.9" cy="921.8" r="1.85" fill="#000"/>
<circle cx="1656.2" cy="921.8" r="1.85" fill="#000"/>
<circle cx="1668.4" cy="921.8" r="1.85" fill="#000"/>
<circle cx="1680.7" cy="921.8" r="1.85" fill="#000"/>
<circle cx="1692.9" cy="921.8" r="1.85" fill="#000"/>
<circle cx="1705.2" cy="921.8" r="1.85" fill="#000"/>
<circle cx="1717.5" cy="921.8" r="1.85" fill="#000"/>
<circle cx="1729.7" cy="921.8" r="1.85" fill="#000"/>
<circle cx="1742.0" cy="921.8" r="1.85" fill="#000"/>
<circle cx="1754.2" cy="921.8" r="1.85" fill="#000"/>
<circle cx="1766.5" cy="921.8" r="1.85" fill="#000"/>
<circle cx="1778.8" cy="921.8" r="1.85" fill="#000"/>
<circle cx="1791.0" cy="921.8" r="1.85" fill="#000"/>
<circle cx="1803.3" cy="921.8" r="1.85" fill="#000"/>
<line x1="1453.6" y1="770.3" x2="1453.6" y2="796.0" stroke="#000" stroke-width="1.8" />
<line x1="1453.6" y1="927.8" x2="1453.6" y2="933.4" stroke="#000" stroke-width="1.8" />
<line x1="1439.6" y1="770.3" x2="1467.6" y2="770.3" stroke="#000" stroke-width="1.8" />
<line x1="1439.6" y1="933.4" x2="1467.6" y2="933.4" stroke="#000" stroke-width="1.8" />
<rect x="1427.0" y="796.0" width="53.2" height="131.8" fill="none" stroke="#000" stroke-width="1.8" />
<line x1="1427.0" y1="869.8" x2="1480.2" y2="869.8" stroke="#000" stroke-width="1.8" />
<line x1="1535.4" y1="745.8" x2="1535.4" y2="786.6" stroke="#000" stroke-width="1.8" />
<line x1="1535.4" y1="914.9" x2="1535.4" y2="938.5" stroke="#000" stroke-width="1.8" />
<line x1="1521.9" y1="745.8" x2="1548.9" y2="745.8" stroke="#000" stroke-width="1.8" />
<line x1="1521.9" y1="938.5" x2="1548.9" y2="938.5" stroke="#000" stroke-width="1.8" />
<rect x="1509.0" y="786.6" width="52.8" height="128.3" fill="#f63b3f" stroke="#000" stroke-width="1.8" />
<line x1="1509.0" y1="848.8" x2="1561.8" y2="848.8" stroke="#000" stroke-width="1.8" />
<line x1="1671.2" y1="840.2" x2="1671.2" y2="840.2" stroke="#000" stroke-width="1.8" />
<line x1="1671.2" y1="926.0" x2="1671.2" y2="930.0" stroke="#000" stroke-width="1.8" />
<line x1="1658.7" y1="840.2" x2="1683.7" y2="840.2" stroke="#000" stroke-width="1.8" />
<line x1="1658.7" y1="930.0" x2="1683.7" y2="930.0" stroke="#000" stroke-width="1.8" />
<rect x="1644.6" y="840.2" width="53.2" height="85.8" fill="none" stroke="#000" stroke-width="1.8" />
<line x1="1644.6" y1="885.3" x2="1697.8" y2="885.3" stroke="#000" stroke-width="1.8" />
<line x1="1753.0" y1="936.4" x2="1753.0" y2="940.6" stroke="#000" stroke-width="1.8" />
<line x1="1753.0" y1="1049.2" x2="1753.0" y2="1082.3" stroke="#000" stroke-width="1.8" />
<line x1="1740.0" y1="936.4" x2="1766.0" y2="936.4" stroke="#000" stroke-width="1.8" />
<line x1="1740.0" y1="1082.3" x2="1766.0" y2="1082.3" stroke="#000" stroke-width="1.8" />
<rect x="1726.6" y="940.6" width="52.8" height="108.6" fill="#f63b3f" stroke="#000" stroke-width="1.8" />
<line x1="1726.6" y1="984.0" x2="1779.4" y2="984.0" stroke="#000" stroke-width="1.8" />
<line x1="1539.0" y1="735.9" x2="1744.2" y2="735.9" stroke="#000" stroke-width="1.8" />
<text x="1633.40" y="741.17" font-size="40.54" font-weight="bold" fill="#000" font-family="'Liberation Sans', Arial, sans-serif" textLength="15.07" lengthAdjust="spacingAndGlyphs" xml:space="preserve">*</text>
<line x1="1670.0" y1="1096.4" x2="1750.2" y2="1096.4" stroke="#000" stroke-width="1.8" />
<text x="1700.00" y="1108.05" font-size="42.97" font-weight="bold" fill="#000" font-family="'Liberation Sans', Arial, sans-serif" textLength="16.97" lengthAdjust="spacingAndGlyphs" xml:space="preserve">*</text>
<rect x="1807.6" y="730.8" width="42.4" height="18.4" rx="1.5" fill="#fff" stroke="#93a6bf" stroke-width="1.3"/>
<rect x="1807.6" y="776.4" width="42.4" height="18.4" fill="#ff1e0e" stroke="none" stroke-width="0" />
<text x="1867.61" y="748.90" font-size="30.87" font-weight="normal" fill="#000" font-family="'Liberation Sans', Arial, sans-serif" textLength="36.56" lengthAdjust="spacingAndGlyphs" xml:space="preserve">Nx</text>
<text x="1868.09" y="794.80" font-size="29.32" font-weight="normal" fill="#000" font-family="'Liberation Sans', Arial, sans-serif" textLength="98.96" lengthAdjust="spacingAndGlyphs" xml:space="preserve">OGD/R</text>
<text x="5.41" y="1243.70" font-size="46.52" font-weight="bold" fill="#000" font-family="'Liberation Sans', Arial, sans-serif" textLength="22.18" lengthAdjust="spacingAndGlyphs" xml:space="preserve">F</text>
<rect x="25.3" y="1286.1" width="1315.7" height="58.8" fill="#000" stroke="none" stroke-width="0" />
<rect x="25.3" y="1348.5" width="1315.7" height="58.2" fill="#000" stroke="none" stroke-width="0" />
<rect x="286.9" y="1348.5" width="2.0" height="58.2" fill="#b0b0b0" stroke="none" stroke-width="0" />
<rect x="550.0" y="1348.5" width="2.0" height="58.2" fill="#b0b0b0" stroke="none" stroke-width="0" />
<rect x="813.1" y="1348.5" width="2.0" height="58.2" fill="#b0b0b0" stroke="none" stroke-width="0" />
<rect x="1077.1" y="1348.5" width="2.0" height="58.2" fill="#b0b0b0" stroke="none" stroke-width="0" />
<rect x="25.3" y="1406.6" width="1315.7" height="2.0" fill="#c8c8c8" stroke="none" stroke-width="0" />
<text x="637.00" y="1326.40" font-size="29.42" font-weight="bold" fill="#ff2014" font-family="'Liberation Sans', Arial, sans-serif" textLength="89.46" lengthAdjust="spacingAndGlyphs" xml:space="preserve">TMRM</text>
<text x="86.16" y="1380.90" font-size="28.36" font-weight="normal" fill="#fff" font-family="'Liberation Sans', Arial, sans-serif" textLength="140.34" lengthAdjust="spacingAndGlyphs" xml:space="preserve">hCMEC/D3</text>
<text x="374.03" y="1380.90" font-size="29.57" font-weight="normal" fill="#fff" font-family="'Liberation Sans', Arial, sans-serif" textLength="90.62" lengthAdjust="spacingAndGlyphs" xml:space="preserve">HUVEC</text>
<text x="656.50" y="1380.90" font-size="30.00" font-weight="normal" fill="#fff" font-family="'Liberation Sans', Arial, sans-serif" textLength="51.51" lengthAdjust="spacingAndGlyphs" xml:space="preserve">HEK</text>
<text x="913.78" y="1380.90" font-size="29.57" font-weight="normal" fill="#fff" font-family="'Liberation Sans', Arial, sans-serif" textLength="62.38" lengthAdjust="spacingAndGlyphs" xml:space="preserve">SY5Y</text>
<text x="1158.26" y="1380.90" font-size="30.00" font-weight="normal" fill="#fff" font-family="'Liberation Sans', Arial, sans-serif" textLength="110.61" lengthAdjust="spacingAndGlyphs" xml:space="preserve">Neurons</text>
<rect x="25.3" y="1668.0" width="1315.7" height="1.8" fill="#c8c8c8" stroke="none" stroke-width="0" />
<rect x="25.3" y="1669.8" width="1315.7" height="28.8" fill="url(#cbar)" stroke="none" stroke-width="0" />
<rect x="24.7" y="1669.8" width="2.0" height="28.8" fill="#9a9a9a" stroke="none" stroke-width="0" />
<rect x="1339.3" y="1669.8" width="1.7" height="28.8" fill="#9a9a9a" stroke="none" stroke-width="0" />
<text x="33.30" y="1734.60" font-size="31.00" font-weight="bold" fill="#000" font-family="'Liberation Sans', Arial, sans-serif" textLength="18.08" lengthAdjust="spacingAndGlyphs" xml:space="preserve">0</text>
<text x="1279.18" y="1734.60" font-size="31.00" font-weight="bold" fill="#000" font-family="'Liberation Sans', Arial, sans-serif" textLength="50.99" lengthAdjust="spacingAndGlyphs" xml:space="preserve">255</text>
<text x="1700.00" y="1288.30" font-size="30.87" font-weight="bold" fill="#000" font-family="'Liberation Sans', Arial, sans-serif" textLength="73.45" lengthAdjust="spacingAndGlyphs" xml:space="preserve">MMP</text>
<line x1="1525.7" y1="1329.4" x2="1525.7" y2="1636.1" stroke="#000" stroke-width="1.8" />
<line x1="1513.9" y1="1636.1" x2="1948.4" y2="1636.1" stroke="#000" stroke-width="1.8" />
<line x1="1513.9" y1="1329.4" x2="1525.7" y2="1329.4" stroke="#000" stroke-width="1.8" />
<line x1="1513.9" y1="1390.4" x2="1525.7" y2="1390.4" stroke="#000" stroke-width="1.8" />
<line x1="1513.9" y1="1452.0" x2="1525.7" y2="1452.0" stroke="#000" stroke-width="1.8" />
<line x1="1513.9" y1="1513.4" x2="1525.7" y2="1513.4" stroke="#000" stroke-width="1.8" />
<line x1="1513.9" y1="1574.4" x2="1525.7" y2="1574.4" stroke="#000" stroke-width="1.8" />
<text x="1473.97" y="1336.80" font-size="21.43" font-weight="bold" fill="#000" font-family="'Liberation Sans', Arial, sans-serif" textLength="35.76" lengthAdjust="spacingAndGlyphs" xml:space="preserve">100</text>
<text x="1485.97" y="1397.80" font-size="21.43" font-weight="bold" fill="#000" font-family="'Liberation Sans', Arial, sans-serif" textLength="23.84" lengthAdjust="spacingAndGlyphs" xml:space="preserve">80</text>
<text x="1485.97" y="1459.40" font-size="21.43" font-weight="bold" fill="#000" font-family="'Liberation Sans', Arial, sans-serif" textLength="23.84" lengthAdjust="spacingAndGlyphs" xml:space="preserve">60</text>
<text x="1485.97" y="1520.80" font-size="21.43" font-weight="bold" fill="#000" font-family="'Liberation Sans', Arial, sans-serif" textLength="23.84" lengthAdjust="spacingAndGlyphs" xml:space="preserve">40</text>
<text x="1485.97" y="1581.80" font-size="21.43" font-weight="bold" fill="#000" font-family="'Liberation Sans', Arial, sans-serif" textLength="23.84" lengthAdjust="spacingAndGlyphs" xml:space="preserve">20</text>
<text x="1497.76" y="1643.50" font-size="21.43" font-weight="bold" fill="#000" font-family="'Liberation Sans', Arial, sans-serif" textLength="11.92" lengthAdjust="spacingAndGlyphs" xml:space="preserve">0</text>
<circle cx="1531.8" cy="1637.2" r="1.1" fill="#000"/>
<circle cx="1537.9" cy="1637.2" r="1.1" fill="#000"/>
<circle cx="1544.0" cy="1637.2" r="1.1" fill="#000"/>
<circle cx="1550.1" cy="1637.2" r="1.1" fill="#000"/>
<circle cx="1556.2" cy="1637.2" r="1.1" fill="#000"/>
<circle cx="1562.3" cy="1637.2" r="1.1" fill="#000"/>
<circle cx="1568.4" cy="1637.2" r="1.1" fill="#000"/>
<circle cx="1574.5" cy="1637.2" r="1.1" fill="#000"/>
<circle cx="1580.6" cy="1637.2" r="1.1" fill="#000"/>
<circle cx="1586.7" cy="1637.2" r="1.1" fill="#000"/>
<circle cx="1592.8" cy="1637.2" r="1.1" fill="#000"/>
<circle cx="1598.9" cy="1637.2" r="1.1" fill="#000"/>
<circle cx="1605.0" cy="1637.2" r="1.1" fill="#000"/>
<circle cx="1611.1" cy="1637.2" r="1.1" fill="#000"/>
<circle cx="1617.2" cy="1637.2" r="1.1" fill="#000"/>
<circle cx="1623.3" cy="1637.2" r="1.1" fill="#000"/>
<circle cx="1629.4" cy="1637.2" r="1.1" fill="#000"/>
<circle cx="1635.5" cy="1637.2" r="1.1" fill="#000"/>
<circle cx="1641.6" cy="1637.2" r="1.1" fill="#000"/>
<circle cx="1647.7" cy="1637.2" r="1.1" fill="#000"/>
<circle cx="1653.8" cy="1637.2" r="1.1" fill="#000"/>
<circle cx="1659.9" cy="1637.2" r="1.1" fill="#000"/>
<circle cx="1666.0" cy="1637.2" r="1.1" fill="#000"/>
<circle cx="1672.1" cy="1637.2" r="1.1" fill="#000"/>
<circle cx="1678.2" cy="1637.2" r="1.1" fill="#000"/>
<circle cx="1684.3" cy="1637.2" r="1.1" fill="#000"/>
<circle cx="1690.4" cy="1637.2" r="1.1" fill="#000"/>
<circle cx="1696.5" cy="1637.2" r="1.1" fill="#000"/>
<circle cx="1702.6" cy="1637.2" r="1.1" fill="#000"/>
<circle cx="1708.7" cy="1637.2" r="1.1" fill="#000"/>
<circle cx="1714.8" cy="1637.2" r="1.1" fill="#000"/>
<circle cx="1720.9" cy="1637.2" r="1.1" fill="#000"/>
<circle cx="1727.0" cy="1637.2" r="1.1" fill="#000"/>
<circle cx="1733.1" cy="1637.2" r="1.1" fill="#000"/>
<circle cx="1739.2" cy="1637.2" r="1.1" fill="#000"/>
<circle cx="1745.3" cy="1637.2" r="1.1" fill="#000"/>
<circle cx="1751.4" cy="1637.2" r="1.1" fill="#000"/>
<circle cx="1757.5" cy="1637.2" r="1.1" fill="#000"/>
<circle cx="1763.6" cy="1637.2" r="1.1" fill="#000"/>
<circle cx="1769.7" cy="1637.2" r="1.1" fill="#000"/>
<circle cx="1775.8" cy="1637.2" r="1.1" fill="#000"/>
<circle cx="1781.9" cy="1637.2" r="1.1" fill="#000"/>
<circle cx="1788.0" cy="1637.2" r="1.1" fill="#000"/>
<circle cx="1794.1" cy="1637.2" r="1.1" fill="#000"/>
<circle cx="1800.2" cy="1637.2" r="1.1" fill="#000"/>
<circle cx="1806.3" cy="1637.2" r="1.1" fill="#000"/>
<circle cx="1812.4" cy="1637.2" r="1.1" fill="#000"/>
<circle cx="1818.5" cy="1637.2" r="1.1" fill="#000"/>
<circle cx="1824.6" cy="1637.2" r="1.1" fill="#000"/>
<circle cx="1830.7" cy="1637.2" r="1.1" fill="#000"/>
<circle cx="1836.8" cy="1637.2" r="1.1" fill="#000"/>
<circle cx="1842.9" cy="1637.2" r="1.1" fill="#000"/>
<circle cx="1849.0" cy="1637.2" r="1.1" fill="#000"/>
<circle cx="1855.1" cy="1637.2" r="1.1" fill="#000"/>
<circle cx="1861.2" cy="1637.2" r="1.1" fill="#000"/>
<circle cx="1867.3" cy="1637.2" r="1.1" fill="#000"/>
<circle cx="1873.4" cy="1637.2" r="1.1" fill="#000"/>
<circle cx="1879.5" cy="1637.2" r="1.1" fill="#000"/>
<circle cx="1885.6" cy="1637.2" r="1.1" fill="#000"/>
<circle cx="1891.7" cy="1637.2" r="1.1" fill="#000"/>
<circle cx="1897.8" cy="1637.2" r="1.1" fill="#000"/>
<circle cx="1903.9" cy="1637.2" r="1.1" fill="#000"/>
<circle cx="1910.0" cy="1637.2" r="1.1" fill="#000"/>
<circle cx="1916.1" cy="1637.2" r="1.1" fill="#000"/>
<circle cx="1922.2" cy="1637.2" r="1.1" fill="#000"/>
<circle cx="1928.3" cy="1637.2" r="1.1" fill="#000"/>
<circle cx="1934.4" cy="1637.2" r="1.1" fill="#000"/>
<circle cx="1940.5" cy="1637.2" r="1.1" fill="#000"/>
<circle cx="1946.6" cy="1637.2" r="1.1" fill="#000"/>
<line x1="1578.6" y1="1636.1" x2="1578.6" y2="1647.9" stroke="#000" stroke-width="1.8" />
<text transform="translate(1586.6,1672.0) rotate(-45)" font-size="25" font-weight="bold" fill="#000" text-anchor="end" font-family="'Liberation Sans', Arial, sans-serif" >hCMEC/D3</text>
<line x1="1657.7" y1="1636.1" x2="1657.7" y2="1647.9" stroke="#000" stroke-width="1.8" />
<text transform="translate(1665.7,1672.0) rotate(-45)" font-size="25" font-weight="bold" fill="#000" text-anchor="end" font-family="'Liberation Sans', Arial, sans-serif" >HUVEC</text>
<line x1="1737.0" y1="1636.1" x2="1737.0" y2="1647.9" stroke="#000" stroke-width="1.8" />
<text transform="translate(1745.0,1672.0) rotate(-45)" font-size="25" font-weight="bold" fill="#000" text-anchor="end" font-family="'Liberation Sans', Arial, sans-serif" >HEK</text>
<line x1="1816.0" y1="1636.1" x2="1816.0" y2="1647.9" stroke="#000" stroke-width="1.8" />
<text transform="translate(1824.0,1672.0) rotate(-45)" font-size="25" font-weight="bold" fill="#000" text-anchor="end" font-family="'Liberation Sans', Arial, sans-serif" >SY5Y</text>
<line x1="1895.2" y1="1636.1" x2="1895.2" y2="1647.9" stroke="#000" stroke-width="1.8" />
<text transform="translate(1903.2,1672.0) rotate(-45)" font-size="25" font-weight="bold" fill="#000" text-anchor="end" font-family="'Liberation Sans', Arial, sans-serif" >Neurons</text>
<text transform="translate(1423.90,1630.78) rotate(-90)" x="0" y="0" font-size="25.34" font-weight="bold" fill="#000" font-family="'Liberation Sans', Arial, sans-serif" textLength="324.22" lengthAdjust="spacingAndGlyphs" xml:space="preserve">Fluorescence intensity/cell</text>
<text transform="translate(1455.00,1489.62) rotate(-90)" x="0" y="0" font-size="25.37" font-weight="bold" fill="#000" font-family="'Liberation Sans', Arial, sans-serif" textLength="41.16" lengthAdjust="spacingAndGlyphs" xml:space="preserve">r.u.</text>
<line x1="1578.8" y1="1623.4" x2="1578.8" y2="1633.2" stroke="#000" stroke-width="1.8" />
<line x1="1565.8" y1="1623.4" x2="1591.2" y2="1623.4" stroke="#000" stroke-width="1.8" />
<line x1="1565.8" y1="1633.2" x2="1591.2" y2="1633.2" stroke="#000" stroke-width="1.8" />
<line x1="1552.5" y1="1627.2" x2="1604.5" y2="1627.2" stroke="#000" stroke-width="2.6" />
<circle cx="1558.2" cy="1634.0" r="5.2" fill="none" stroke="#000" stroke-width="2.4"/>
<circle cx="1578.9" cy="1623.4" r="5.2" fill="none" stroke="#000" stroke-width="2.4"/>
<circle cx="1599.2" cy="1627.2" r="5.2" fill="none" stroke="#000" stroke-width="2.4"/>
<line x1="1657.7" y1="1391.0" x2="1657.7" y2="1630.4" stroke="#000" stroke-width="1.8" />
<line x1="1645.0" y1="1391.0" x2="1670.4" y2="1391.0" stroke="#000" stroke-width="1.8" />
<line x1="1645.0" y1="1630.4" x2="1670.4" y2="1630.4" stroke="#000" stroke-width="1.8" />
<line x1="1631.2" y1="1510.3" x2="1683.3" y2="1510.3" stroke="#000" stroke-width="2.6" />
<circle cx="1657.7" cy="1375.6" r="5.2" fill="none" stroke="#000" stroke-width="2.4"/>
<circle cx="1657.7" cy="1554.9" r="5.2" fill="none" stroke="#000" stroke-width="2.4"/>
<circle cx="1657.7" cy="1603.5" r="5.2" fill="none" stroke="#000" stroke-width="2.4"/>
<line x1="1737.0" y1="1600.6" x2="1737.0" y2="1613.7" stroke="#000" stroke-width="1.8" />
<line x1="1724.8" y1="1600.6" x2="1749.4" y2="1600.6" stroke="#000" stroke-width="1.8" />
<line x1="1724.8" y1="1613.7" x2="1749.4" y2="1613.7" stroke="#000" stroke-width="1.8" />
<line x1="1710.6" y1="1607.4" x2="1763.3" y2="1607.4" stroke="#000" stroke-width="2.6" />
<circle cx="1736.7" cy="1598.0" r="5.2" fill="none" stroke="#000" stroke-width="2.4"/>
<circle cx="1724.8" cy="1612.0" r="5.2" fill="none" stroke="#000" stroke-width="2.4"/>
<circle cx="1749.0" cy="1612.0" r="5.2" fill="none" stroke="#000" stroke-width="2.4"/>
<line x1="1816.0" y1="1600.0" x2="1816.0" y2="1616.3" stroke="#000" stroke-width="1.8" />
<line x1="1803.5" y1="1600.0" x2="1828.5" y2="1600.0" stroke="#000" stroke-width="1.8" />
<line x1="1803.5" y1="1616.3" x2="1828.5" y2="1616.3" stroke="#000" stroke-width="1.8" />
<line x1="1790.0" y1="1608.2" x2="1842.4" y2="1608.2" stroke="#000" stroke-width="2.6" />
<circle cx="1803.9" cy="1601.8" r="5.2" fill="none" stroke="#000" stroke-width="2.4"/>
<circle cx="1828.5" cy="1603.6" r="5.2" fill="none" stroke="#000" stroke-width="2.4"/>
<circle cx="1816.0" cy="1617.8" r="5.2" fill="none" stroke="#000" stroke-width="2.4"/>
<circle cx="1875.4" cy="1629.7" r="5.2" fill="none" stroke="#7b7b7b" stroke-width="2.4"/>
<circle cx="1895.2" cy="1629.7" r="5.2" fill="none" stroke="#7b7b7b" stroke-width="2.4"/>
<circle cx="1915.0" cy="1629.7" r="5.2" fill="none" stroke="#7b7b7b" stroke-width="2.4"/>
<line x1="1869.8" y1="1629.2" x2="1921.8" y2="1629.2" stroke="#1a1a1a" stroke-width="2.6" />
<text x="0.34" y="1854.40" font-size="46.29" font-weight="bold" fill="#000" font-family="'Liberation Sans', Arial, sans-serif" textLength="32.26" lengthAdjust="spacingAndGlyphs" xml:space="preserve">G</text>
<rect x="28.2" y="1864.5" width="1213.7" height="60.7" fill="#000" stroke="none" stroke-width="0" />
<rect x="28.2" y="1929.0" width="1213.7" height="59.6" fill="#000" stroke="none" stroke-width="0" />
<rect x="323.8" y="1929.0" width="1.8" height="59.6" fill="#c0c0c0" stroke="none" stroke-width="0" />
<rect x="629.7" y="1929.0" width="1.8" height="59.6" fill="#c0c0c0" stroke="none" stroke-width="0" />
<rect x="935.8" y="1929.0" width="1.8" height="59.6" fill="#c0c0c0" stroke="none" stroke-width="0" />
<rect x="28.2" y="1988.6" width="1213.7" height="1.5" fill="#c8c8c8" stroke="none" stroke-width="0" />
<text x="515.36" y="1898.50" font-size="27.81" font-weight="bold" fill="#fff" font-family="'Liberation Sans', Arial, sans-serif" textLength="134.47" lengthAdjust="spacingAndGlyphs" xml:space="preserve">hCMEC/D3</text>
<text x="658.35" y="1898.50" font-size="29.59" font-weight="bold" fill="#ff2014" font-family="'Liberation Sans', Arial, sans-serif" textLength="87.18" lengthAdjust="spacingAndGlyphs" xml:space="preserve">(MMP)</text>
<text x="108.63" y="1961.30" font-size="28.36" font-weight="normal" fill="#fff" font-family="'Liberation Sans', Arial, sans-serif" textLength="126.46" lengthAdjust="spacingAndGlyphs" xml:space="preserve">Vehicle Nx</text>
<text x="387.63" y="1961.30" font-size="28.36" font-weight="normal" fill="#fff" font-family="'Liberation Sans', Arial, sans-serif" textLength="180.20" lengthAdjust="spacingAndGlyphs" xml:space="preserve">Vehicle OGD/R</text>
<text x="741.00" y="1961.30" font-size="28.36" font-weight="normal" fill="#fff" font-family="'Liberation Sans', Arial, sans-serif" textLength="85.93" lengthAdjust="spacingAndGlyphs" xml:space="preserve">Ami Nx</text>
<text x="1020.00" y="1961.30" font-size="28.36" font-weight="normal" fill="#fff" font-family="'Liberation Sans', Arial, sans-serif" textLength="140.85" lengthAdjust="spacingAndGlyphs" xml:space="preserve">Ami OGD/R</text>
<rect x="28.2" y="2309.0" width="1213.0" height="1.2" fill="#c8c8c8" stroke="none" stroke-width="0" />
<rect x="28.2" y="2310.2" width="1213.0" height="51.5" fill="url(#cbar)" stroke="none" stroke-width="0" />
<rect x="1239.6" y="2310.2" width="1.6" height="51.5" fill="#9a9a9a" stroke="none" stroke-width="0" />
<rect x="28.2" y="2361.2" width="1213.0" height="1.0" fill="#b0b0b0" stroke="none" stroke-width="0" />
<text x="36.88" y="2397.50" font-size="28.71" font-weight="bold" fill="#000" font-family="'Liberation Sans', Arial, sans-serif" textLength="15.22" lengthAdjust="spacingAndGlyphs" xml:space="preserve">0</text>
<text x="1190.52" y="2394.40" font-size="29.29" font-weight="bold" fill="#000" font-family="'Liberation Sans', Arial, sans-serif" textLength="43.63" lengthAdjust="spacingAndGlyphs" xml:space="preserve">255</text>
<text x="1520.37" y="1894.40" font-size="34.52" font-weight="bold" fill="#000" font-family="'Liberation Sans', Arial, sans-serif" textLength="290.67" lengthAdjust="spacingAndGlyphs" xml:space="preserve">MMP (hCMEC/D3)</text>
<line x1="1460.6" y1="1945.8" x2="1460.6" y2="2356.0" stroke="#000" stroke-width="1.8" />
<line x1="1444.6" y1="2356.0" x2="1870.8" y2="2356.0" stroke="#000" stroke-width="1.8" />
<line x1="1444.6" y1="1947.0" x2="1460.6" y2="1947.0" stroke="#000" stroke-width="1.8" />
<text x="1396.27" y="1958.10" font-size="31.71" font-weight="bold" fill="#000" font-family="'Liberation Sans', Arial, sans-serif" textLength="44.09" lengthAdjust="spacingAndGlyphs" xml:space="preserve">0.8</text>
<line x1="1444.6" y1="2015.2" x2="1460.6" y2="2015.2" stroke="#000" stroke-width="1.8" />
<text x="1396.27" y="2026.30" font-size="31.71" font-weight="bold" fill="#000" font-family="'Liberation Sans', Arial, sans-serif" textLength="44.09" lengthAdjust="spacingAndGlyphs" xml:space="preserve">0.6</text>
<line x1="1444.6" y1="2083.3" x2="1460.6" y2="2083.3" stroke="#000" stroke-width="1.8" />
<text x="1395.32" y="2094.40" font-size="31.71" font-weight="bold" fill="#000" font-family="'Liberation Sans', Arial, sans-serif" textLength="44.09" lengthAdjust="spacingAndGlyphs" xml:space="preserve">0.4</text>
<line x1="1444.6" y1="2151.5" x2="1460.6" y2="2151.5" stroke="#000" stroke-width="1.8" />
<text x="1396.59" y="2162.60" font-size="31.71" font-weight="bold" fill="#000" font-family="'Liberation Sans', Arial, sans-serif" textLength="44.09" lengthAdjust="spacingAndGlyphs" xml:space="preserve">0.2</text>
<line x1="1444.6" y1="2219.5" x2="1460.6" y2="2219.5" stroke="#000" stroke-width="1.8" />
<text x="1396.59" y="2230.60" font-size="31.71" font-weight="bold" fill="#000" font-family="'Liberation Sans', Arial, sans-serif" textLength="44.09" lengthAdjust="spacingAndGlyphs" xml:space="preserve">0.0</text>
<line x1="1444.6" y1="2287.8" x2="1460.6" y2="2287.8" stroke="#000" stroke-width="1.8" />
<text x="1386.12" y="2298.90" font-size="31.71" font-weight="bold" fill="#000" font-family="'Liberation Sans', Arial, sans-serif" textLength="54.65" lengthAdjust="spacingAndGlyphs" xml:space="preserve">-0.2</text>
<line x1="1444.6" y1="2356.0" x2="1460.6" y2="2356.0" stroke="#000" stroke-width="1.8" />
<text x="1384.85" y="2367.10" font-size="31.71" font-weight="bold" fill="#000" font-family="'Liberation Sans', Arial, sans-serif" textLength="54.65" lengthAdjust="spacingAndGlyphs" xml:space="preserve">-0.4</text>
<line x1="1556.6" y1="2356.0" x2="1556.6" y2="2370.7" stroke="#000" stroke-width="1.8" />
<text x="1501.89" y="2403.60" font-size="29.59" font-weight="bold" fill="#000" font-family="'Liberation Sans', Arial, sans-serif" textLength="108.37" lengthAdjust="spacingAndGlyphs" xml:space="preserve">Vehicle</text>
<line x1="1775.1" y1="2356.0" x2="1775.1" y2="2370.7" stroke="#000" stroke-width="1.8" />
<text x="1745.07" y="2403.60" font-size="29.59" font-weight="bold" fill="#000" font-family="'Liberation Sans', Arial, sans-serif" textLength="58.68" lengthAdjust="spacingAndGlyphs" xml:space="preserve">Ami</text>
<text transform="translate(1333.60,2375.21) rotate(-90)" x="0" y="0" font-size="28.49" font-weight="bold" fill="#000" font-family="'Liberation Sans', Arial, sans-serif" textLength="486.44" lengthAdjust="spacingAndGlyphs" xml:space="preserve">Fluorescence  intensity (max-min)</text>
<text transform="translate(1367.60,2224.26) rotate(-90)" x="0" y="0" font-size="27.95" font-weight="normal" fill="#000" font-family="'Liberation Sans', Arial, sans-serif" textLength="147.21" lengthAdjust="spacingAndGlyphs" xml:space="preserve">Inc/dec, r.u.</text>
<circle cx="1472.8" cy="2219.1" r="1.85" fill="#000"/>
<circle cx="1485.0" cy="2219.1" r="1.85" fill="#000"/>
<circle cx="1497.2" cy="2219.1" r="1.85" fill="#000"/>
<circle cx="1509.4" cy="2219.1" r="1.85" fill="#000"/>
<circle cx="1521.6" cy="2219.1" r="1.85" fill="#000"/>
<circle cx="1533.8" cy="2219.1" r="1.85" fill="#000"/>
<circle cx="1546.0" cy="2219.1" r="1.85" fill="#000"/>
<circle cx="1558.2" cy="2219.1" r="1.85" fill="#000"/>
<circle cx="1570.4" cy="2219.1" r="1.85" fill="#000"/>
<circle cx="1582.6" cy="2219.1" r="1.85" fill="#000"/>
<circle cx="1594.8" cy="2219.1" r="1.85" fill="#000"/>
<circle cx="1607.0" cy="2219.1" r="1.85" fill="#000"/>
<circle cx="1619.2" cy="2219.1" r="1.85" fill="#000"/>
<circle cx="1631.4" cy="2219.1" r="1.85" fill="#000"/>
<circle cx="1643.6" cy="2219.1" r="1.85" fill="#000"/>
<circle cx="1655.8" cy="2219.1" r="1.85" fill="#000"/>
<circle cx="1668.0" cy="2219.1" r="1.85" fill="#000"/>
<circle cx="1680.2" cy="2219.1" r="1.85" fill="#000"/>
<circle cx="1692.4" cy="2219.1" r="1.85" fill="#000"/>
<circle cx="1704.6" cy="2219.1" r="1.85" fill="#000"/>
<circle cx="1716.8" cy="2219.1" r="1.85" fill="#000"/>
<circle cx="1729.0" cy="2219.1" r="1.85" fill="#000"/>
<circle cx="1741.2" cy="2219.1" r="1.85" fill="#000"/>
<circle cx="1753.4" cy="2219.1" r="1.85" fill="#000"/>
<circle cx="1765.6" cy="2219.1" r="1.85" fill="#000"/>
<circle cx="1777.8" cy="2219.1" r="1.85" fill="#000"/>
<circle cx="1790.0" cy="2219.1" r="1.85" fill="#000"/>
<circle cx="1802.2" cy="2219.1" r="1.85" fill="#000"/>
<circle cx="1814.4" cy="2219.1" r="1.85" fill="#000"/>
<circle cx="1826.6" cy="2219.1" r="1.85" fill="#000"/>
<circle cx="1838.8" cy="2219.1" r="1.85" fill="#000"/>
<circle cx="1851.0" cy="2219.1" r="1.85" fill="#000"/>
<circle cx="1863.2" cy="2219.1" r="1.85" fill="#000"/>
<circle cx="1496.3" cy="2219.1" r="7.9" fill="none" stroke="#000" stroke-width="3"/>
<circle cx="1515.8" cy="2219.1" r="7.9" fill="none" stroke="#000" stroke-width="3"/>
<circle cx="1535.2" cy="2219.1" r="7.9" fill="none" stroke="#000" stroke-width="3"/>
<line x1="1597.4" y1="1981.9" x2="1597.4" y2="2287.1" stroke="#ff2014" stroke-width="2" />
<line x1="1583.8" y1="1981.9" x2="1611.0" y2="1981.9" stroke="#ff2014" stroke-width="2" />
<line x1="1583.8" y1="2287.1" x2="1611.0" y2="2287.1" stroke="#ff2014" stroke-width="2" />
<line x1="1571.0" y1="2093.5" x2="1624.7" y2="2093.5" stroke="#ff2014" stroke-width="3.6" />
<circle cx="1597.4" cy="1981.9" r="7.9" fill="none" stroke="#ff2014" stroke-width="3"/>
<circle cx="1597.4" cy="2093.5" r="7.9" fill="none" stroke="#ff2014" stroke-width="3"/>
<circle cx="1597.4" cy="2287.1" r="7.9" fill="none" stroke="#ff2014" stroke-width="3"/>
<line x1="1734.7" y1="2191.9" x2="1734.7" y2="2274.7" stroke="#000" stroke-width="2" />
<line x1="1720.7" y1="2191.9" x2="1748.7" y2="2191.9" stroke="#000" stroke-width="2" />
<line x1="1720.7" y1="2274.7" x2="1748.7" y2="2274.7" stroke="#000" stroke-width="2" />
<line x1="1707.0" y1="2248.2" x2="1761.5" y2="2248.2" stroke="#000" stroke-width="3.6" />
<circle cx="1734.7" cy="2191.9" r="7.9" fill="none" stroke="#000" stroke-width="3"/>
<circle cx="1734.7" cy="2248.2" r="7.9" fill="none" stroke="#000" stroke-width="3"/>
<circle cx="1734.7" cy="2274.7" r="7.9" fill="none" stroke="#000" stroke-width="3"/>
<line x1="1816.0" y1="2181.4" x2="1816.0" y2="2286.3" stroke="#ff2014" stroke-width="2" />
<line x1="1802.0" y1="2181.4" x2="1830.0" y2="2181.4" stroke="#ff2014" stroke-width="2" />
<line x1="1802.0" y1="2286.3" x2="1830.0" y2="2286.3" stroke="#ff2014" stroke-width="2" />
<line x1="1788.7" y1="2259.1" x2="1843.2" y2="2259.1" stroke="#ff2014" stroke-width="3.6" />
<circle cx="1816.0" cy="2181.4" r="7.9" fill="none" stroke="#ff2014" stroke-width="3"/>
<circle cx="1816.0" cy="2259.1" r="7.9" fill="none" stroke="#ff2014" stroke-width="3"/>
<circle cx="1816.0" cy="2286.3" r="7.9" fill="none" stroke="#ff2014" stroke-width="3"/>
<rect x="1815.2" y="1952" width="42.8" height="17.5" rx="1.5" fill="#fff" stroke="#93a6bf" stroke-width="1.3"/>
<rect x="1815.2" y="1997.5" width="42.8" height="17.5" fill="#ff1e0e" stroke="none" stroke-width="0" />
<text x="1874.92" y="1968.30" font-size="30.87" font-weight="normal" fill="#000" font-family="'Liberation Sans', Arial, sans-serif" textLength="37.86" lengthAdjust="spacingAndGlyphs" xml:space="preserve">Nx</text>
<text x="1875.87" y="2015.00" font-size="29.18" font-weight="normal" fill="#000" font-family="'Liberation Sans', Arial, sans-serif" textLength="100.51" lengthAdjust="spacingAndGlyphs" xml:space="preserve">OGD/R</text>
</svg>
</body></html>
